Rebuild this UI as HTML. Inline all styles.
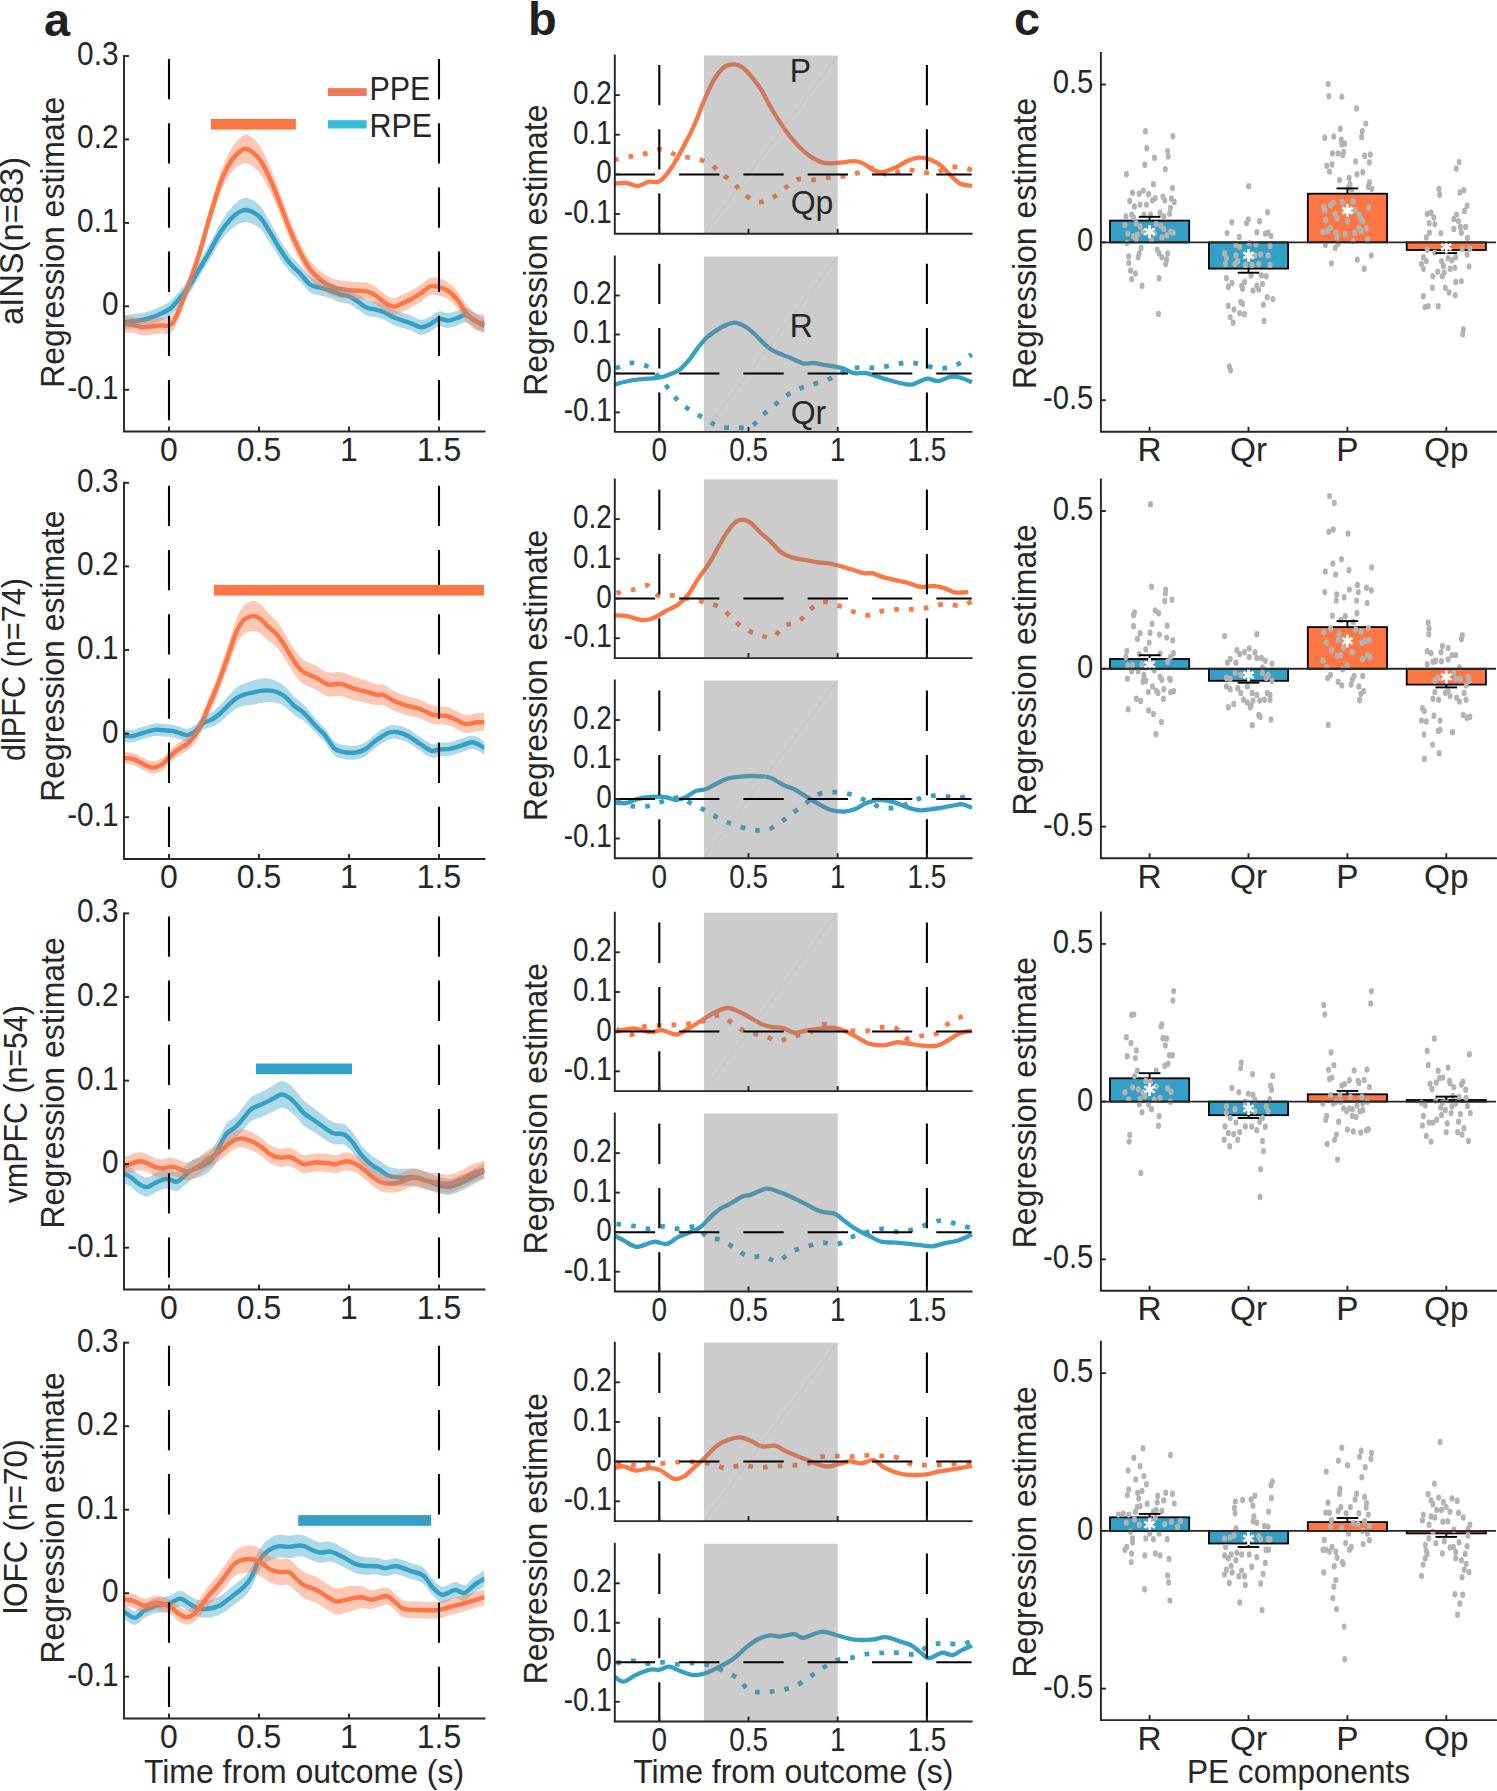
<!DOCTYPE html>
<html><head><meta charset="utf-8"><style>
html,body{margin:0;padding:0;background:#fff;}
svg{display:block;}
text{font-family:"Liberation Sans", sans-serif;}
</style></head><body>
<svg width="1497" height="1791" viewBox="0 0 1497 1791">
<rect width="1497" height="1791" fill="#fff"/>
<clipPath id="clipa0"><rect x="124" y="36" width="360.5" height="395.5"/></clipPath>
<g clip-path="url(#clipa0)">
<path d="M124.0,322.4 C125.5,322.2 130.0,321.6 133.0,321.2 C136.0,320.8 139.0,320.6 142.0,320.0 C145.0,319.4 148.0,318.6 151.0,317.6 C154.0,316.6 156.8,315.5 160.0,314.0 C163.2,312.5 166.7,311.5 170.0,308.8 C173.3,306.1 176.7,301.8 180.0,297.8 C183.3,293.8 186.7,289.7 190.1,284.7 C193.5,279.7 196.8,273.3 200.2,267.6 C203.5,261.9 206.8,256.4 210.2,250.6 C213.5,244.8 217.0,237.7 220.3,232.5 C223.7,227.3 227.0,222.9 230.3,219.4 C233.7,215.9 237.4,212.9 240.4,211.4 C243.4,209.9 245.1,209.4 248.4,210.4 C251.7,211.4 256.5,213.7 260.1,217.4 C263.7,221.1 266.8,227.2 270.1,232.5 C273.5,237.8 276.9,244.3 280.2,249.5 C283.5,254.7 286.8,259.6 290.2,263.6 C293.6,267.6 296.9,270.2 300.3,273.7 C303.7,277.2 307.0,282.4 310.3,284.7 C313.6,287.0 316.9,286.7 320.4,287.7 C323.8,288.7 327.7,289.7 331.0,290.8 C334.3,291.9 337.0,293.5 340.0,294.4 C343.0,295.3 346.0,295.1 349.0,296.3 C352.0,297.5 355.0,299.8 358.0,301.7 C361.0,303.6 364.0,306.5 367.0,307.8 C370.0,309.1 373.0,308.8 376.0,309.6 C379.0,310.4 382.0,311.4 385.0,312.7 C388.0,314.0 391.0,316.2 394.0,317.5 C397.0,318.8 400.0,319.6 403.0,320.6 C406.0,321.6 409.0,322.5 412.0,323.6 C415.0,324.7 418.0,327.2 421.0,327.3 C424.0,327.4 427.0,325.6 430.0,324.2 C433.0,322.8 436.0,319.4 439.0,318.8 C442.0,318.2 445.0,320.7 448.0,320.6 C451.0,320.5 454.0,319.0 457.0,318.1 C460.0,317.2 463.0,314.7 466.0,315.1 C469.0,315.5 471.9,318.8 475.0,320.6 C478.1,322.4 482.9,325.1 484.5,326.0" fill="none" stroke="#35A0C5" stroke-width="4.4" stroke-linejoin="round"/>
<path d="M124.0,324.2 C125.5,324.3 130.0,324.3 133.0,324.8 C136.0,325.3 139.0,326.9 142.0,327.2 C145.0,327.5 148.0,326.9 151.0,326.6 C154.0,326.3 157.0,325.6 160.0,325.4 C163.0,325.2 166.3,326.8 169.0,325.4 C171.7,324.0 172.5,324.3 176.0,316.9 C179.5,309.4 186.1,291.8 190.1,280.7 C194.1,269.6 196.8,261.5 200.2,250.6 C203.5,239.7 206.8,226.6 210.2,215.4 C213.5,204.2 217.0,192.1 220.3,183.2 C223.7,174.3 227.0,167.4 230.3,162.1 C233.7,156.8 237.4,153.2 240.4,151.1 C243.4,149.0 245.1,148.0 248.4,149.5 C251.7,151.0 256.5,155.2 260.1,160.1 C263.7,165.0 266.8,171.8 270.1,179.2 C273.5,186.6 276.9,195.8 280.2,204.3 C283.5,212.9 286.8,222.4 290.2,230.5 C293.6,238.6 296.9,246.1 300.3,252.6 C303.7,259.1 307.0,265.1 310.3,269.6 C313.6,274.1 316.9,276.9 320.4,279.7 C323.8,282.5 327.7,284.9 331.0,286.5 C334.3,288.1 337.0,288.4 340.0,289.0 C343.0,289.6 346.0,289.9 349.0,290.2 C352.0,290.5 355.0,290.6 358.0,290.8 C361.0,291.0 364.0,290.6 367.0,291.4 C370.0,292.2 373.0,293.8 376.0,295.7 C379.0,297.6 382.0,301.1 385.0,302.9 C388.0,304.7 391.0,306.6 394.0,306.6 C397.0,306.6 400.0,304.2 403.0,302.9 C406.0,301.6 409.0,300.3 412.0,298.7 C415.0,297.1 418.0,295.2 421.0,293.2 C424.0,291.2 427.0,287.5 430.0,286.5 C433.0,285.5 436.0,286.4 439.0,287.1 C442.0,287.8 445.0,288.8 448.0,290.8 C451.0,292.8 454.0,295.7 457.0,299.3 C460.0,302.9 463.0,309.1 466.0,312.7 C469.0,316.3 471.9,319.4 475.0,321.2 C478.1,323.0 482.9,323.2 484.5,323.6" fill="none" stroke="#FF7645" stroke-width="4.4" stroke-linejoin="round"/>
<path d="M124.0,315.4 L125.0,315.3 L126.3,315.1 L127.9,314.8 L129.7,314.6 L131.4,314.4 L133.0,314.1 L134.5,313.9 L136.0,313.8 L137.5,313.6 L139.0,313.4 L140.5,313.2 L142.0,312.9 L143.5,312.6 L145.0,312.2 L146.5,311.8 L148.0,311.4 L149.5,310.9 L151.0,310.4 L152.5,309.9 L154.0,309.4 L155.4,308.8 L156.9,308.2 L158.4,307.5 L160.0,306.8 L161.6,306.1 L163.3,305.4 L164.9,304.6 L166.6,303.8 L168.3,302.7 L170.0,301.5 L171.7,300.0 L173.3,298.3 L175.0,296.5 L176.7,294.5 L178.3,292.5 L180.0,290.5 L181.7,288.4 L183.4,286.4 L185.0,284.3 L186.7,282.1 L188.4,279.7 L190.1,277.3 L191.8,274.7 L193.5,271.9 L195.2,269.0 L196.8,266.0 L198.5,263.0 L200.2,260.1 L201.9,257.2 L203.5,254.3 L205.2,251.4 L206.9,248.5 L208.5,245.5 L210.2,242.5 L211.9,239.3 L213.6,236.0 L215.2,232.7 L216.9,229.4 L218.6,226.2 L220.3,223.3 L222.0,220.5 L223.6,217.9 L225.3,215.5 L227.0,213.1 L228.6,210.9 L230.3,208.9 L232.0,206.9 L233.7,205.1 L235.5,203.4 L237.2,201.9 L238.8,200.6 L240.4,199.5 L241.8,198.8 L243.1,198.2 L244.3,197.9 L245.5,197.7 L246.9,197.8 L248.4,198.2 L250.2,198.9 L252.1,199.9 L254.1,201.1 L256.2,202.5 L258.2,204.1 L260.1,206.0 L261.9,208.2 L263.6,210.8 L265.2,213.5 L266.8,216.4 L268.4,219.3 L270.1,222.2 L271.8,225.2 L273.5,228.2 L275.2,231.3 L276.8,234.4 L278.5,237.4 L280.2,240.3 L281.9,243.0 L283.5,245.6 L285.2,248.2 L286.9,250.6 L288.5,253.0 L290.2,255.2 L291.9,257.2 L293.6,259.0 L295.3,260.7 L296.9,262.3 L298.6,264.0 L300.3,265.7 L302.0,267.6 L303.6,269.6 L305.3,271.7 L307.0,273.6 L308.6,275.4 L310.3,276.8 L312.0,277.7 L313.6,278.4 L315.3,278.8 L317.0,279.1 L318.7,279.4 L320.4,279.8 L322.2,280.3 L324.0,280.8 L325.8,281.3 L327.6,281.9 L329.3,282.4 L331.0,283.0 L332.6,283.5 L334.1,284.2 L335.6,284.8 L337.1,285.5 L338.5,286.1 L340.0,286.6 L341.5,287.0 L343.0,287.2 L344.5,287.4 L346.0,287.7 L347.5,288.0 L349.0,288.5 L350.5,289.2 L352.0,290.1 L353.5,291.0 L355.0,292.0 L356.5,293.0 L358.0,294.0 L359.5,295.0 L361.0,296.1 L362.5,297.3 L364.0,298.4 L365.5,299.3 L367.0,300.1 L368.5,300.6 L370.0,301.0 L371.5,301.2 L373.0,301.4 L374.5,301.6 L376.0,301.9 L377.5,302.4 L379.0,302.8 L380.5,303.3 L382.0,303.9 L383.5,304.4 L385.0,305.1 L386.5,305.8 L388.0,306.6 L389.5,307.5 L391.0,308.4 L392.5,309.2 L394.0,309.9 L395.5,310.5 L397.0,311.1 L398.5,311.6 L400.0,312.1 L401.5,312.6 L403.0,313.1 L404.5,313.6 L406.0,314.1 L407.5,314.5 L409.0,315.0 L410.5,315.5 L412.0,316.1 L413.5,316.8 L415.0,317.5 L416.5,318.3 L418.0,319.1 L419.5,319.6 L421.0,319.8 L422.5,319.7 L424.0,319.4 L425.5,318.9 L427.0,318.2 L428.5,317.5 L430.0,316.8 L431.5,315.9 L433.0,314.9 L434.5,313.8 L436.0,312.7 L437.5,311.9 L439.0,311.4 L440.5,311.3 L442.0,311.6 L443.5,312.1 L445.0,312.7 L446.5,313.1 L448.0,313.2 L449.5,313.1 L451.0,312.8 L452.5,312.3 L454.0,311.8 L455.5,311.3 L457.0,310.8 L458.5,310.2 L460.0,309.5 L461.5,308.8 L463.0,308.2 L464.5,307.8 L466.0,307.8 L467.5,308.3 L469.0,309.0 L470.5,310.1 L472.0,311.2 L473.5,312.3 L475.0,313.4 L476.7,314.3 L478.5,315.4 L480.3,316.4 L482.0,317.4 L483.5,318.2 L484.5,318.8 L484.5,333.2 L483.5,332.6 L482.0,331.8 L480.3,330.9 L478.5,329.8 L476.7,328.8 L475.0,327.8 L473.5,326.8 L472.0,325.7 L470.5,324.6 L469.0,323.6 L467.5,322.8 L466.0,322.4 L464.5,322.4 L463.0,322.8 L461.5,323.4 L460.0,324.1 L458.5,324.8 L457.0,325.4 L455.5,325.9 L454.0,326.5 L452.5,327.0 L451.0,327.4 L449.5,327.8 L448.0,328.0 L446.5,327.8 L445.0,327.4 L443.5,326.9 L442.0,326.4 L440.5,326.1 L439.0,326.2 L437.5,326.7 L436.0,327.6 L434.5,328.6 L433.0,329.7 L431.5,330.8 L430.0,331.6 L428.5,332.4 L427.0,333.1 L425.5,333.8 L424.0,334.3 L422.5,334.7 L421.0,334.8 L419.5,334.5 L418.0,334.0 L416.5,333.3 L415.0,332.5 L413.5,331.8 L412.0,331.1 L410.5,330.6 L409.0,330.1 L407.5,329.6 L406.0,329.1 L404.5,328.6 L403.0,328.1 L401.5,327.7 L400.0,327.2 L398.5,326.7 L397.0,326.2 L395.5,325.7 L394.0,325.1 L392.5,324.4 L391.0,323.6 L389.5,322.7 L388.0,321.8 L386.5,321.0 L385.0,320.3 L383.5,319.7 L382.0,319.1 L380.5,318.6 L379.0,318.1 L377.5,317.7 L376.0,317.3 L374.5,316.9 L373.0,316.7 L371.5,316.6 L370.0,316.4 L368.5,316.0 L367.0,315.5 L365.5,314.7 L364.0,313.8 L362.5,312.7 L361.0,311.6 L359.5,310.5 L358.0,309.4 L356.5,308.5 L355.0,307.5 L353.5,306.5 L352.0,305.6 L350.5,304.8 L349.0,304.1 L347.5,303.6 L346.0,303.3 L344.5,303.0 L343.0,302.8 L341.5,302.6 L340.0,302.2 L338.5,301.7 L337.1,301.1 L335.6,300.5 L334.1,299.9 L332.6,299.2 L331.0,298.6 L329.3,298.1 L327.6,297.6 L325.8,297.1 L324.0,296.6 L322.2,296.1 L320.4,295.6 L318.7,295.2 L317.0,294.9 L315.3,294.6 L313.6,294.2 L312.0,293.6 L310.3,292.6 L308.6,291.3 L307.0,289.5 L305.3,287.6 L303.6,285.6 L302.0,283.5 L300.3,281.7 L298.6,280.1 L296.9,278.5 L295.3,277.0 L293.6,275.5 L291.9,273.8 L290.2,272.0 L288.5,270.1 L286.9,268.0 L285.2,265.8 L283.5,263.5 L281.9,261.2 L280.2,258.7 L278.5,256.2 L276.8,253.6 L275.2,250.8 L273.5,248.1 L271.8,245.4 L270.1,242.8 L268.4,240.2 L266.8,237.7 L265.2,235.1 L263.6,232.8 L261.9,230.6 L260.1,228.8 L258.2,227.2 L256.2,225.8 L254.1,224.7 L252.1,223.8 L250.2,223.1 L248.4,222.6 L246.9,222.2 L245.5,222.0 L244.3,222.0 L243.1,222.3 L241.8,222.7 L240.4,223.3 L238.8,224.0 L237.2,224.8 L235.5,225.9 L233.7,227.1 L232.0,228.4 L230.3,229.9 L228.6,231.5 L227.0,233.3 L225.3,235.2 L223.6,237.2 L222.0,239.4 L220.3,241.7 L218.6,244.3 L216.9,247.0 L215.2,249.9 L213.6,252.9 L211.9,255.9 L210.2,258.7 L208.5,261.5 L206.9,264.2 L205.2,266.9 L203.5,269.6 L201.9,272.3 L200.2,275.1 L198.5,278.0 L196.8,280.9 L195.2,283.8 L193.5,286.7 L191.8,289.5 L190.1,292.1 L188.4,294.5 L186.7,296.8 L185.0,299.0 L183.4,301.1 L181.7,303.1 L180.0,305.1 L178.3,307.2 L176.7,309.2 L175.0,311.1 L173.3,312.9 L171.7,314.6 L170.0,316.1 L168.3,317.3 L166.6,318.3 L164.9,319.1 L163.3,319.8 L161.6,320.5 L160.0,321.2 L158.4,321.9 L156.9,322.6 L155.4,323.2 L154.0,323.7 L152.5,324.3 L151.0,324.8 L149.5,325.2 L148.0,325.7 L146.5,326.1 L145.0,326.5 L143.5,326.8 L142.0,327.1 L140.5,327.4 L139.0,327.6 L137.5,327.8 L136.0,327.9 L134.5,328.1 L133.0,328.3 L131.4,328.5 L129.7,328.7 L127.9,328.9 L126.3,329.1 L125.0,329.3 L124.0,329.4 Z" fill="#35A0C5" fill-opacity="0.4" stroke="none"/>
<path d="M124.0,316.2 L125.0,316.2 L126.3,316.3 L127.9,316.4 L129.7,316.4 L131.4,316.6 L133.0,316.8 L134.5,317.1 L136.0,317.6 L137.5,318.1 L139.0,318.6 L140.5,319.0 L142.0,319.2 L143.5,319.3 L145.0,319.2 L146.5,319.1 L148.0,319.0 L149.5,318.8 L151.0,318.6 L152.5,318.4 L154.0,318.2 L155.5,318.0 L157.0,317.7 L158.5,317.5 L160.0,317.4 L161.5,317.4 L163.1,317.6 L164.6,317.9 L166.1,318.0 L167.6,317.9 L169.0,317.4 L170.2,316.8 L171.2,316.2 L172.2,315.4 L173.2,314.1 L174.4,312.0 L176.0,308.9 L178.0,304.4 L180.3,298.7 L182.9,292.1 L185.4,285.3 L187.9,278.7 L190.1,272.7 L192.0,267.4 L193.8,262.3 L195.4,257.5 L197.0,252.6 L198.6,247.6 L200.2,242.4 L201.9,236.7 L203.5,230.7 L205.2,224.6 L206.9,218.5 L208.5,212.5 L210.2,206.6 L211.9,200.7 L213.6,194.8 L215.2,189.0 L216.9,183.4 L218.6,178.0 L220.3,173.1 L222.0,168.6 L223.6,164.3 L225.3,160.3 L227.0,156.7 L228.6,153.3 L230.3,150.2 L232.0,147.3 L233.7,144.8 L235.5,142.5 L237.2,140.5 L238.8,138.7 L240.4,137.2 L241.8,136.2 L243.1,135.4 L244.3,134.8 L245.5,134.5 L246.9,134.6 L248.4,135.1 L250.2,136.2 L252.1,137.6 L254.1,139.4 L256.2,141.5 L258.2,143.8 L260.1,146.3 L261.9,149.2 L263.6,152.4 L265.2,155.8 L266.8,159.4 L268.4,163.1 L270.1,167.0 L271.8,171.1 L273.5,175.4 L275.2,179.9 L276.8,184.4 L278.5,189.0 L280.2,193.6 L281.9,198.1 L283.5,202.6 L285.2,207.3 L286.9,211.9 L288.5,216.3 L290.2,220.6 L291.9,224.7 L293.6,228.7 L295.3,232.6 L296.9,236.3 L298.6,239.9 L300.3,243.4 L302.0,246.7 L303.6,249.8 L305.3,252.9 L307.0,255.7 L308.6,258.4 L310.3,260.9 L312.0,263.0 L313.6,264.9 L315.3,266.6 L317.0,268.2 L318.7,269.7 L320.4,271.1 L322.2,272.5 L324.0,273.8 L325.8,275.0 L327.6,276.1 L329.3,277.1 L331.0,277.9 L332.6,278.6 L334.1,279.1 L335.6,279.5 L337.1,279.8 L338.5,280.1 L340.0,280.4 L341.5,280.7 L343.0,280.9 L344.5,281.1 L346.0,281.3 L347.5,281.4 L349.0,281.6 L350.5,281.7 L352.0,281.8 L353.5,281.9 L355.0,282.0 L356.5,282.1 L358.0,282.2 L359.5,282.3 L361.0,282.3 L362.5,282.3 L364.0,282.3 L365.5,282.5 L367.0,282.8 L368.5,283.3 L370.0,283.9 L371.5,284.5 L373.0,285.3 L374.5,286.2 L376.0,287.1 L377.5,288.2 L379.0,289.4 L380.5,290.7 L382.0,292.1 L383.5,293.3 L385.0,294.3 L386.5,295.2 L388.0,296.1 L389.5,296.8 L391.0,297.4 L392.5,297.9 L394.0,298.0 L395.5,297.8 L397.0,297.3 L398.5,296.6 L400.0,295.8 L401.5,295.0 L403.0,294.3 L404.5,293.6 L406.0,293.0 L407.5,292.3 L409.0,291.6 L410.5,290.9 L412.0,290.1 L413.5,289.3 L415.0,288.4 L416.5,287.5 L418.0,286.6 L419.5,285.6 L421.0,284.6 L422.5,283.5 L424.0,282.2 L425.5,280.9 L427.0,279.6 L428.5,278.6 L430.0,277.9 L431.5,277.5 L433.0,277.4 L434.5,277.6 L436.0,277.8 L437.5,278.1 L439.0,278.5 L440.5,278.9 L442.0,279.3 L443.5,279.9 L445.0,280.5 L446.5,281.3 L448.0,282.2 L449.5,283.3 L451.0,284.5 L452.5,285.8 L454.0,287.3 L455.5,288.9 L457.0,290.7 L458.5,292.7 L460.0,295.0 L461.5,297.4 L463.0,299.8 L464.5,302.1 L466.0,304.1 L467.5,305.9 L469.0,307.5 L470.5,309.0 L472.0,310.4 L473.5,311.6 L475.0,312.6 L476.7,313.4 L478.5,313.9 L480.3,314.3 L482.0,314.6 L483.5,314.8 L484.5,315.0 L484.5,332.2 L483.5,332.0 L482.0,331.8 L480.3,331.5 L478.5,331.1 L476.7,330.6 L475.0,329.8 L473.5,328.8 L472.0,327.6 L470.5,326.2 L469.0,324.7 L467.5,323.1 L466.0,321.3 L464.5,319.3 L463.0,317.0 L461.5,314.6 L460.0,312.2 L458.5,309.9 L457.0,307.9 L455.5,306.1 L454.0,304.5 L452.5,303.0 L451.0,301.7 L449.5,300.5 L448.0,299.4 L446.5,298.5 L445.0,297.7 L443.5,297.1 L442.0,296.5 L440.5,296.1 L439.0,295.7 L437.5,295.3 L436.0,295.0 L434.5,294.8 L433.0,294.6 L431.5,294.7 L430.0,295.1 L428.5,295.8 L427.0,296.8 L425.5,298.1 L424.0,299.4 L422.5,300.7 L421.0,301.8 L419.5,302.8 L418.0,303.8 L416.5,304.7 L415.0,305.6 L413.5,306.5 L412.0,307.3 L410.5,308.1 L409.0,308.8 L407.5,309.5 L406.0,310.2 L404.5,310.8 L403.0,311.5 L401.5,312.2 L400.0,313.0 L398.5,313.8 L397.0,314.5 L395.5,315.0 L394.0,315.2 L392.5,315.1 L391.0,314.6 L389.5,314.0 L388.0,313.3 L386.5,312.4 L385.0,311.5 L383.5,310.5 L382.0,309.3 L380.5,307.9 L379.0,306.6 L377.5,305.4 L376.0,304.3 L374.5,303.4 L373.0,302.5 L371.5,301.7 L370.0,301.1 L368.5,300.5 L367.0,300.0 L365.5,299.7 L364.0,299.5 L362.5,299.5 L361.0,299.5 L359.5,299.5 L358.0,299.4 L356.5,299.3 L355.0,299.2 L353.5,299.1 L352.0,299.0 L350.5,298.9 L349.0,298.8 L347.5,298.6 L346.0,298.5 L344.5,298.3 L343.0,298.1 L341.5,297.9 L340.0,297.6 L338.5,297.3 L337.1,297.0 L335.6,296.7 L334.1,296.3 L332.6,295.8 L331.0,295.1 L329.3,294.3 L327.6,293.3 L325.8,292.2 L324.0,291.0 L322.2,289.7 L320.4,288.3 L318.7,286.9 L317.0,285.5 L315.3,284.0 L313.6,282.3 L312.0,280.4 L310.3,278.3 L308.6,276.0 L307.0,273.5 L305.3,270.8 L303.6,268.0 L302.0,265.0 L300.3,261.8 L298.6,258.6 L296.9,255.2 L295.3,251.7 L293.6,248.0 L291.9,244.3 L290.2,240.4 L288.5,236.4 L286.9,232.2 L285.2,227.9 L283.5,223.6 L281.9,219.2 L280.2,215.0 L278.5,211.0 L276.8,206.8 L275.2,202.7 L273.5,198.8 L271.8,194.9 L270.1,191.3 L268.4,188.0 L266.8,184.8 L265.2,181.7 L263.6,178.9 L261.9,176.3 L260.1,173.9 L258.2,171.6 L256.2,169.5 L254.1,167.6 L252.1,166.0 L250.2,164.8 L248.4,163.9 L246.9,163.3 L245.5,163.0 L244.3,163.1 L243.1,163.5 L241.8,164.1 L240.4,165.0 L238.8,165.8 L237.2,166.9 L235.5,168.3 L233.7,169.9 L232.0,171.8 L230.3,174.0 L228.6,176.5 L227.0,179.3 L225.3,182.3 L223.6,185.6 L222.0,189.3 L220.3,193.2 L218.6,197.7 L216.9,202.6 L215.2,207.8 L213.6,213.2 L211.9,218.7 L210.2,224.2 L208.5,229.8 L206.9,235.7 L205.2,241.6 L203.5,247.6 L201.9,253.3 L200.2,258.8 L198.6,264.0 L197.0,268.9 L195.4,273.7 L193.8,278.5 L192.0,283.4 L190.1,288.7 L187.9,294.7 L185.4,301.3 L182.9,308.1 L180.3,314.7 L178.0,320.4 L176.0,324.9 L174.4,328.0 L173.2,330.1 L172.2,331.4 L171.2,332.2 L170.2,332.8 L169.0,333.4 L167.6,333.9 L166.1,334.0 L164.6,333.9 L163.1,333.6 L161.5,333.4 L160.0,333.4 L158.5,333.5 L157.0,333.7 L155.5,334.0 L154.0,334.2 L152.5,334.4 L151.0,334.6 L149.5,334.8 L148.0,335.0 L146.5,335.1 L145.0,335.2 L143.5,335.3 L142.0,335.2 L140.5,335.0 L139.0,334.6 L137.5,334.1 L136.0,333.6 L134.5,333.1 L133.0,332.8 L131.4,332.6 L129.7,332.4 L127.9,332.4 L126.3,332.3 L125.0,332.2 L124.0,332.2 Z" fill="#FF7645" fill-opacity="0.4" stroke="none"/>
</g>
<line x1="169.0" y1="59.0" x2="169.0" y2="431.5" stroke="#000" stroke-width="2.1" stroke-dasharray="40.3 23.9"/>
<line x1="439.0" y1="59.0" x2="439.0" y2="431.5" stroke="#000" stroke-width="2.1" stroke-dasharray="40.3 23.9"/>
<rect x="210.9" y="118.9" width="85.0" height="10.7" fill="#FF7645"/>
<path d="M124.0,56.0 L124.0,431.5 L484.5,431.5" fill="none" stroke="#262626" stroke-width="1.9" stroke-linecap="square"/>
<line x1="124.0" y1="56.0" x2="129.0" y2="56.0" stroke="#262626" stroke-width="1.9"/>
<text transform="translate(118.50,65.00) scale(0.876,1)" font-size="34" text-anchor="end" font-weight="normal" fill="#262626">0.3</text>
<line x1="124.0" y1="139.4" x2="129.0" y2="139.4" stroke="#262626" stroke-width="1.9"/>
<text transform="translate(118.50,148.44) scale(0.876,1)" font-size="34" text-anchor="end" font-weight="normal" fill="#262626">0.2</text>
<line x1="124.0" y1="222.9" x2="129.0" y2="222.9" stroke="#262626" stroke-width="1.9"/>
<text transform="translate(118.50,231.89) scale(0.876,1)" font-size="34" text-anchor="end" font-weight="normal" fill="#262626">0.1</text>
<line x1="124.0" y1="306.3" x2="129.0" y2="306.3" stroke="#262626" stroke-width="1.9"/>
<text transform="translate(118.50,315.33) scale(0.876,1)" font-size="34" text-anchor="end" font-weight="normal" fill="#262626">0</text>
<line x1="124.0" y1="389.8" x2="129.0" y2="389.8" stroke="#262626" stroke-width="1.9"/>
<text transform="translate(118.50,398.78) scale(0.876,1)" font-size="34" text-anchor="end" font-weight="normal" fill="#262626">-0.1</text>
<line x1="169.0" y1="431.5" x2="169.0" y2="426.5" stroke="#262626" stroke-width="1.9"/>
<text transform="translate(169.00,460.80) scale(0.94,1)" font-size="34" text-anchor="middle" font-weight="normal" fill="#262626">0</text>
<line x1="259.0" y1="431.5" x2="259.0" y2="426.5" stroke="#262626" stroke-width="1.9"/>
<text transform="translate(259.00,460.80) scale(0.94,1)" font-size="34" text-anchor="middle" font-weight="normal" fill="#262626">0.5</text>
<line x1="349.0" y1="431.5" x2="349.0" y2="426.5" stroke="#262626" stroke-width="1.9"/>
<text transform="translate(349.00,460.80) scale(0.94,1)" font-size="34" text-anchor="middle" font-weight="normal" fill="#262626">1</text>
<line x1="439.0" y1="431.5" x2="439.0" y2="426.5" stroke="#262626" stroke-width="1.9"/>
<text transform="translate(439.00,460.80) scale(0.94,1)" font-size="34" text-anchor="middle" font-weight="normal" fill="#262626">1.5</text>
<text transform="translate(64.30,242.25) rotate(-90) scale(0.94,1)" font-size="34" text-anchor="middle" fill="#262626">Regression estimate</text>
<text transform="translate(23.10,240.95) rotate(-90) scale(0.962,1)" font-size="34" text-anchor="middle" fill="#262626">aINS(n=83)</text>
<clipPath id="clipa1"><rect x="124" y="462.8" width="360.5" height="396.2"/></clipPath>
<g clip-path="url(#clipa1)">
<path d="M124.0,735.7 C125.2,735.8 128.6,736.6 131.2,736.3 C133.8,736.0 136.8,734.7 139.6,733.9 C142.4,733.1 145.4,732.2 148.0,731.5 C150.7,730.8 152.7,729.9 155.3,729.7 C157.9,729.5 160.9,730.1 163.7,730.3 C166.5,730.5 169.3,730.4 172.1,730.9 C174.9,731.4 177.9,732.6 180.5,733.3 C183.1,734.0 185.3,735.4 187.7,735.1 C190.1,734.8 192.3,733.5 194.9,731.5 C197.5,729.5 200.6,725.1 203.4,723.1 C206.2,721.1 209.0,721.1 211.8,719.5 C214.6,717.9 217.4,715.9 220.2,713.5 C223.0,711.1 225.8,707.7 228.6,705.0 C231.4,702.4 234.2,699.6 237.0,697.8 C239.8,696.0 242.6,695.1 245.4,694.2 C248.2,693.3 251.1,693.0 253.9,692.4 C256.7,691.8 259.5,690.9 262.3,690.6 C265.1,690.3 267.9,690.2 270.7,690.6 C273.5,691.0 276.5,691.8 279.1,693.0 C281.7,694.2 283.7,695.6 286.3,697.8 C288.9,700.0 291.8,703.7 294.7,706.3 C297.7,708.8 300.4,709.7 304.0,713.1 C307.6,716.4 312.7,722.8 316.2,726.4 C319.6,730.1 321.6,731.3 324.7,734.9 C327.7,738.6 331.2,745.5 334.4,748.3 C337.6,751.2 340.7,751.3 344.1,752.0 C347.6,752.7 351.6,753.0 355.1,752.6 C358.5,752.2 361.1,751.7 364.8,749.5 C368.4,747.4 372.9,742.6 376.9,739.8 C381.0,737.0 385.5,733.7 389.1,732.5 C392.8,731.3 395.6,731.9 398.8,732.5 C402.1,733.1 405.1,734.3 408.6,736.2 C412.0,738.0 415.6,741.0 419.5,743.5 C423.3,745.9 428.4,749.7 431.7,750.8 C434.9,751.8 435.9,749.8 438.9,749.5 C442.0,749.2 446.0,749.6 449.9,748.9 C453.7,748.2 458.4,746.4 462.0,745.3 C465.7,744.2 468.9,742.3 471.8,742.2 C474.6,742.1 476.9,743.7 479.1,744.7 C481.2,745.7 483.6,747.7 484.5,748.3" fill="none" stroke="#35A0C5" stroke-width="4.4" stroke-linejoin="round"/>
<path d="M124.0,758.0 C125.6,758.2 130.4,758.2 133.6,759.2 C136.8,760.2 140.0,762.6 143.2,764.0 C146.4,765.4 149.7,767.6 152.9,767.6 C156.1,767.6 159.7,765.8 162.5,764.0 C165.3,762.2 167.1,759.2 169.7,756.8 C172.3,754.3 175.1,751.7 178.1,749.5 C181.1,747.3 184.7,746.1 187.7,743.5 C190.7,740.9 193.7,737.5 196.1,733.9 C198.5,730.3 200.2,726.3 202.2,721.9 C204.2,717.5 206.0,712.7 208.2,707.5 C210.4,702.2 213.0,696.6 215.4,690.6 C217.8,684.6 220.2,678.0 222.6,671.4 C225.0,664.8 227.4,657.8 229.8,650.9 C232.2,644.1 234.6,635.7 237.0,630.5 C239.4,625.3 241.6,622.1 244.2,619.7 C246.8,617.3 250.1,616.3 252.7,616.1 C255.3,615.9 257.3,616.7 259.9,618.5 C262.5,620.3 265.7,624.5 268.3,626.9 C270.9,629.3 273.1,630.3 275.5,632.9 C277.9,635.5 280.3,638.9 282.7,642.5 C285.1,646.1 287.5,650.7 289.9,654.5 C292.3,658.4 294.8,662.4 297.1,665.4 C299.5,668.3 300.8,670.3 304.0,672.3 C307.2,674.4 312.1,675.8 316.2,677.8 C320.2,679.8 324.3,683.5 328.3,684.5 C332.4,685.5 336.4,683.3 340.5,683.9 C344.5,684.5 348.6,686.9 352.6,688.1 C356.7,689.4 360.7,690.1 364.8,691.2 C368.8,692.3 373.9,694.2 376.9,694.8 C380.0,695.4 380.0,693.7 383.0,694.8 C386.1,695.9 391.1,699.7 395.2,701.5 C399.2,703.3 403.3,704.6 407.3,705.8 C411.4,707.0 415.4,707.4 419.5,708.8 C423.5,710.2 428.4,713.2 431.7,714.3 C434.9,715.4 436.3,715.2 438.9,715.5 C441.6,715.8 444.6,715.4 447.5,716.1 C450.3,716.8 452.9,718.4 456.0,719.8 C459.0,721.1 462.3,723.6 465.7,724.0 C469.1,724.4 473.5,722.5 476.6,722.2 C479.8,721.9 483.2,722.2 484.5,722.2" fill="none" stroke="#FF7645" stroke-width="4.4" stroke-linejoin="round"/>
<path d="M124.0,729.7 L124.8,729.8 L125.8,730.0 L127.1,730.1 L128.5,730.3 L129.9,730.3 L131.2,730.3 L132.5,730.0 L133.9,729.7 L135.3,729.2 L136.8,728.7 L138.2,728.3 L139.6,727.8 L141.0,727.4 L142.5,727.0 L143.9,726.5 L145.3,726.1 L146.7,725.7 L148.0,725.4 L149.3,725.0 L150.5,724.6 L151.7,724.2 L152.8,723.9 L154.0,723.7 L155.3,723.5 L156.6,723.5 L158.0,723.5 L159.4,723.6 L160.8,723.8 L162.3,723.9 L163.7,724.1 L165.1,724.1 L166.5,724.2 L167.9,724.2 L169.3,724.3 L170.7,724.4 L172.1,724.6 L173.5,724.9 L174.9,725.3 L176.4,725.7 L177.8,726.2 L179.2,726.6 L180.5,727.0 L181.8,727.3 L183.0,727.8 L184.2,728.2 L185.4,728.6 L186.5,728.7 L187.7,728.7 L188.9,728.5 L190.1,728.1 L191.3,727.5 L192.4,726.8 L193.7,726.0 L194.9,725.1 L196.3,723.9 L197.7,722.4 L199.1,720.8 L200.5,719.2 L201.9,717.8 L203.4,716.6 L204.8,715.6 L206.2,714.8 L207.6,714.2 L209.0,713.6 L210.4,712.9 L211.8,712.1 L213.2,711.1 L214.6,710.0 L216.0,708.8 L217.4,707.6 L218.8,706.3 L220.2,705.0 L221.6,703.5 L223.0,702.0 L224.4,700.3 L225.8,698.7 L227.2,697.0 L228.6,695.5 L230.0,694.0 L231.4,692.6 L232.8,691.1 L234.2,689.8 L235.6,688.5 L237.0,687.4 L238.4,686.4 L239.8,685.5 L241.2,684.8 L242.6,684.1 L244.0,683.5 L245.4,682.9 L246.8,682.4 L248.2,681.9 L249.7,681.5 L251.1,681.1 L252.5,680.7 L253.9,680.3 L255.3,680.0 L256.7,679.6 L258.1,679.2 L259.5,678.9 L260.9,678.6 L262.3,678.3 L263.7,678.3 L265.1,678.4 L266.5,678.5 L267.9,678.6 L269.3,678.9 L270.7,679.1 L272.1,679.5 L273.5,680.0 L275.0,680.5 L276.4,681.0 L277.8,681.7 L279.1,682.4 L280.4,683.1 L281.6,683.9 L282.7,684.7 L283.9,685.7 L285.1,686.7 L286.3,687.9 L287.6,689.2 L289.0,690.8 L290.4,692.4 L291.8,694.1 L293.3,695.7 L294.7,697.2 L296.2,698.5 L297.7,699.7 L299.1,700.8 L300.7,702.0 L302.3,703.4 L304.0,705.1 L305.9,707.1 L308.0,709.6 L310.1,712.1 L312.3,714.8 L314.3,717.3 L316.2,719.4 L317.8,721.1 L319.2,722.5 L320.6,723.7 L321.9,724.9 L323.2,726.3 L324.7,728.0 L326.2,730.0 L327.8,732.4 L329.5,735.0 L331.1,737.4 L332.8,739.6 L334.4,741.4 L336.0,742.6 L337.6,743.4 L339.2,744.0 L340.8,744.4 L342.4,744.7 L344.1,745.0 L345.9,745.3 L347.7,745.6 L349.6,745.8 L351.5,745.8 L353.3,745.8 L355.1,745.7 L356.7,745.4 L358.3,745.2 L359.8,744.8 L361.4,744.3 L363.0,743.6 L364.8,742.6 L366.7,741.4 L368.7,739.8 L370.7,738.0 L372.8,736.2 L374.9,734.5 L376.9,732.9 L379.0,731.5 L381.1,730.1 L383.2,728.7 L385.2,727.4 L387.2,726.4 L389.1,725.7 L390.9,725.2 L392.5,725.0 L394.1,725.0 L395.7,725.1 L397.2,725.4 L398.8,725.7 L400.4,726.0 L402.0,726.5 L403.6,727.0 L405.2,727.7 L406.9,728.5 L408.6,729.3 L410.3,730.3 L412.1,731.5 L413.9,732.8 L415.7,734.1 L417.6,735.4 L419.5,736.6 L421.5,738.0 L423.6,739.4 L425.8,740.8 L427.9,742.2 L429.9,743.2 L431.7,744.0 L433.1,744.2 L434.3,744.2 L435.4,743.9 L436.4,743.4 L437.6,743.0 L438.9,742.8 L440.5,742.7 L442.3,742.6 L444.1,742.6 L446.0,742.6 L448.0,742.4 L449.9,742.2 L451.9,741.7 L453.9,741.2 L456.0,740.5 L458.1,739.8 L460.1,739.1 L462.0,738.5 L463.8,737.9 L465.6,737.3 L467.2,736.7 L468.8,736.1 L470.3,735.7 L471.8,735.5 L473.2,735.6 L474.5,735.9 L475.7,736.3 L476.9,736.9 L478.0,737.4 L479.1,738.0 L480.2,738.5 L481.2,739.2 L482.3,739.9 L483.2,740.6 L484.0,741.2 L484.5,741.6 L484.5,755.0 L484.0,754.6 L483.2,754.0 L482.3,753.4 L481.2,752.6 L480.2,752.0 L479.1,751.4 L478.0,750.8 L476.9,750.3 L475.7,749.8 L474.5,749.3 L473.2,749.0 L471.8,749.0 L470.3,749.2 L468.8,749.6 L467.2,750.1 L465.6,750.8 L463.8,751.4 L462.0,752.0 L460.1,752.6 L458.1,753.3 L456.0,754.0 L453.9,754.7 L451.9,755.2 L449.9,755.7 L448.0,756.0 L446.0,756.1 L444.1,756.2 L442.3,756.2 L440.5,756.2 L438.9,756.3 L437.6,756.6 L436.4,757.0 L435.4,757.4 L434.3,757.7 L433.1,757.8 L431.7,757.5 L429.9,756.8 L427.9,755.8 L425.8,754.4 L423.6,753.0 L421.5,751.6 L419.5,750.3 L417.6,749.0 L415.7,747.7 L413.9,746.4 L412.1,745.2 L410.3,744.0 L408.6,743.0 L406.9,742.1 L405.2,741.4 L403.6,740.7 L402.0,740.2 L400.4,739.7 L398.8,739.4 L397.2,739.1 L395.7,738.8 L394.1,738.7 L392.5,738.7 L390.9,738.9 L389.1,739.4 L387.2,740.2 L385.2,741.2 L383.2,742.4 L381.1,743.8 L379.0,745.3 L376.9,746.7 L374.9,748.3 L372.8,750.0 L370.7,751.8 L368.7,753.6 L366.7,755.2 L364.8,756.4 L363.0,757.4 L361.4,758.1 L359.8,758.6 L358.3,759.0 L356.7,759.3 L355.1,759.5 L353.3,759.7 L351.5,759.7 L349.6,759.6 L347.7,759.5 L345.9,759.2 L344.1,758.9 L342.4,758.6 L340.8,758.3 L339.2,757.9 L337.6,757.3 L336.0,756.5 L334.4,755.3 L332.8,753.6 L331.1,751.4 L329.5,748.9 L327.8,746.4 L326.2,744.0 L324.7,741.9 L323.2,740.3 L321.9,738.9 L320.6,737.7 L319.2,736.4 L317.8,735.1 L316.2,733.4 L314.3,731.6 L312.3,729.4 L310.1,727.1 L308.0,724.9 L305.9,722.8 L304.0,721.1 L302.3,719.7 L300.7,718.7 L299.1,717.9 L297.7,717.1 L296.2,716.3 L294.7,715.3 L293.3,714.1 L291.8,712.8 L290.4,711.4 L289.0,710.1 L287.6,708.9 L286.3,707.8 L285.1,706.9 L283.9,706.1 L282.7,705.4 L281.6,704.7 L280.4,704.2 L279.1,703.7 L277.8,703.3 L276.4,702.9 L275.0,702.6 L273.5,702.4 L272.1,702.2 L270.7,702.1 L269.3,702.1 L267.9,702.1 L266.5,702.2 L265.1,702.4 L263.7,702.6 L262.3,702.9 L260.9,703.1 L259.5,703.3 L258.1,703.6 L256.7,703.9 L255.3,704.2 L253.9,704.5 L252.5,704.7 L251.1,704.8 L249.7,704.9 L248.2,705.1 L246.8,705.3 L245.4,705.5 L244.0,705.8 L242.6,706.2 L241.2,706.6 L239.8,707.1 L238.4,707.6 L237.0,708.3 L235.6,709.1 L234.2,710.1 L232.8,711.2 L231.4,712.3 L230.0,713.5 L228.6,714.6 L227.2,715.8 L225.8,717.1 L224.4,718.3 L223.0,719.6 L221.6,720.8 L220.2,721.9 L218.8,722.9 L217.4,723.8 L216.0,724.7 L214.6,725.5 L213.2,726.2 L211.8,726.9 L210.4,727.4 L209.0,727.8 L207.6,728.1 L206.2,728.4 L204.8,728.9 L203.4,729.6 L201.9,730.7 L200.5,732.2 L199.1,733.8 L197.7,735.3 L196.3,736.8 L194.9,737.9 L193.7,738.9 L192.4,739.7 L191.3,740.4 L190.1,740.9 L188.9,741.3 L187.7,741.5 L186.5,741.5 L185.4,741.3 L184.2,741.0 L183.0,740.5 L181.8,740.1 L180.5,739.7 L179.2,739.3 L177.8,738.8 L176.4,738.4 L174.9,737.9 L173.5,737.5 L172.1,737.2 L170.7,737.0 L169.3,736.8 L167.9,736.8 L166.5,736.7 L165.1,736.6 L163.7,736.5 L162.3,736.4 L160.8,736.2 L159.4,736.1 L158.0,735.9 L156.6,735.9 L155.3,735.9 L154.0,736.0 L152.8,736.3 L151.7,736.6 L150.5,736.9 L149.3,737.3 L148.0,737.7 L146.7,738.0 L145.3,738.4 L143.9,738.8 L142.5,739.2 L141.0,739.6 L139.6,740.0 L138.2,740.4 L136.8,740.9 L135.3,741.4 L133.9,741.8 L132.5,742.1 L131.2,742.4 L129.9,742.4 L128.5,742.3 L127.1,742.2 L125.8,742.0 L124.8,741.8 L124.0,741.7 Z" fill="#35A0C5" fill-opacity="0.4" stroke="none"/>
<path d="M124.0,752.0 L125.0,752.0 L126.5,752.1 L128.2,752.2 L130.1,752.4 L131.9,752.7 L133.6,753.1 L135.2,753.7 L136.8,754.4 L138.4,755.3 L140.0,756.2 L141.6,757.1 L143.2,757.8 L144.8,758.6 L146.4,759.3 L148.0,760.1 L149.7,760.7 L151.3,761.2 L152.9,761.3 L154.5,761.2 L156.2,760.8 L157.8,760.2 L159.4,759.4 L161.0,758.6 L162.5,757.7 L163.8,756.7 L165.0,755.5 L166.2,754.3 L167.3,752.9 L168.4,751.6 L169.7,750.4 L171.0,749.2 L172.4,747.9 L173.7,746.7 L175.2,745.4 L176.6,744.3 L178.1,743.1 L179.7,742.1 L181.3,741.1 L182.9,740.2 L184.6,739.2 L186.2,738.2 L187.7,737.0 L189.2,735.5 L190.7,733.8 L192.2,732.1 L193.6,730.3 L194.9,728.4 L196.1,726.5 L197.3,724.6 L198.3,722.6 L199.3,720.5 L200.2,718.4 L201.2,716.2 L202.2,713.9 L203.1,711.6 L204.1,709.2 L205.1,706.7 L206.1,704.2 L207.1,701.6 L208.2,698.9 L209.3,696.1 L210.5,693.3 L211.7,690.4 L212.9,687.5 L214.2,684.5 L215.4,681.4 L216.6,678.2 L217.8,674.9 L219.0,671.6 L220.2,668.2 L221.4,664.8 L222.6,661.4 L223.8,657.8 L225.0,654.2 L226.2,650.6 L227.4,646.9 L228.6,643.2 L229.8,639.6 L231.0,635.8 L232.2,631.9 L233.4,628.0 L234.6,624.2 L235.8,620.7 L237.0,617.6 L238.2,615.0 L239.4,612.6 L240.6,610.4 L241.7,608.6 L243.0,606.9 L244.2,605.4 L245.6,604.1 L247.0,603.1 L248.4,602.3 L249.9,601.6 L251.3,601.1 L252.7,600.8 L253.9,600.9 L255.1,601.2 L256.3,601.6 L257.4,602.2 L258.6,603.0 L259.9,603.9 L261.2,605.1 L262.6,606.6 L264.1,608.3 L265.5,610.0 L266.9,611.6 L268.3,613.1 L269.6,614.3 L270.8,615.4 L272.0,616.4 L273.1,617.4 L274.3,618.5 L275.5,619.8 L276.7,621.2 L277.9,622.7 L279.1,624.4 L280.3,626.1 L281.5,627.9 L282.7,629.7 L283.9,631.7 L285.1,633.7 L286.3,635.8 L287.5,637.9 L288.7,640.0 L289.9,642.0 L291.1,644.0 L292.3,646.0 L293.6,647.9 L294.8,649.8 L296.0,651.5 L297.1,653.1 L298.2,654.6 L299.3,655.9 L300.3,657.1 L301.3,658.2 L302.6,659.3 L304.0,660.3 L305.7,661.3 L307.7,662.2 L309.7,663.1 L311.9,664.0 L314.1,664.8 L316.2,665.8 L318.2,666.9 L320.2,668.2 L322.2,669.5 L324.3,670.8 L326.3,671.8 L328.3,672.5 L330.3,672.8 L332.4,672.7 L334.4,672.3 L336.4,672.0 L338.4,671.8 L340.5,671.9 L342.5,672.4 L344.5,673.1 L346.6,673.9 L348.6,674.8 L350.6,675.6 L352.6,676.3 L354.7,677.0 L356.7,677.7 L358.7,678.2 L360.7,678.8 L362.8,679.4 L364.8,680.1 L366.9,680.8 L369.1,681.6 L371.2,682.4 L373.3,683.2 L375.3,683.9 L376.9,684.4 L378.2,684.6 L379.2,684.5 L380.0,684.4 L380.8,684.2 L381.7,684.3 L383.0,684.7 L384.7,685.5 L386.6,686.6 L388.7,687.9 L390.9,689.3 L393.1,690.6 L395.2,691.7 L397.2,692.6 L399.2,693.4 L401.3,694.2 L403.3,694.9 L405.3,695.5 L407.3,696.2 L409.4,696.8 L411.4,697.3 L413.4,697.7 L415.4,698.2 L417.5,698.8 L419.5,699.4 L421.6,700.3 L423.7,701.3 L425.9,702.4 L428.0,703.5 L429.9,704.4 L431.7,705.1 L433.1,705.6 L434.4,705.9 L435.5,706.1 L436.6,706.2 L437.7,706.4 L438.9,706.5 L440.3,706.6 L441.7,706.6 L443.1,706.6 L444.6,706.7 L446.0,706.8 L447.5,707.1 L448.9,707.5 L450.3,708.1 L451.6,708.7 L453.0,709.4 L454.5,710.1 L456.0,710.8 L457.5,711.5 L459.1,712.4 L460.7,713.2 L462.3,714.0 L464.0,714.6 L465.7,715.0 L467.5,715.0 L469.4,714.8 L471.3,714.4 L473.2,713.9 L475.0,713.5 L476.6,713.2 L478.2,713.1 L479.8,713.0 L481.3,713.1 L482.6,713.1 L483.7,713.2 L484.5,713.2 L484.5,731.2 L483.7,731.2 L482.6,731.1 L481.3,731.1 L479.8,731.0 L478.2,731.1 L476.6,731.2 L475.0,731.5 L473.2,731.9 L471.3,732.4 L469.4,732.8 L467.5,733.0 L465.7,733.0 L464.0,732.6 L462.3,732.0 L460.7,731.2 L459.1,730.4 L457.5,729.5 L456.0,728.8 L454.5,728.1 L453.0,727.4 L451.6,726.7 L450.3,726.1 L448.9,725.5 L447.5,725.1 L446.0,724.8 L444.6,724.7 L443.1,724.6 L441.7,724.6 L440.3,724.6 L438.9,724.5 L437.7,724.4 L436.6,724.3 L435.5,724.3 L434.4,724.1 L433.1,723.9 L431.7,723.4 L429.9,722.8 L428.0,721.9 L425.9,720.9 L423.7,719.9 L421.6,719.0 L419.5,718.2 L417.5,717.6 L415.4,717.1 L413.4,716.7 L411.4,716.3 L409.4,715.9 L407.3,715.4 L405.3,714.8 L403.3,714.2 L401.3,713.6 L399.2,712.9 L397.2,712.2 L395.2,711.3 L393.1,710.3 L390.9,709.1 L388.7,707.9 L386.6,706.7 L384.7,705.6 L383.0,704.9 L381.7,704.7 L380.8,704.7 L380.0,704.9 L379.2,705.2 L378.2,705.4 L376.9,705.3 L375.3,705.0 L373.3,704.5 L371.2,704.0 L369.1,703.4 L366.9,702.8 L364.8,702.3 L362.8,701.9 L360.7,701.5 L358.7,701.2 L356.7,700.8 L354.7,700.4 L352.6,699.9 L350.6,699.3 L348.6,698.5 L346.6,697.7 L344.5,696.9 L342.5,696.3 L340.5,695.9 L338.4,695.8 L336.4,696.0 L334.4,696.3 L332.4,696.7 L330.3,696.8 L328.3,696.5 L326.3,695.8 L324.3,694.8 L322.2,693.5 L320.2,692.2 L318.2,690.9 L316.2,689.8 L314.1,688.8 L311.9,688.0 L309.7,687.1 L307.7,686.2 L305.7,685.3 L304.0,684.3 L302.6,683.4 L301.3,682.4 L300.3,681.3 L299.3,680.2 L298.2,679.0 L297.1,677.6 L296.0,676.1 L294.8,674.4 L293.6,672.7 L292.3,670.8 L291.1,668.9 L289.9,667.1 L288.7,665.2 L287.5,663.2 L286.3,661.1 L285.1,659.1 L283.9,657.1 L282.7,655.3 L281.5,653.6 L280.3,651.9 L279.1,650.3 L277.9,648.8 L276.7,647.4 L275.5,646.0 L274.3,645.0 L273.1,644.1 L272.0,643.3 L270.8,642.5 L269.6,641.7 L268.3,640.7 L266.9,639.5 L265.5,638.1 L264.1,636.7 L262.6,635.3 L261.2,634.0 L259.9,633.1 L258.6,632.4 L257.4,631.8 L256.3,631.4 L255.1,631.2 L253.9,631.2 L252.7,631.3 L251.3,631.3 L249.9,631.5 L248.4,631.8 L247.0,632.4 L245.6,633.1 L244.2,634.0 L243.0,635.0 L241.7,636.2 L240.6,637.6 L239.4,639.3 L238.2,641.2 L237.0,643.4 L235.8,646.0 L234.6,649.0 L233.4,652.2 L232.2,655.6 L231.0,659.1 L229.8,662.3 L228.6,665.5 L227.4,668.7 L226.2,671.9 L225.0,675.1 L223.8,678.2 L222.6,681.3 L221.4,684.5 L220.2,687.7 L219.0,690.8 L217.8,693.9 L216.6,696.9 L215.4,699.9 L214.2,702.7 L212.9,705.5 L211.7,708.2 L210.5,710.9 L209.3,713.5 L208.2,716.0 L207.1,718.5 L206.1,720.9 L205.1,723.2 L204.1,725.5 L203.1,727.7 L202.2,729.9 L201.2,731.9 L200.2,733.9 L199.3,735.9 L198.3,737.8 L197.3,739.6 L196.1,741.3 L194.9,742.9 L193.6,744.5 L192.2,746.1 L190.7,747.5 L189.2,748.9 L187.7,750.1 L186.2,751.3 L184.6,752.3 L182.9,753.2 L181.3,754.1 L179.7,755.0 L178.1,756.0 L176.6,757.1 L175.2,758.3 L173.7,759.5 L172.4,760.7 L171.0,761.9 L169.7,763.1 L168.4,764.4 L167.3,765.6 L166.2,766.9 L165.0,768.2 L163.8,769.3 L162.5,770.3 L161.0,771.2 L159.4,772.0 L157.8,772.7 L156.2,773.3 L154.5,773.7 L152.9,773.8 L151.3,773.6 L149.7,773.2 L148.0,772.5 L146.4,771.7 L144.8,770.9 L143.2,770.1 L141.6,769.3 L140.0,768.4 L138.4,767.5 L136.8,766.6 L135.2,765.9 L133.6,765.2 L131.9,764.8 L130.1,764.5 L128.2,764.3 L126.5,764.2 L125.0,764.1 L124.0,764.0 Z" fill="#FF7645" fill-opacity="0.4" stroke="none"/>
</g>
<line x1="169.0" y1="485.8" x2="169.0" y2="859.0" stroke="#000" stroke-width="2.1" stroke-dasharray="40.3 23.9"/>
<line x1="439.0" y1="485.8" x2="439.0" y2="859.0" stroke="#000" stroke-width="2.1" stroke-dasharray="40.3 23.9"/>
<rect x="214.0" y="584.9" width="270.0" height="10.7" fill="#FF7645"/>
<path d="M124.0,482.8 L124.0,859.0 L484.5,859.0" fill="none" stroke="#262626" stroke-width="1.9" stroke-linecap="square"/>
<line x1="124.0" y1="482.8" x2="129.0" y2="482.8" stroke="#262626" stroke-width="1.9"/>
<text transform="translate(118.50,491.80) scale(0.876,1)" font-size="34" text-anchor="end" font-weight="normal" fill="#262626">0.3</text>
<line x1="124.0" y1="566.4" x2="129.0" y2="566.4" stroke="#262626" stroke-width="1.9"/>
<text transform="translate(118.50,575.40) scale(0.876,1)" font-size="34" text-anchor="end" font-weight="normal" fill="#262626">0.2</text>
<line x1="124.0" y1="650.0" x2="129.0" y2="650.0" stroke="#262626" stroke-width="1.9"/>
<text transform="translate(118.50,659.00) scale(0.876,1)" font-size="34" text-anchor="end" font-weight="normal" fill="#262626">0.1</text>
<line x1="124.0" y1="733.6" x2="129.0" y2="733.6" stroke="#262626" stroke-width="1.9"/>
<text transform="translate(118.50,742.60) scale(0.876,1)" font-size="34" text-anchor="end" font-weight="normal" fill="#262626">0</text>
<line x1="124.0" y1="817.2" x2="129.0" y2="817.2" stroke="#262626" stroke-width="1.9"/>
<text transform="translate(118.50,826.20) scale(0.876,1)" font-size="34" text-anchor="end" font-weight="normal" fill="#262626">-0.1</text>
<line x1="169.0" y1="859.0" x2="169.0" y2="854.0" stroke="#262626" stroke-width="1.9"/>
<text transform="translate(169.00,888.30) scale(0.94,1)" font-size="34" text-anchor="middle" font-weight="normal" fill="#262626">0</text>
<line x1="259.0" y1="859.0" x2="259.0" y2="854.0" stroke="#262626" stroke-width="1.9"/>
<text transform="translate(259.00,888.30) scale(0.94,1)" font-size="34" text-anchor="middle" font-weight="normal" fill="#262626">0.5</text>
<line x1="349.0" y1="859.0" x2="349.0" y2="854.0" stroke="#262626" stroke-width="1.9"/>
<text transform="translate(349.00,888.30) scale(0.94,1)" font-size="34" text-anchor="middle" font-weight="normal" fill="#262626">1</text>
<line x1="439.0" y1="859.0" x2="439.0" y2="854.0" stroke="#262626" stroke-width="1.9"/>
<text transform="translate(439.00,888.30) scale(0.94,1)" font-size="34" text-anchor="middle" font-weight="normal" fill="#262626">1.5</text>
<text transform="translate(64.30,656.15) rotate(-90) scale(0.94,1)" font-size="34" text-anchor="middle" fill="#262626">Regression estimate</text>
<text transform="translate(25.20,669.50) rotate(-90) scale(0.902,1)" font-size="34" text-anchor="middle" fill="#262626">dlPFC (n=74)</text>
<clipPath id="clipa2"><rect x="124" y="893.4" width="360.5" height="396.1"/></clipPath>
<g clip-path="url(#clipa2)">
<path d="M124.0,1173.2 C125.2,1173.9 128.8,1175.8 131.2,1177.5 C133.6,1179.2 135.8,1181.9 138.4,1183.5 C141.0,1185.1 144.0,1187.2 146.8,1187.1 C149.7,1187.0 152.5,1184.2 155.3,1182.9 C158.1,1181.6 161.3,1179.9 163.7,1179.3 C166.1,1178.7 167.5,1178.9 169.7,1179.3 C171.9,1179.7 174.5,1182.2 176.9,1181.7 C179.3,1181.2 181.7,1178.2 184.1,1176.3 C186.5,1174.3 188.5,1171.8 191.3,1170.2 C194.1,1168.6 197.7,1168.2 201.0,1166.6 C204.2,1165.0 207.8,1163.4 210.6,1160.6 C213.4,1157.8 215.2,1154.2 217.8,1149.8 C220.4,1145.4 223.2,1138.0 226.2,1134.2 C229.2,1130.4 232.8,1129.8 235.8,1127.0 C238.8,1124.1 241.6,1120.3 244.2,1117.3 C246.8,1114.3 248.4,1111.1 251.5,1108.9 C254.5,1106.7 258.9,1105.7 262.3,1104.1 C265.7,1102.5 268.7,1100.9 271.9,1099.3 C275.1,1097.7 278.5,1094.7 281.5,1094.5 C284.5,1094.3 287.3,1096.3 289.9,1098.1 C292.5,1099.9 294.8,1102.8 297.1,1105.3 C299.5,1107.8 300.8,1110.5 304.0,1113.2 C307.2,1116.0 311.5,1118.5 316.2,1121.7 C320.8,1125.0 327.3,1130.5 332.0,1132.7 C336.6,1134.8 340.7,1132.9 344.1,1134.5 C347.6,1136.1 349.8,1139.1 352.6,1142.4 C355.5,1145.7 358.1,1150.9 361.1,1154.6 C364.2,1158.2 367.6,1161.6 370.9,1164.3 C374.1,1166.9 377.6,1168.4 380.6,1170.4 C383.6,1172.3 385.7,1174.6 389.1,1175.8 C392.5,1177.0 397.2,1177.5 401.3,1177.7 C405.3,1177.9 409.4,1176.6 413.4,1177.0 C417.5,1177.5 421.5,1178.8 425.6,1180.1 C429.6,1181.4 433.7,1183.8 437.7,1184.9 C441.8,1186.1 445.8,1187.2 449.9,1186.8 C453.9,1186.4 458.0,1184.2 462.0,1182.5 C466.1,1180.8 470.5,1178.5 474.2,1176.4 C478.0,1174.4 482.8,1171.4 484.5,1170.4" fill="none" stroke="#35A0C5" stroke-width="4.4" stroke-linejoin="round"/>
<path d="M124.0,1166.6 C125.2,1166.1 128.6,1164.5 131.2,1163.6 C133.8,1162.7 136.8,1161.2 139.6,1161.2 C142.4,1161.2 145.4,1162.6 148.0,1163.6 C150.7,1164.6 152.9,1166.4 155.3,1167.2 C157.7,1168.0 159.9,1168.5 162.5,1168.4 C165.1,1168.3 168.3,1166.6 170.9,1166.6 C173.5,1166.6 175.5,1167.6 178.1,1168.4 C180.7,1169.2 183.5,1171.5 186.5,1171.4 C189.5,1171.3 192.9,1169.6 196.1,1167.8 C199.4,1166.0 202.6,1162.8 205.8,1160.6 C209.0,1158.4 212.2,1156.8 215.4,1154.6 C218.6,1152.4 222.2,1149.6 225.0,1147.4 C227.8,1145.2 229.6,1142.9 232.2,1141.4 C234.8,1139.9 237.8,1138.6 240.6,1138.4 C243.4,1138.2 246.4,1139.3 249.0,1140.2 C251.7,1141.1 253.9,1142.4 256.3,1143.8 C258.7,1145.2 261.1,1146.8 263.5,1148.6 C265.9,1150.4 267.9,1153.1 270.7,1154.6 C273.5,1156.1 277.1,1157.2 280.3,1157.6 C283.5,1158.0 287.1,1156.5 289.9,1157.0 C292.7,1157.5 294.8,1159.4 297.1,1160.6 C299.5,1161.8 300.8,1164.0 304.0,1164.3 C307.2,1164.6 312.1,1162.7 316.2,1162.5 C320.2,1162.3 325.1,1162.8 328.3,1163.1 C331.6,1163.4 332.6,1164.6 335.6,1164.3 C338.6,1164.0 343.1,1161.2 346.6,1161.2 C350.0,1161.2 353.2,1162.8 356.3,1164.3 C359.3,1165.8 362.0,1168.1 364.8,1170.4 C367.6,1172.6 370.5,1175.6 373.3,1177.7 C376.1,1179.7 378.8,1181.5 381.8,1182.5 C384.8,1183.5 388.3,1183.8 391.5,1183.7 C394.8,1183.6 397.6,1182.9 401.3,1181.9 C404.9,1180.9 409.4,1177.9 413.4,1177.7 C417.5,1177.5 421.5,1179.9 425.6,1180.7 C429.6,1181.5 433.7,1182.0 437.7,1182.5 C441.8,1183.0 445.8,1184.3 449.9,1183.7 C453.9,1183.1 458.0,1180.7 462.0,1178.9 C466.1,1177.0 470.5,1174.3 474.2,1172.8 C478.0,1171.3 482.8,1170.3 484.5,1169.8" fill="none" stroke="#FF7645" stroke-width="4.4" stroke-linejoin="round"/>
<path d="M124.0,1163.6 L124.8,1164.1 L125.9,1164.7 L127.2,1165.4 L128.5,1166.2 L129.9,1167.0 L131.2,1167.9 L132.4,1168.8 L133.6,1169.8 L134.7,1170.9 L135.9,1172.0 L137.2,1173.0 L138.4,1173.9 L139.8,1174.7 L141.1,1175.5 L142.6,1176.3 L144.0,1176.9 L145.4,1177.4 L146.8,1177.5 L148.2,1177.2 L149.7,1176.6 L151.1,1175.8 L152.5,1174.9 L153.9,1174.0 L155.3,1173.3 L156.7,1172.6 L158.2,1171.9 L159.6,1171.2 L161.1,1170.6 L162.4,1170.0 L163.7,1169.7 L164.8,1169.4 L165.8,1169.3 L166.8,1169.3 L167.7,1169.3 L168.6,1169.5 L169.7,1169.7 L170.8,1170.0 L172.0,1170.5 L173.2,1171.2 L174.5,1171.7 L175.7,1172.0 L176.9,1172.0 L178.1,1171.6 L179.3,1170.8 L180.5,1169.8 L181.7,1168.7 L182.9,1167.6 L184.1,1166.5 L185.3,1165.5 L186.4,1164.5 L187.6,1163.4 L188.8,1162.3 L190.0,1161.4 L191.3,1160.5 L192.8,1159.8 L194.4,1159.2 L196.0,1158.6 L197.7,1158.1 L199.3,1157.5 L201.0,1156.8 L202.6,1156.0 L204.2,1155.1 L205.9,1154.2 L207.5,1153.2 L209.1,1152.0 L210.6,1150.7 L211.9,1149.2 L213.1,1147.6 L214.3,1145.9 L215.4,1144.0 L216.5,1142.0 L217.8,1139.8 L219.1,1137.4 L220.5,1134.6 L221.8,1131.7 L223.3,1128.8 L224.7,1126.2 L226.2,1123.9 L227.8,1122.2 L229.4,1120.8 L231.0,1119.6 L232.7,1118.6 L234.3,1117.4 L235.8,1116.1 L237.3,1114.5 L238.8,1112.8 L240.2,1111.0 L241.6,1109.3 L242.9,1107.5 L244.2,1105.9 L245.5,1104.3 L246.6,1102.7 L247.7,1101.1 L248.8,1099.6 L250.1,1098.2 L251.5,1096.9 L253.1,1095.8 L254.8,1094.9 L256.7,1094.0 L258.6,1093.2 L260.5,1092.4 L262.3,1091.5 L263.9,1090.6 L265.6,1089.8 L267.2,1088.9 L268.7,1088.0 L270.3,1087.2 L271.9,1086.3 L273.5,1085.4 L275.1,1084.3 L276.8,1083.2 L278.4,1082.3 L280.0,1081.5 L281.5,1081.2 L283.0,1081.2 L284.5,1081.6 L285.9,1082.2 L287.3,1083.0 L288.6,1083.9 L289.9,1084.8 L291.2,1085.9 L292.4,1087.1 L293.6,1088.4 L294.8,1089.7 L296.0,1091.1 L297.1,1092.4 L298.2,1093.8 L299.3,1095.1 L300.3,1096.5 L301.3,1097.9 L302.6,1099.3 L304.0,1100.7 L305.7,1102.2 L307.5,1103.6 L309.5,1105.1 L311.6,1106.6 L313.9,1108.2 L316.2,1109.9 L318.6,1111.8 L321.3,1114.0 L324.1,1116.2 L326.8,1118.4 L329.5,1120.3 L332.0,1121.7 L334.2,1122.6 L336.4,1123.0 L338.5,1123.2 L340.5,1123.3 L342.3,1123.6 L344.1,1124.2 L345.7,1125.2 L347.2,1126.4 L348.6,1127.7 L349.9,1129.2 L351.3,1130.8 L352.6,1132.5 L354.0,1134.3 L355.4,1136.4 L356.8,1138.6 L358.2,1140.8 L359.7,1142.9 L361.1,1144.9 L362.7,1146.7 L364.3,1148.5 L365.9,1150.3 L367.6,1151.9 L369.2,1153.5 L370.9,1154.9 L372.5,1156.2 L374.2,1157.3 L375.8,1158.3 L377.4,1159.3 L379.0,1160.3 L380.6,1161.2 L382.0,1162.3 L383.4,1163.3 L384.7,1164.3 L386.0,1165.3 L387.5,1166.2 L389.1,1166.9 L390.9,1167.5 L392.9,1167.9 L395.0,1168.3 L397.1,1168.5 L399.2,1168.7 L401.3,1168.9 L403.3,1168.9 L405.3,1168.8 L407.3,1168.6 L409.4,1168.4 L411.4,1168.4 L413.4,1168.5 L415.4,1168.8 L417.5,1169.2 L419.5,1169.7 L421.5,1170.4 L423.5,1171.0 L425.6,1171.7 L427.6,1172.5 L429.6,1173.4 L431.7,1174.3 L433.7,1175.2 L435.7,1176.1 L437.7,1176.7 L439.8,1177.3 L441.8,1177.9 L443.8,1178.3 L445.8,1178.6 L447.9,1178.8 L449.9,1178.8 L451.9,1178.5 L453.9,1177.9 L456.0,1177.2 L458.0,1176.4 L460.0,1175.5 L462.0,1174.7 L464.1,1173.8 L466.2,1172.9 L468.2,1171.9 L470.3,1170.8 L472.3,1169.8 L474.2,1168.8 L476.2,1167.7 L478.2,1166.6 L480.1,1165.4 L481.9,1164.4 L483.4,1163.5 L484.5,1162.9 L484.5,1177.9 L483.4,1178.5 L481.9,1179.5 L480.1,1180.6 L478.2,1181.8 L476.2,1183.0 L474.2,1184.1 L472.3,1185.2 L470.3,1186.2 L468.2,1187.3 L466.2,1188.4 L464.1,1189.4 L462.0,1190.4 L460.0,1191.3 L458.0,1192.2 L456.0,1193.1 L453.9,1193.8 L451.9,1194.4 L449.9,1194.8 L447.9,1194.9 L445.8,1194.8 L443.8,1194.5 L441.8,1194.1 L439.8,1193.7 L437.7,1193.2 L435.7,1192.5 L433.7,1191.7 L431.7,1190.9 L429.6,1190.0 L427.6,1189.2 L425.6,1188.5 L423.5,1187.8 L421.5,1187.2 L419.5,1186.7 L417.5,1186.2 L415.4,1185.9 L413.4,1185.6 L411.4,1185.6 L409.4,1185.7 L407.3,1185.9 L405.3,1186.2 L403.3,1186.4 L401.3,1186.4 L399.2,1186.3 L397.1,1186.2 L395.0,1186.0 L392.9,1185.7 L390.9,1185.3 L389.1,1184.8 L387.5,1184.1 L386.0,1183.3 L384.7,1182.4 L383.4,1181.4 L382.0,1180.4 L380.6,1179.5 L379.0,1178.6 L377.4,1177.7 L375.8,1176.8 L374.2,1175.9 L372.5,1174.9 L370.9,1173.7 L369.2,1172.3 L367.6,1170.9 L365.9,1169.3 L364.3,1167.7 L362.7,1166.0 L361.1,1164.2 L359.7,1162.3 L358.2,1160.3 L356.8,1158.1 L355.4,1156.0 L354.0,1154.1 L352.6,1152.3 L351.3,1150.7 L349.9,1149.2 L348.6,1147.9 L347.2,1146.7 L345.7,1145.6 L344.1,1144.8 L342.3,1144.3 L340.5,1144.3 L338.5,1144.4 L336.4,1144.5 L334.2,1144.3 L332.0,1143.6 L329.5,1142.4 L326.8,1140.8 L324.1,1139.0 L321.3,1137.1 L318.6,1135.2 L316.2,1133.6 L313.9,1132.1 L311.6,1130.7 L309.5,1129.4 L307.5,1128.2 L305.7,1127.0 L304.0,1125.7 L302.6,1124.4 L301.3,1123.1 L300.3,1121.9 L299.3,1120.6 L298.2,1119.4 L297.1,1118.2 L296.0,1117.0 L294.8,1115.7 L293.6,1114.5 L292.4,1113.4 L291.2,1112.3 L289.9,1111.4 L288.6,1110.5 L287.3,1109.6 L285.9,1108.8 L284.5,1108.3 L283.0,1107.9 L281.5,1107.8 L280.0,1108.1 L278.4,1108.7 L276.8,1109.5 L275.1,1110.5 L273.5,1111.4 L271.9,1112.3 L270.3,1113.0 L268.7,1113.8 L267.2,1114.5 L265.6,1115.2 L263.9,1116.0 L262.3,1116.7 L260.5,1117.4 L258.6,1118.0 L256.7,1118.6 L254.8,1119.2 L253.1,1120.0 L251.5,1120.9 L250.1,1122.0 L248.8,1123.2 L247.7,1124.6 L246.6,1125.9 L245.5,1127.4 L244.2,1128.8 L242.9,1130.3 L241.6,1131.8 L240.2,1133.4 L238.8,1135.0 L237.3,1136.5 L235.8,1137.8 L234.3,1139.0 L232.7,1139.9 L231.0,1140.7 L229.4,1141.7 L227.8,1142.8 L226.2,1144.4 L224.7,1146.5 L223.3,1149.1 L221.8,1151.9 L220.5,1154.7 L219.1,1157.4 L217.8,1159.8 L216.5,1161.9 L215.4,1163.9 L214.3,1165.7 L213.1,1167.5 L211.9,1169.1 L210.6,1170.5 L209.1,1171.8 L207.5,1173.0 L205.9,1174.0 L204.2,1174.8 L202.6,1175.7 L201.0,1176.5 L199.3,1177.2 L197.7,1177.7 L196.0,1178.2 L194.4,1178.7 L192.8,1179.3 L191.3,1180.0 L190.0,1180.9 L188.8,1181.8 L187.6,1182.9 L186.4,1183.9 L185.3,1185.0 L184.1,1186.0 L182.9,1187.0 L181.7,1188.1 L180.5,1189.2 L179.3,1190.1 L178.1,1190.9 L176.9,1191.3 L175.7,1191.3 L174.5,1191.0 L173.2,1190.4 L172.0,1189.8 L170.8,1189.2 L169.7,1188.9 L168.6,1188.7 L167.7,1188.5 L166.8,1188.5 L165.8,1188.5 L164.8,1188.6 L163.7,1188.9 L162.4,1189.2 L161.1,1189.8 L159.6,1190.4 L158.2,1191.1 L156.7,1191.8 L155.3,1192.5 L153.9,1193.2 L152.5,1194.1 L151.1,1195.0 L149.7,1195.8 L148.2,1196.4 L146.8,1196.7 L145.4,1196.6 L144.0,1196.1 L142.6,1195.5 L141.1,1194.7 L139.8,1193.9 L138.4,1193.1 L137.2,1192.2 L135.9,1191.2 L134.7,1190.1 L133.6,1189.0 L132.4,1188.0 L131.2,1187.1 L129.9,1186.2 L128.5,1185.4 L127.2,1184.6 L125.9,1183.9 L124.8,1183.3 L124.0,1182.8 Z" fill="#35A0C5" fill-opacity="0.4" stroke="none"/>
<path d="M124.0,1157.6 L124.8,1157.3 L125.8,1156.8 L127.1,1156.3 L128.5,1155.7 L129.9,1155.1 L131.2,1154.6 L132.5,1154.1 L133.9,1153.6 L135.3,1153.1 L136.8,1152.6 L138.2,1152.3 L139.6,1152.2 L141.0,1152.3 L142.5,1152.6 L143.9,1153.0 L145.3,1153.6 L146.7,1154.1 L148.0,1154.6 L149.3,1155.2 L150.5,1155.8 L151.7,1156.5 L152.9,1157.2 L154.1,1157.8 L155.3,1158.2 L156.5,1158.6 L157.6,1158.9 L158.8,1159.2 L160.0,1159.3 L161.2,1159.4 L162.5,1159.4 L163.8,1159.3 L165.2,1158.9 L166.7,1158.5 L168.1,1158.1 L169.5,1157.8 L170.9,1157.6 L172.2,1157.7 L173.3,1157.9 L174.5,1158.2 L175.7,1158.6 L176.8,1159.0 L178.1,1159.4 L179.4,1159.9 L180.8,1160.6 L182.2,1161.3 L183.6,1161.9 L185.0,1162.3 L186.5,1162.4 L188.1,1162.3 L189.6,1161.9 L191.3,1161.3 L192.9,1160.5 L194.5,1159.7 L196.1,1158.8 L197.7,1157.8 L199.4,1156.7 L201.0,1155.4 L202.6,1154.1 L204.2,1152.8 L205.8,1151.6 L207.4,1150.6 L209.0,1149.6 L210.6,1148.6 L212.2,1147.7 L213.8,1146.7 L215.4,1145.6 L217.0,1144.5 L218.7,1143.2 L220.3,1142.0 L222.0,1140.8 L223.5,1139.5 L225.0,1138.4 L226.3,1137.3 L227.5,1136.2 L228.7,1135.1 L229.8,1134.1 L231.0,1133.2 L232.2,1132.4 L233.5,1131.7 L234.9,1131.0 L236.3,1130.4 L237.8,1129.9 L239.2,1129.6 L240.6,1129.4 L242.0,1129.4 L243.5,1129.6 L244.9,1129.9 L246.3,1130.3 L247.7,1130.7 L249.0,1131.2 L250.3,1131.7 L251.5,1132.2 L252.7,1132.8 L253.9,1133.4 L255.1,1134.1 L256.3,1134.8 L257.5,1135.5 L258.7,1136.3 L259.9,1137.0 L261.1,1137.9 L262.3,1138.7 L263.5,1139.6 L264.7,1140.6 L265.8,1141.6 L266.9,1142.7 L268.1,1143.8 L269.4,1144.8 L270.7,1145.6 L272.2,1146.3 L273.7,1147.0 L275.4,1147.5 L277.0,1148.0 L278.7,1148.4 L280.3,1148.6 L281.9,1148.7 L283.6,1148.5 L285.3,1148.3 L286.9,1148.0 L288.5,1147.9 L289.9,1148.0 L291.3,1148.4 L292.5,1148.9 L293.7,1149.6 L294.9,1150.3 L296.0,1151.0 L297.1,1151.6 L298.2,1152.3 L299.3,1153.0 L300.3,1153.8 L301.3,1154.5 L302.6,1155.0 L304.0,1155.3 L305.7,1155.3 L307.7,1155.0 L309.7,1154.6 L311.9,1154.1 L314.1,1153.7 L316.2,1153.5 L318.2,1153.4 L320.4,1153.5 L322.5,1153.6 L324.6,1153.7 L326.6,1153.9 L328.3,1154.1 L329.8,1154.3 L331.0,1154.6 L332.0,1154.9 L333.1,1155.2 L334.2,1155.3 L335.6,1155.3 L337.2,1155.0 L339.0,1154.4 L340.9,1153.6 L342.9,1153.0 L344.8,1152.4 L346.6,1152.2 L348.3,1152.4 L349.9,1152.7 L351.6,1153.2 L353.2,1153.8 L354.7,1154.5 L356.3,1155.3 L357.8,1156.1 L359.2,1157.0 L360.6,1158.1 L362.0,1159.1 L363.4,1160.2 L364.8,1161.4 L366.2,1162.5 L367.6,1163.8 L369.0,1165.1 L370.5,1166.4 L371.9,1167.6 L373.3,1168.7 L374.7,1169.6 L376.1,1170.6 L377.5,1171.5 L378.9,1172.3 L380.3,1172.9 L381.8,1173.5 L383.4,1174.0 L385.0,1174.3 L386.6,1174.5 L388.2,1174.7 L389.9,1174.7 L391.5,1174.7 L393.1,1174.6 L394.7,1174.4 L396.2,1174.2 L397.8,1173.8 L399.5,1173.4 L401.3,1172.9 L403.1,1172.3 L405.1,1171.4 L407.2,1170.5 L409.3,1169.6 L411.4,1169.0 L413.4,1168.7 L415.4,1168.8 L417.5,1169.2 L419.5,1169.8 L421.5,1170.5 L423.5,1171.2 L425.6,1171.7 L427.6,1172.1 L429.6,1172.4 L431.7,1172.7 L433.7,1173.0 L435.7,1173.3 L437.7,1173.5 L439.8,1173.8 L441.8,1174.2 L443.8,1174.5 L445.8,1174.8 L447.9,1174.9 L449.9,1174.7 L451.9,1174.3 L453.9,1173.6 L456.0,1172.8 L458.0,1171.8 L460.0,1170.8 L462.0,1169.9 L464.1,1168.9 L466.2,1167.8 L468.2,1166.7 L470.3,1165.6 L472.3,1164.6 L474.2,1163.8 L476.2,1163.1 L478.2,1162.4 L480.1,1161.9 L481.9,1161.4 L483.4,1161.0 L484.5,1160.8 L484.5,1178.8 L483.4,1179.0 L481.9,1179.4 L480.1,1179.9 L478.2,1180.4 L476.2,1181.1 L474.2,1181.8 L472.3,1182.6 L470.3,1183.6 L468.2,1184.7 L466.2,1185.8 L464.1,1186.9 L462.0,1187.9 L460.0,1188.8 L458.0,1189.8 L456.0,1190.8 L453.9,1191.6 L451.9,1192.3 L449.9,1192.7 L447.9,1192.9 L445.8,1192.8 L443.8,1192.5 L441.8,1192.2 L439.8,1191.8 L437.7,1191.5 L435.7,1191.3 L433.7,1191.0 L431.7,1190.7 L429.6,1190.4 L427.6,1190.1 L425.6,1189.7 L423.5,1189.2 L421.5,1188.5 L419.5,1187.8 L417.5,1187.2 L415.4,1186.8 L413.4,1186.7 L411.4,1187.0 L409.3,1187.6 L407.2,1188.5 L405.1,1189.4 L403.1,1190.3 L401.3,1190.9 L399.5,1191.4 L397.8,1191.8 L396.2,1192.2 L394.7,1192.4 L393.1,1192.6 L391.5,1192.7 L389.9,1192.7 L388.2,1192.7 L386.6,1192.5 L385.0,1192.3 L383.4,1192.0 L381.8,1191.5 L380.3,1190.9 L378.9,1190.3 L377.5,1189.5 L376.1,1188.6 L374.7,1187.6 L373.3,1186.7 L371.9,1185.6 L370.5,1184.4 L369.0,1183.1 L367.6,1181.8 L366.2,1180.5 L364.8,1179.4 L363.4,1178.2 L362.0,1177.1 L360.6,1176.1 L359.2,1175.0 L357.8,1174.1 L356.3,1173.3 L354.7,1172.5 L353.2,1171.8 L351.6,1171.2 L349.9,1170.7 L348.3,1170.4 L346.6,1170.2 L344.8,1170.4 L342.9,1171.0 L340.9,1171.6 L339.0,1172.4 L337.2,1173.0 L335.6,1173.3 L334.2,1173.3 L333.1,1173.2 L332.0,1172.9 L331.0,1172.6 L329.8,1172.3 L328.3,1172.1 L326.6,1171.9 L324.6,1171.7 L322.5,1171.6 L320.4,1171.5 L318.2,1171.4 L316.2,1171.5 L314.1,1171.7 L311.9,1172.1 L309.7,1172.6 L307.7,1173.0 L305.7,1173.3 L304.0,1173.3 L302.6,1173.0 L301.3,1172.5 L300.3,1171.8 L299.3,1171.0 L298.2,1170.3 L297.1,1169.6 L296.0,1169.0 L294.9,1168.3 L293.7,1167.6 L292.5,1166.9 L291.3,1166.4 L289.9,1166.0 L288.5,1165.9 L286.9,1166.0 L285.3,1166.3 L283.6,1166.5 L281.9,1166.7 L280.3,1166.6 L278.7,1166.4 L277.0,1166.0 L275.4,1165.5 L273.7,1165.0 L272.2,1164.3 L270.7,1163.6 L269.4,1162.8 L268.1,1161.8 L266.9,1160.7 L265.8,1159.6 L264.7,1158.6 L263.5,1157.6 L262.3,1156.7 L261.1,1155.9 L259.9,1155.0 L258.7,1154.3 L257.5,1153.5 L256.3,1152.8 L255.1,1152.1 L253.9,1151.4 L252.7,1150.8 L251.5,1150.2 L250.3,1149.7 L249.0,1149.2 L247.7,1148.7 L246.3,1148.3 L244.9,1147.9 L243.5,1147.6 L242.0,1147.4 L240.6,1147.4 L239.2,1147.6 L237.8,1147.9 L236.3,1148.4 L234.9,1149.0 L233.5,1149.7 L232.2,1150.4 L231.0,1151.2 L229.8,1152.1 L228.7,1153.1 L227.5,1154.2 L226.3,1155.3 L225.0,1156.4 L223.5,1157.5 L222.0,1158.8 L220.3,1160.0 L218.7,1161.2 L217.0,1162.5 L215.4,1163.6 L213.8,1164.7 L212.2,1165.7 L210.6,1166.6 L209.0,1167.6 L207.4,1168.6 L205.8,1169.6 L204.2,1170.8 L202.6,1172.1 L201.0,1173.4 L199.4,1174.7 L197.7,1175.8 L196.1,1176.8 L194.5,1177.7 L192.9,1178.5 L191.3,1179.3 L189.6,1179.9 L188.1,1180.3 L186.5,1180.4 L185.0,1180.3 L183.6,1179.9 L182.2,1179.3 L180.8,1178.6 L179.4,1177.9 L178.1,1177.4 L176.8,1177.0 L175.7,1176.6 L174.5,1176.2 L173.3,1175.9 L172.2,1175.7 L170.9,1175.6 L169.5,1175.8 L168.1,1176.1 L166.7,1176.5 L165.2,1176.9 L163.8,1177.3 L162.5,1177.4 L161.2,1177.4 L160.0,1177.3 L158.8,1177.2 L157.6,1176.9 L156.5,1176.6 L155.3,1176.2 L154.1,1175.8 L152.9,1175.2 L151.7,1174.5 L150.5,1173.8 L149.3,1173.2 L148.0,1172.6 L146.7,1172.1 L145.3,1171.6 L143.9,1171.0 L142.5,1170.6 L141.0,1170.3 L139.6,1170.2 L138.2,1170.3 L136.8,1170.6 L135.3,1171.1 L133.9,1171.6 L132.5,1172.1 L131.2,1172.6 L129.9,1173.1 L128.5,1173.7 L127.1,1174.3 L125.8,1174.8 L124.8,1175.3 L124.0,1175.6 Z" fill="#FF7645" fill-opacity="0.4" stroke="none"/>
</g>
<line x1="169.0" y1="916.4" x2="169.0" y2="1289.5" stroke="#000" stroke-width="2.1" stroke-dasharray="40.3 23.9"/>
<line x1="439.0" y1="916.4" x2="439.0" y2="1289.5" stroke="#000" stroke-width="2.1" stroke-dasharray="40.3 23.9"/>
<rect x="255.9" y="1063.5" width="96.1" height="10.7" fill="#35A0C5"/>
<path d="M124.0,913.4 L124.0,1289.5 L484.5,1289.5" fill="none" stroke="#262626" stroke-width="1.9" stroke-linecap="square"/>
<line x1="124.0" y1="913.4" x2="129.0" y2="913.4" stroke="#262626" stroke-width="1.9"/>
<text transform="translate(118.50,922.40) scale(0.876,1)" font-size="34" text-anchor="end" font-weight="normal" fill="#262626">0.3</text>
<line x1="124.0" y1="997.0" x2="129.0" y2="997.0" stroke="#262626" stroke-width="1.9"/>
<text transform="translate(118.50,1005.98) scale(0.876,1)" font-size="34" text-anchor="end" font-weight="normal" fill="#262626">0.2</text>
<line x1="124.0" y1="1080.6" x2="129.0" y2="1080.6" stroke="#262626" stroke-width="1.9"/>
<text transform="translate(118.50,1089.56) scale(0.876,1)" font-size="34" text-anchor="end" font-weight="normal" fill="#262626">0.1</text>
<line x1="124.0" y1="1164.1" x2="129.0" y2="1164.1" stroke="#262626" stroke-width="1.9"/>
<text transform="translate(118.50,1173.13) scale(0.876,1)" font-size="34" text-anchor="end" font-weight="normal" fill="#262626">0</text>
<line x1="124.0" y1="1247.7" x2="129.0" y2="1247.7" stroke="#262626" stroke-width="1.9"/>
<text transform="translate(118.50,1256.71) scale(0.876,1)" font-size="34" text-anchor="end" font-weight="normal" fill="#262626">-0.1</text>
<line x1="169.0" y1="1289.5" x2="169.0" y2="1284.5" stroke="#262626" stroke-width="1.9"/>
<text transform="translate(169.00,1318.80) scale(0.94,1)" font-size="34" text-anchor="middle" font-weight="normal" fill="#262626">0</text>
<line x1="259.0" y1="1289.5" x2="259.0" y2="1284.5" stroke="#262626" stroke-width="1.9"/>
<text transform="translate(259.00,1318.80) scale(0.94,1)" font-size="34" text-anchor="middle" font-weight="normal" fill="#262626">0.5</text>
<line x1="349.0" y1="1289.5" x2="349.0" y2="1284.5" stroke="#262626" stroke-width="1.9"/>
<text transform="translate(349.00,1318.80) scale(0.94,1)" font-size="34" text-anchor="middle" font-weight="normal" fill="#262626">1</text>
<line x1="439.0" y1="1289.5" x2="439.0" y2="1284.5" stroke="#262626" stroke-width="1.9"/>
<text transform="translate(439.00,1318.80) scale(0.94,1)" font-size="34" text-anchor="middle" font-weight="normal" fill="#262626">1.5</text>
<text transform="translate(64.30,1082.85) rotate(-90) scale(0.94,1)" font-size="34" text-anchor="middle" fill="#262626">Regression estimate</text>
<text transform="translate(27.10,1104.10) rotate(-90) scale(0.892,1)" font-size="34" text-anchor="middle" fill="#262626">vmPFC (n=54)</text>
<clipPath id="clipa3"><rect x="124" y="1322.7" width="360.5" height="395.79999999999995"/></clipPath>
<g clip-path="url(#clipa3)">
<path d="M124.0,1611.8 C125.8,1612.8 131.4,1618.0 134.8,1617.8 C138.2,1617.6 141.0,1612.6 144.4,1610.6 C147.8,1608.6 151.9,1606.8 155.3,1605.8 C158.7,1604.8 162.1,1605.2 164.9,1604.6 C167.7,1604.0 169.5,1603.2 172.1,1602.2 C174.7,1601.2 177.7,1598.4 180.5,1598.6 C183.3,1598.8 186.1,1601.8 188.9,1603.4 C191.7,1605.0 194.1,1607.3 197.3,1608.2 C200.6,1609.1 204.4,1609.3 208.2,1608.8 C212.0,1608.3 216.2,1607.3 220.2,1605.2 C224.2,1603.1 228.2,1599.3 232.2,1596.2 C236.2,1593.1 241.0,1589.8 244.2,1586.6 C247.4,1583.4 249.0,1581.2 251.5,1577.0 C253.9,1572.7 255.9,1565.7 258.7,1561.3 C261.5,1556.9 265.1,1553.0 268.3,1550.5 C271.5,1548.0 274.5,1546.9 277.9,1546.3 C281.3,1545.7 285.5,1547.0 288.7,1546.9 C291.9,1546.8 294.6,1545.8 297.1,1545.7 C299.7,1545.6 300.4,1545.1 304.0,1546.2 C307.6,1547.3 314.1,1551.4 318.6,1552.3 C323.0,1553.2 326.7,1550.9 330.7,1551.7 C334.8,1552.5 338.2,1554.9 342.9,1557.1 C347.6,1559.4 353.0,1563.5 358.7,1565.0 C364.4,1566.6 372.5,1565.8 376.9,1566.3 C381.4,1566.8 382.2,1568.1 385.5,1568.1 C388.7,1568.1 392.1,1565.8 396.4,1566.3 C400.7,1566.8 406.5,1569.6 411.0,1571.1 C415.4,1572.6 419.5,1572.6 423.1,1575.4 C426.8,1578.1 429.6,1584.3 432.9,1587.5 C436.1,1590.8 438.9,1594.4 442.6,1594.8 C446.2,1595.2 451.1,1590.3 454.8,1590.0 C458.4,1589.7 461.2,1593.8 464.5,1593.0 C467.7,1592.2 470.9,1587.5 474.2,1585.1 C477.5,1582.7 482.8,1579.5 484.5,1578.4" fill="none" stroke="#35A0C5" stroke-width="4.4" stroke-linejoin="round"/>
<path d="M124.0,1604.8 L125.2,1605.6 L126.9,1606.8 L128.8,1608.2 L130.9,1609.5 L133.0,1610.4 L134.8,1610.7 L136.5,1610.2 L138.1,1609.1 L139.6,1607.7 L141.2,1606.1 L142.8,1604.5 L144.4,1603.3 L146.2,1602.3 L148.0,1601.3 L149.9,1600.4 L151.7,1599.6 L153.5,1598.9 L155.3,1598.3 L157.0,1597.9 L158.6,1597.6 L160.3,1597.5 L161.9,1597.4 L163.4,1597.2 L164.9,1597.0 L166.2,1596.6 L167.4,1596.3 L168.6,1595.9 L169.7,1595.4 L170.9,1594.9 L172.1,1594.4 L173.4,1593.8 L174.8,1593.0 L176.2,1592.1 L177.7,1591.4 L179.1,1590.9 L180.5,1590.7 L181.9,1591.0 L183.3,1591.6 L184.7,1592.5 L186.1,1593.5 L187.5,1594.5 L188.9,1595.3 L190.3,1596.1 L191.6,1597.0 L193.0,1597.8 L194.4,1598.6 L195.8,1599.3 L197.3,1599.8 L199.0,1600.2 L200.7,1600.4 L202.5,1600.5 L204.4,1600.4 L206.3,1600.3 L208.2,1600.0 L210.1,1599.7 L212.1,1599.2 L214.1,1598.6 L216.1,1597.9 L218.2,1597.0 L220.2,1596.0 L222.2,1594.7 L224.2,1593.2 L226.2,1591.6 L228.2,1589.9 L230.2,1588.2 L232.2,1586.5 L234.3,1584.9 L236.4,1583.2 L238.5,1581.5 L240.6,1579.8 L242.5,1578.1 L244.2,1576.4 L245.7,1574.9 L247.0,1573.4 L248.1,1571.9 L249.2,1570.3 L250.3,1568.5 L251.5,1566.5 L252.6,1564.2 L253.8,1561.5 L254.9,1558.6 L256.1,1555.8 L257.3,1553.0 L258.7,1550.6 L260.1,1548.4 L261.7,1546.2 L263.3,1544.3 L265.0,1542.4 L266.7,1540.8 L268.3,1539.4 L269.9,1538.2 L271.4,1537.2 L273.0,1536.4 L274.6,1535.7 L276.2,1535.2 L277.9,1534.8 L279.7,1534.7 L281.5,1534.8 L283.4,1535.1 L285.3,1535.4 L287.1,1535.6 L288.7,1535.7 L290.3,1535.6 L291.8,1535.5 L293.2,1535.2 L294.5,1535.0 L295.9,1534.8 L297.1,1534.8 L298.3,1534.7 L299.3,1534.7 L300.2,1534.6 L301.2,1534.7 L302.4,1535.0 L304.0,1535.4 L306.0,1536.3 L308.4,1537.4 L311.0,1538.8 L313.6,1540.1 L316.2,1541.2 L318.6,1541.9 L320.8,1542.2 L322.8,1542.1 L324.8,1541.8 L326.8,1541.6 L328.7,1541.4 L330.7,1541.7 L332.7,1542.3 L334.7,1543.1 L336.6,1544.1 L338.6,1545.2 L340.7,1546.4 L342.9,1547.6 L345.3,1548.9 L347.8,1550.5 L350.4,1552.1 L353.1,1553.6 L355.9,1555.0 L358.7,1556.1 L361.7,1556.8 L365.0,1557.2 L368.3,1557.4 L371.5,1557.5 L374.4,1557.7 L376.9,1558.0 L378.9,1558.3 L380.4,1558.8 L381.7,1559.2 L382.8,1559.6 L384.0,1559.9 L385.5,1560.1 L387.1,1559.9 L388.8,1559.5 L390.5,1559.0 L392.4,1558.5 L394.3,1558.2 L396.4,1558.3 L398.6,1558.7 L401.1,1559.4 L403.6,1560.3 L406.2,1561.3 L408.7,1562.3 L411.0,1563.1 L413.2,1563.8 L415.3,1564.3 L417.4,1564.8 L419.4,1565.4 L421.3,1566.2 L423.1,1567.4 L424.9,1569.0 L426.6,1571.0 L428.2,1573.3 L429.7,1575.5 L431.3,1577.7 L432.9,1579.5 L434.5,1581.2 L436.0,1582.8 L437.6,1584.2 L439.2,1585.5 L440.8,1586.4 L442.6,1586.8 L444.5,1586.6 L446.6,1585.8 L448.7,1584.7 L450.8,1583.5 L452.8,1582.5 L454.8,1582.0 L456.5,1582.1 L458.2,1582.8 L459.8,1583.7 L461.3,1584.5 L462.9,1585.0 L464.5,1585.0 L466.1,1584.3 L467.7,1583.1 L469.3,1581.7 L470.9,1580.1 L472.6,1578.5 L474.2,1577.1 L476.0,1575.8 L478.0,1574.5 L480.0,1573.3 L481.8,1572.1 L483.4,1571.1 L484.5,1570.4 L484.5,1586.4 L483.4,1587.1 L481.8,1588.1 L480.0,1589.3 L478.0,1590.5 L476.0,1591.8 L474.2,1593.1 L472.6,1594.5 L470.9,1596.1 L469.3,1597.7 L467.7,1599.1 L466.1,1600.3 L464.5,1601.0 L462.9,1601.0 L461.3,1600.5 L459.8,1599.7 L458.2,1598.8 L456.5,1598.1 L454.8,1598.0 L452.8,1598.5 L450.8,1599.5 L448.7,1600.7 L446.6,1601.8 L444.5,1602.6 L442.6,1602.8 L440.8,1602.4 L439.2,1601.5 L437.6,1600.2 L436.0,1598.8 L434.5,1597.2 L432.9,1595.5 L431.3,1593.7 L429.7,1591.5 L428.2,1589.3 L426.6,1587.0 L424.9,1585.0 L423.1,1583.4 L421.3,1582.2 L419.4,1581.4 L417.4,1580.8 L415.3,1580.3 L413.2,1579.8 L411.0,1579.1 L408.7,1578.3 L406.2,1577.3 L403.6,1576.3 L401.1,1575.4 L398.6,1574.7 L396.4,1574.3 L394.3,1574.2 L392.4,1574.5 L390.5,1575.0 L388.8,1575.5 L387.1,1575.9 L385.5,1576.1 L384.0,1576.0 L382.8,1575.8 L381.7,1575.5 L380.4,1575.2 L378.9,1574.8 L376.9,1574.6 L374.4,1574.5 L371.5,1574.6 L368.3,1574.7 L365.0,1574.7 L361.7,1574.5 L358.7,1574.0 L355.9,1573.2 L353.1,1572.0 L350.4,1570.6 L347.8,1569.2 L345.3,1567.9 L342.9,1566.7 L340.7,1565.7 L338.6,1564.6 L336.6,1563.7 L334.7,1562.8 L332.7,1562.1 L330.7,1561.7 L328.7,1561.6 L326.8,1561.8 L324.8,1562.2 L322.8,1562.6 L320.8,1562.8 L318.6,1562.6 L316.2,1562.0 L313.6,1561.0 L311.0,1559.9 L308.4,1558.7 L306.0,1557.6 L304.0,1556.9 L302.4,1556.6 L301.2,1556.4 L300.2,1556.3 L299.3,1556.4 L298.3,1556.5 L297.1,1556.6 L295.9,1556.8 L294.5,1557.1 L293.2,1557.4 L291.8,1557.7 L290.3,1557.9 L288.7,1558.1 L287.1,1558.1 L285.3,1557.9 L283.4,1557.7 L281.5,1557.6 L279.7,1557.6 L277.9,1557.8 L276.2,1558.1 L274.6,1558.5 L273.0,1559.0 L271.4,1559.7 L269.9,1560.6 L268.3,1561.6 L266.7,1562.9 L265.0,1564.4 L263.3,1566.1 L261.7,1568.0 L260.1,1570.0 L258.7,1572.1 L257.3,1574.4 L256.1,1577.0 L254.9,1579.8 L253.8,1582.5 L252.6,1585.1 L251.5,1587.4 L250.3,1589.3 L249.2,1590.9 L248.1,1592.4 L247.0,1593.8 L245.7,1595.2 L244.2,1596.7 L242.5,1598.2 L240.6,1599.8 L238.5,1601.3 L236.4,1602.9 L234.3,1604.4 L232.2,1605.9 L230.2,1607.4 L228.2,1609.0 L226.2,1610.5 L224.2,1612.0 L222.2,1613.3 L220.2,1614.4 L218.2,1615.3 L216.1,1616.0 L214.1,1616.6 L212.1,1617.1 L210.1,1617.4 L208.2,1617.6 L206.3,1617.7 L204.4,1617.7 L202.5,1617.6 L200.7,1617.4 L199.0,1617.1 L197.3,1616.6 L195.8,1616.0 L194.4,1615.2 L193.0,1614.3 L191.6,1613.3 L190.3,1612.4 L188.9,1611.5 L187.5,1610.5 L186.1,1609.5 L184.7,1608.5 L183.3,1607.5 L181.9,1606.8 L180.5,1606.5 L179.1,1606.6 L177.7,1607.1 L176.2,1607.8 L174.8,1608.6 L173.4,1609.4 L172.1,1610.0 L170.9,1610.4 L169.7,1610.9 L168.6,1611.3 L167.4,1611.6 L166.2,1612.0 L164.9,1612.3 L163.4,1612.5 L161.9,1612.6 L160.3,1612.6 L158.6,1612.7 L157.0,1612.9 L155.3,1613.3 L153.5,1613.8 L151.7,1614.5 L149.9,1615.3 L148.0,1616.1 L146.2,1617.0 L144.4,1617.9 L142.8,1619.1 L141.2,1620.6 L139.6,1622.2 L138.1,1623.5 L136.5,1624.6 L134.8,1625.0 L133.0,1624.7 L130.9,1623.7 L128.8,1622.4 L126.9,1620.9 L125.2,1619.7 L124.0,1618.8 Z" fill="#35A0C5" fill-opacity="0.4" stroke="none"/>
<path d="M124.0,1599.2 C125.6,1599.5 130.2,1599.9 133.6,1601.0 C137.0,1602.1 140.8,1605.5 144.4,1605.8 C148.0,1606.1 151.9,1603.0 155.3,1602.8 C158.7,1602.6 162.1,1603.7 164.9,1604.6 C167.7,1605.5 169.7,1606.6 172.1,1608.2 C174.5,1609.8 176.9,1612.7 179.3,1614.2 C181.7,1615.7 184.1,1617.2 186.5,1617.2 C188.9,1617.2 191.3,1616.1 193.7,1614.2 C196.1,1612.3 198.5,1608.8 201.0,1605.8 C203.4,1602.8 205.4,1599.6 208.2,1596.2 C211.0,1592.8 214.8,1589.0 217.8,1585.4 C220.8,1581.8 223.4,1578.2 226.2,1574.5 C229.0,1570.9 231.6,1566.2 234.6,1563.7 C237.6,1561.2 241.0,1560.2 244.2,1559.5 C247.4,1558.8 250.9,1558.8 253.9,1559.5 C256.9,1560.2 259.5,1562.0 262.3,1563.7 C265.1,1565.4 267.7,1568.3 270.7,1569.7 C273.7,1571.1 277.3,1571.7 280.3,1572.1 C283.3,1572.5 285.9,1570.9 288.7,1572.1 C291.5,1573.3 294.6,1577.2 297.1,1579.4 C299.7,1581.5 300.8,1583.3 304.0,1585.1 C307.2,1586.9 312.1,1587.9 316.2,1590.0 C320.2,1592.0 324.9,1595.3 328.3,1597.3 C331.8,1599.2 333.4,1601.2 336.8,1601.5 C340.3,1601.8 344.9,1599.8 349.0,1599.1 C353.0,1598.4 357.3,1597.2 361.1,1597.3 C365.0,1597.4 367.8,1599.9 372.1,1599.7 C376.3,1599.5 382.6,1595.4 386.7,1596.0 C390.7,1596.7 393.6,1601.2 396.4,1603.3 C399.2,1605.5 399.8,1607.7 403.7,1608.8 C407.5,1609.9 413.8,1609.8 419.5,1610.0 C425.2,1610.2 432.7,1610.5 437.7,1610.0 C442.8,1609.5 445.8,1608.0 449.9,1607.0 C453.9,1606.0 458.0,1605.1 462.0,1603.9 C466.1,1602.8 470.5,1601.4 474.2,1600.3 C478.0,1599.2 482.8,1597.8 484.5,1597.3" fill="none" stroke="#FF7645" stroke-width="4.4" stroke-linejoin="round"/>
<path d="M124.0,1592.2 L125.0,1592.3 L126.4,1592.5 L128.1,1592.8 L130.0,1593.1 L131.8,1593.4 L133.6,1593.9 L135.4,1594.6 L137.1,1595.6 L139.0,1596.6 L140.8,1597.5 L142.6,1598.3 L144.4,1598.6 L146.3,1598.5 L148.1,1598.0 L149.9,1597.3 L151.7,1596.5 L153.5,1595.9 L155.3,1595.6 L157.0,1595.5 L158.6,1595.7 L160.3,1596.0 L161.9,1596.4 L163.4,1596.8 L164.9,1597.3 L166.2,1597.7 L167.5,1598.2 L168.6,1598.8 L169.8,1599.4 L170.9,1600.1 L172.1,1600.8 L173.3,1601.7 L174.5,1602.8 L175.7,1603.8 L176.9,1604.9 L178.1,1605.9 L179.3,1606.8 L180.5,1607.5 L181.7,1608.2 L182.9,1608.8 L184.1,1609.3 L185.3,1609.6 L186.5,1609.7 L187.7,1609.5 L188.9,1609.2 L190.1,1608.6 L191.3,1607.9 L192.5,1607.1 L193.7,1606.1 L194.9,1604.9 L196.1,1603.5 L197.3,1601.9 L198.5,1600.3 L199.8,1598.6 L201.0,1597.0 L202.1,1595.3 L203.3,1593.6 L204.4,1591.9 L205.6,1590.2 L206.8,1588.4 L208.2,1586.6 L209.6,1584.7 L211.2,1582.8 L212.9,1580.8 L214.6,1578.8 L216.2,1576.9 L217.8,1574.9 L219.3,1572.9 L220.7,1571.0 L222.1,1569.0 L223.4,1567.1 L224.8,1565.1 L226.2,1563.2 L227.6,1561.2 L229.0,1559.0 L230.3,1556.9 L231.7,1554.9 L233.1,1553.0 L234.6,1551.4 L236.2,1550.1 L237.7,1549.0 L239.4,1548.1 L241.0,1547.4 L242.6,1546.7 L244.2,1546.2 L245.9,1545.8 L247.5,1545.5 L249.1,1545.4 L250.7,1545.4 L252.3,1545.5 L253.9,1545.7 L255.3,1546.2 L256.8,1546.8 L258.1,1547.5 L259.5,1548.4 L260.9,1549.3 L262.3,1550.2 L263.7,1551.2 L265.0,1552.3 L266.4,1553.5 L267.8,1554.6 L269.2,1555.6 L270.7,1556.5 L272.2,1557.2 L273.9,1557.7 L275.5,1558.2 L277.2,1558.6 L278.8,1558.9 L280.3,1559.1 L281.8,1559.2 L283.2,1559.1 L284.6,1558.8 L286.0,1558.7 L287.3,1558.8 L288.7,1559.1 L290.1,1559.9 L291.6,1561.1 L293.0,1562.4 L294.5,1563.8 L295.8,1565.2 L297.1,1566.4 L298.3,1567.4 L299.3,1568.4 L300.3,1569.4 L301.4,1570.3 L302.6,1571.2 L304.0,1572.1 L305.7,1572.9 L307.7,1573.7 L309.7,1574.4 L311.9,1575.2 L314.1,1576.0 L316.2,1577.0 L318.2,1578.1 L320.3,1579.3 L322.5,1580.7 L324.5,1582.0 L326.5,1583.2 L328.3,1584.3 L329.9,1585.2 L331.3,1586.2 L332.6,1587.0 L333.9,1587.7 L335.2,1588.2 L336.8,1588.5 L338.6,1588.5 L340.6,1588.2 L342.7,1587.7 L344.8,1587.1 L346.9,1586.5 L349.0,1586.1 L351.0,1586.0 L353.1,1585.9 L355.1,1585.9 L357.2,1585.9 L359.2,1586.0 L361.1,1586.3 L363.0,1586.8 L364.7,1587.6 L366.5,1588.5 L368.2,1589.4 L370.1,1590.1 L372.1,1590.5 L374.4,1590.3 L376.9,1589.6 L379.5,1588.8 L382.0,1588.0 L384.5,1587.5 L386.7,1587.6 L388.6,1588.2 L390.4,1589.3 L392.0,1590.7 L393.5,1592.2 L395.0,1593.7 L396.4,1594.9 L397.7,1596.0 L398.7,1597.1 L399.7,1598.1 L400.7,1599.0 L402.0,1599.8 L403.7,1600.4 L405.8,1600.9 L408.2,1601.2 L410.9,1601.4 L413.7,1601.5 L416.6,1601.6 L419.5,1601.7 L422.5,1601.8 L425.6,1602.0 L428.8,1602.0 L432.0,1602.1 L435.0,1602.0 L437.7,1601.8 L440.1,1601.5 L442.2,1601.0 L444.2,1600.5 L446.1,1599.9 L447.9,1599.4 L449.9,1598.8 L451.9,1598.3 L453.9,1597.9 L456.0,1597.4 L458.0,1596.9 L460.0,1596.4 L462.0,1595.8 L464.1,1595.3 L466.2,1594.7 L468.2,1594.1 L470.3,1593.4 L472.3,1592.8 L474.2,1592.3 L476.2,1591.7 L478.2,1591.1 L480.1,1590.5 L481.9,1590.0 L483.4,1589.6 L484.5,1589.3 L484.5,1605.3 L483.4,1605.6 L481.9,1606.0 L480.1,1606.6 L478.2,1607.2 L476.2,1607.8 L474.2,1608.3 L472.3,1608.9 L470.3,1609.6 L468.2,1610.2 L466.2,1610.8 L464.1,1611.5 L462.0,1612.0 L460.0,1612.6 L458.0,1613.1 L456.0,1613.6 L453.9,1614.1 L451.9,1614.6 L449.9,1615.1 L447.9,1615.7 L446.1,1616.3 L444.2,1616.9 L442.2,1617.4 L440.1,1617.9 L437.7,1618.2 L435.0,1618.4 L432.0,1618.5 L428.8,1618.5 L425.6,1618.5 L422.5,1618.4 L419.5,1618.3 L416.6,1618.3 L413.7,1618.2 L410.9,1618.1 L408.2,1617.9 L405.8,1617.6 L403.7,1617.2 L402.0,1616.5 L400.7,1615.8 L399.7,1614.8 L398.7,1613.9 L397.7,1612.8 L396.4,1611.7 L395.0,1610.5 L393.5,1609.1 L392.0,1607.6 L390.4,1606.2 L388.6,1605.1 L386.7,1604.5 L384.5,1604.7 L382.0,1605.4 L379.5,1606.4 L376.9,1607.4 L374.4,1608.3 L372.1,1608.8 L370.1,1609.0 L368.2,1608.9 L366.5,1608.7 L364.7,1608.3 L363.0,1608.2 L361.1,1608.2 L359.2,1608.6 L357.2,1609.2 L355.1,1609.9 L353.1,1610.6 L351.0,1611.4 L349.0,1612.1 L346.9,1612.5 L344.8,1613.1 L342.7,1613.7 L340.6,1614.2 L338.6,1614.5 L336.8,1614.5 L335.2,1614.2 L333.9,1613.7 L332.6,1613.0 L331.3,1612.2 L329.9,1611.2 L328.3,1610.3 L326.5,1609.2 L324.5,1608.0 L322.5,1606.7 L320.3,1605.3 L318.2,1604.1 L316.2,1603.0 L314.1,1602.0 L311.9,1601.2 L309.7,1600.4 L307.7,1599.7 L305.7,1598.9 L304.0,1598.1 L302.6,1597.2 L301.4,1596.3 L300.3,1595.4 L299.3,1594.4 L298.3,1593.4 L297.1,1592.4 L295.8,1591.2 L294.5,1589.8 L293.0,1588.4 L291.6,1587.1 L290.1,1585.9 L288.7,1585.1 L287.3,1584.8 L286.0,1584.7 L284.6,1584.8 L283.2,1585.1 L281.8,1585.2 L280.3,1585.1 L278.8,1585.0 L277.2,1584.7 L275.5,1584.4 L273.9,1584.1 L272.2,1583.6 L270.7,1583.0 L269.2,1582.2 L267.8,1581.3 L266.4,1580.2 L265.0,1579.2 L263.7,1578.2 L262.3,1577.3 L260.9,1576.5 L259.5,1575.7 L258.1,1574.9 L256.8,1574.3 L255.3,1573.8 L253.9,1573.4 L252.3,1573.0 L250.7,1572.7 L249.1,1572.6 L247.5,1572.6 L245.9,1572.7 L244.2,1572.9 L242.6,1573.1 L241.0,1573.4 L239.4,1573.8 L237.7,1574.3 L236.2,1575.1 L234.6,1576.0 L233.1,1577.3 L231.7,1578.8 L230.3,1580.5 L229.0,1582.4 L227.6,1584.2 L226.2,1585.9 L224.8,1587.6 L223.4,1589.2 L222.1,1590.9 L220.7,1592.5 L219.3,1594.2 L217.8,1595.9 L216.2,1597.5 L214.6,1599.2 L212.9,1600.9 L211.2,1602.5 L209.6,1604.2 L208.2,1605.7 L206.8,1607.3 L205.6,1608.9 L204.4,1610.4 L203.3,1611.8 L202.1,1613.3 L201.0,1614.7 L199.8,1616.1 L198.5,1617.5 L197.3,1618.9 L196.1,1620.3 L194.9,1621.4 L193.7,1622.4 L192.5,1623.2 L191.3,1623.8 L190.1,1624.3 L188.9,1624.6 L187.7,1624.7 L186.5,1624.7 L185.3,1624.6 L184.1,1624.3 L182.9,1623.8 L181.7,1623.1 L180.5,1622.4 L179.3,1621.7 L178.1,1620.8 L176.9,1619.8 L175.7,1618.7 L174.5,1617.6 L173.3,1616.5 L172.1,1615.6 L170.9,1614.8 L169.8,1614.1 L168.6,1613.5 L167.5,1612.9 L166.2,1612.4 L164.9,1611.9 L163.4,1611.5 L161.9,1611.0 L160.3,1610.6 L158.6,1610.3 L157.0,1610.1 L155.3,1610.1 L153.5,1610.4 L151.7,1611.0 L149.9,1611.7 L148.1,1612.4 L146.3,1612.9 L144.4,1613.0 L142.6,1612.6 L140.8,1611.8 L139.0,1610.8 L137.1,1609.8 L135.4,1608.8 L133.6,1608.1 L131.8,1607.6 L130.0,1607.2 L128.1,1606.8 L126.4,1606.6 L125.0,1606.4 L124.0,1606.2 Z" fill="#FF7645" fill-opacity="0.4" stroke="none"/>
</g>
<line x1="169.0" y1="1345.7" x2="169.0" y2="1718.5" stroke="#000" stroke-width="2.1" stroke-dasharray="40.3 23.9"/>
<line x1="439.0" y1="1345.7" x2="439.0" y2="1718.5" stroke="#000" stroke-width="2.1" stroke-dasharray="40.3 23.9"/>
<rect x="298.2" y="1515.1" width="132.8" height="10.7" fill="#35A0C5"/>
<path d="M124.0,1342.7 L124.0,1718.5 L484.5,1718.5" fill="none" stroke="#262626" stroke-width="1.9" stroke-linecap="square"/>
<line x1="124.0" y1="1342.7" x2="129.0" y2="1342.7" stroke="#262626" stroke-width="1.9"/>
<text transform="translate(118.50,1351.70) scale(0.876,1)" font-size="34" text-anchor="end" font-weight="normal" fill="#262626">0.3</text>
<line x1="124.0" y1="1426.2" x2="129.0" y2="1426.2" stroke="#262626" stroke-width="1.9"/>
<text transform="translate(118.50,1435.21) scale(0.876,1)" font-size="34" text-anchor="end" font-weight="normal" fill="#262626">0.2</text>
<line x1="124.0" y1="1509.7" x2="129.0" y2="1509.7" stroke="#262626" stroke-width="1.9"/>
<text transform="translate(118.50,1518.72) scale(0.876,1)" font-size="34" text-anchor="end" font-weight="normal" fill="#262626">0.1</text>
<line x1="124.0" y1="1593.2" x2="129.0" y2="1593.2" stroke="#262626" stroke-width="1.9"/>
<text transform="translate(118.50,1602.23) scale(0.876,1)" font-size="34" text-anchor="end" font-weight="normal" fill="#262626">0</text>
<line x1="124.0" y1="1676.7" x2="129.0" y2="1676.7" stroke="#262626" stroke-width="1.9"/>
<text transform="translate(118.50,1685.74) scale(0.876,1)" font-size="34" text-anchor="end" font-weight="normal" fill="#262626">-0.1</text>
<line x1="169.0" y1="1718.5" x2="169.0" y2="1713.5" stroke="#262626" stroke-width="1.9"/>
<text transform="translate(169.00,1747.80) scale(0.94,1)" font-size="34" text-anchor="middle" font-weight="normal" fill="#262626">0</text>
<line x1="259.0" y1="1718.5" x2="259.0" y2="1713.5" stroke="#262626" stroke-width="1.9"/>
<text transform="translate(259.00,1747.80) scale(0.94,1)" font-size="34" text-anchor="middle" font-weight="normal" fill="#262626">0.5</text>
<line x1="349.0" y1="1718.5" x2="349.0" y2="1713.5" stroke="#262626" stroke-width="1.9"/>
<text transform="translate(349.00,1747.80) scale(0.94,1)" font-size="34" text-anchor="middle" font-weight="normal" fill="#262626">1</text>
<line x1="439.0" y1="1718.5" x2="439.0" y2="1713.5" stroke="#262626" stroke-width="1.9"/>
<text transform="translate(439.00,1747.80) scale(0.94,1)" font-size="34" text-anchor="middle" font-weight="normal" fill="#262626">1.5</text>
<text transform="translate(64.30,1517.95) rotate(-90) scale(0.94,1)" font-size="34" text-anchor="middle" fill="#262626">Regression estimate</text>
<text transform="translate(27.40,1526.70) rotate(-90) scale(0.93,1)" font-size="34" text-anchor="middle" fill="#262626">lOFC (n=70)</text>
<rect x="327.9" y="88.1" width="38.8" height="7.9" fill="#EE7A5A"/>
<rect x="327.9" y="120.2" width="38.8" height="8.3" fill="#35BAD8"/>
<text transform="translate(369.50,100.10) scale(0.895,1)" font-size="34" text-anchor="start" font-weight="normal" fill="#262626">PPE</text>
<text transform="translate(369.50,136.50) scale(0.895,1)" font-size="34" text-anchor="start" font-weight="normal" fill="#262626">RPE</text>
<text transform="translate(304.00,1782.60) scale(0.94,1)" font-size="34" text-anchor="middle" font-weight="normal" fill="#262626">Time from outcome (s)</text>
<clipPath id="clipb0"><rect x="614.8" y="45.5" width="361.80000000000007" height="188.3"/></clipPath>
<g clip-path="url(#clipb0)">
<path d="M614.0,183.5 C616.0,183.4 622.0,182.5 626.0,182.9 C630.0,183.3 634.2,186.1 638.0,185.9 C641.9,185.7 645.3,182.5 648.9,181.7 C652.5,180.9 655.9,183.4 659.7,181.1 C663.4,178.8 667.2,174.0 671.4,167.8 C675.6,161.6 681.1,151.0 684.9,143.8 C688.8,136.6 691.5,131.6 694.6,124.5 C697.7,117.5 700.4,109.1 703.6,101.7 C706.8,94.3 710.3,85.9 713.8,80.1 C717.3,74.2 721.2,69.4 724.6,66.8 C728.0,64.2 731.2,64.3 734.2,64.4 C737.2,64.5 739.7,65.2 742.7,67.4 C745.7,69.6 749.1,73.7 752.3,77.7 C755.5,81.6 758.9,86.1 761.9,90.9 C764.9,95.7 767.3,101.3 770.3,106.5 C773.3,111.7 776.5,116.9 779.9,122.1 C783.4,127.4 787.2,133.0 791.2,137.8 C795.1,142.6 799.9,147.6 803.6,151.0 C807.3,154.4 809.8,156.2 813.2,158.2 C816.6,160.2 820.1,162.2 824.1,163.0 C828.1,163.8 832.3,163.3 837.3,163.0 C842.3,162.7 849.7,161.1 854.1,161.2 C858.5,161.3 860.5,162.1 863.7,163.6 C866.9,165.1 870.2,168.8 873.4,170.2 C876.6,171.6 879.2,172.5 883.0,172.0 C886.8,171.5 892.0,169.1 896.2,167.2 C900.4,165.3 904.4,162.2 908.2,160.6 C912.0,159.0 915.4,157.8 919.0,157.6 C922.7,157.4 926.3,158.1 929.9,159.4 C933.5,160.7 937.3,162.8 940.7,165.4 C944.1,168.0 947.1,172.0 950.3,175.0 C953.5,178.1 956.3,181.7 959.9,183.5 C963.5,185.3 970.0,185.5 972.0,185.9" fill="none" stroke="#FF7645" stroke-width="4.3" stroke-linejoin="round"/>
<path d="M614.0,160.0 C616.8,159.4 625.4,157.5 630.8,156.4 C636.2,155.3 641.3,154.6 646.5,153.4 C651.7,152.2 657.1,148.9 662.1,149.2 C667.1,149.5 671.5,153.7 676.5,155.2 C681.5,156.7 686.9,157.0 692.2,158.2 C697.4,159.4 703.2,160.1 707.8,162.4 C712.4,164.7 715.7,168.7 719.8,172.0 C723.9,175.4 728.4,178.7 732.4,182.3 C736.4,185.9 739.8,190.4 743.9,193.7 C748.0,197.0 752.4,201.4 757.1,202.1 C761.8,202.8 767.5,200.2 772.1,197.9 C776.7,195.6 780.5,191.4 784.7,188.3 C789.0,185.2 792.9,180.7 797.6,179.3 C802.4,177.9 808.0,180.2 813.2,179.9 C818.4,179.6 823.7,178.1 828.9,177.5 C834.1,176.9 839.4,177.1 844.5,176.3 C849.6,175.5 854.5,174.0 859.5,172.6 C864.5,171.2 869.7,167.3 874.6,167.8 C879.5,168.3 884.2,175.4 889.0,175.7 C893.8,176.0 898.4,170.3 903.4,169.6 C908.4,168.9 913.9,170.8 919.0,171.4 C924.2,172.0 929.1,173.9 934.1,173.2 C939.1,172.5 944.1,168.1 949.1,167.2 C954.1,166.3 960.3,167.3 964.1,167.8 C967.9,168.3 970.7,169.8 972.0,170.2" fill="none" stroke="#FF7645" stroke-width="4.7" stroke-dasharray="4.7 10.1"/>
</g>
<rect x="703.9" y="55.5" width="133.8" height="178.3" fill="#808080" fill-opacity="0.4"/>
<line x1="703.9" y1="233.8" x2="837.7" y2="55.5" stroke="#bbbbbb" stroke-width="0.6"/>
<line x1="614.8" y1="174.4" x2="971.6" y2="174.4" stroke="#000" stroke-width="2" stroke-dasharray="40.3 24"/>
<line x1="659.3" y1="65.0" x2="659.3" y2="233.8" stroke="#000" stroke-width="2.1" stroke-dasharray="40.3 24"/>
<line x1="926.9" y1="65.0" x2="926.9" y2="233.8" stroke="#000" stroke-width="2.1" stroke-dasharray="40.3 24"/>
<path d="M614.8,55.5 L614.8,233.8 L971.6,233.8" fill="none" stroke="#262626" stroke-width="1.9" stroke-linecap="square"/>
<line x1="614.8" y1="95.1" x2="619.8" y2="95.1" stroke="#262626" stroke-width="1.9"/>
<text transform="translate(611.80,104.12) scale(0.82,1)" font-size="34" text-anchor="end" font-weight="normal" fill="#262626">0.2</text>
<line x1="614.8" y1="134.7" x2="619.8" y2="134.7" stroke="#262626" stroke-width="1.9"/>
<text transform="translate(611.80,143.74) scale(0.82,1)" font-size="34" text-anchor="end" font-weight="normal" fill="#262626">0.1</text>
<line x1="614.8" y1="174.4" x2="619.8" y2="174.4" stroke="#262626" stroke-width="1.9"/>
<text transform="translate(611.80,183.37) scale(0.82,1)" font-size="34" text-anchor="end" font-weight="normal" fill="#262626">0</text>
<line x1="614.8" y1="214.0" x2="619.8" y2="214.0" stroke="#262626" stroke-width="1.9"/>
<text transform="translate(611.80,222.99) scale(0.82,1)" font-size="34" text-anchor="end" font-weight="normal" fill="#262626">-0.1</text>
<line x1="659.3" y1="233.8" x2="659.3" y2="228.8" stroke="#262626" stroke-width="1.9"/>
<line x1="748.5" y1="233.8" x2="748.5" y2="228.8" stroke="#262626" stroke-width="1.9"/>
<line x1="837.7" y1="233.8" x2="837.7" y2="228.8" stroke="#262626" stroke-width="1.9"/>
<line x1="926.9" y1="233.8" x2="926.9" y2="228.8" stroke="#262626" stroke-width="1.9"/>
<clipPath id="clipb1"><rect x="614.8" y="246.5" width="361.80000000000007" height="185.39999999999998"/></clipPath>
<g clip-path="url(#clipb1)">
<path d="M614.0,384.7 C616.8,384.0 625.2,381.5 630.8,380.5 C636.4,379.5 642.9,379.2 647.7,378.7 C652.5,378.2 656.1,378.2 659.7,377.5 C663.3,376.8 666.1,375.7 669.3,374.4 C672.5,373.2 675.7,372.5 678.9,370.2 C682.1,367.9 685.3,364.4 688.5,360.6 C691.8,356.8 695.2,351.2 698.2,347.4 C701.2,343.6 703.6,340.6 706.6,337.8 C709.6,335.0 713.2,332.6 716.2,330.6 C719.2,328.6 721.6,327.1 724.6,325.8 C727.6,324.4 731.0,322.7 734.2,322.7 C737.4,322.7 740.7,324.0 743.9,325.8 C747.1,327.5 750.3,330.2 753.5,333.0 C756.7,335.8 760.1,339.8 763.1,342.6 C766.1,345.4 768.3,347.8 771.5,349.8 C774.7,351.8 778.6,353.0 782.3,354.6 C786.1,356.2 790.5,357.9 794.0,359.4 C797.5,360.9 800.4,363.0 803.6,363.6 C806.8,364.2 809.8,362.8 813.2,363.0 C816.6,363.2 820.5,364.2 824.1,364.8 C827.7,365.4 831.5,365.9 834.9,366.6 C838.3,367.3 841.3,367.9 844.5,369.0 C847.7,370.1 850.5,372.5 854.1,373.2 C857.7,373.9 862.1,372.6 866.1,373.2 C870.2,373.8 874.2,375.7 878.2,376.9 C882.2,378.1 885.0,379.2 890.2,380.5 C895.4,381.8 904.8,384.4 909.4,384.7 C914.0,385.0 914.8,383.3 917.8,382.3 C920.9,381.3 924.1,378.9 927.5,378.7 C930.9,378.5 934.5,381.4 938.3,381.1 C942.1,380.8 946.7,377.5 950.3,376.9 C953.9,376.3 956.3,376.6 959.9,377.5 C963.5,378.4 970.0,381.5 972.0,382.3" fill="none" stroke="#35A0C5" stroke-width="4.3" stroke-linejoin="round"/>
<path d="M615.8,368.4 C618.3,367.5 625.7,363.4 630.8,363.0 C635.9,362.6 641.9,363.8 646.5,366.0 C651.1,368.2 654.8,372.4 658.5,376.3 C662.2,380.1 665.3,384.7 668.7,388.9 C672.1,393.1 675.1,397.8 678.9,401.5 C682.7,405.2 687.1,408.2 691.6,411.1 C696.0,414.0 700.8,416.3 705.4,418.9 C710.0,421.5 714.3,425.3 719.2,426.8 C724.1,428.2 729.6,427.4 734.8,427.4 C740.1,427.4 746.0,428.7 750.5,426.8 C755.0,424.8 758.0,419.4 761.9,415.9 C765.8,412.4 769.8,409.1 773.9,405.7 C778.0,402.3 782.1,398.4 786.5,395.5 C791.0,392.6 795.8,390.3 800.6,388.3 C805.5,386.3 810.5,385.2 815.6,383.5 C820.8,381.8 826.5,380.1 831.3,378.1 C836.1,376.1 839.7,373.2 844.5,371.4 C849.3,369.6 854.9,367.8 860.1,367.2 C865.3,366.6 870.5,368.1 875.8,367.8 C881.1,367.5 886.7,366.3 892.0,365.4 C897.3,364.5 902.4,362.5 907.6,362.4 C912.8,362.3 918.0,363.8 923.3,364.8 C928.5,365.8 933.7,368.2 938.9,368.4 C944.1,368.6 949.7,367.9 954.5,366.0 C959.3,364.1 964.8,358.9 967.7,357.0 C970.7,355.1 971.3,355.0 972.0,354.6" fill="none" stroke="#35A0C5" stroke-width="4.7" stroke-dasharray="4.7 10.1"/>
</g>
<rect x="703.9" y="256.5" width="133.8" height="175.4" fill="#808080" fill-opacity="0.4"/>
<line x1="703.9" y1="431.9" x2="837.7" y2="256.5" stroke="#bbbbbb" stroke-width="0.6"/>
<line x1="614.8" y1="373.4" x2="971.6" y2="373.4" stroke="#000" stroke-width="2" stroke-dasharray="40.3 24"/>
<line x1="659.3" y1="263.8" x2="659.3" y2="431.9" stroke="#000" stroke-width="2.1" stroke-dasharray="40.3 24"/>
<line x1="926.9" y1="263.8" x2="926.9" y2="431.9" stroke="#000" stroke-width="2.1" stroke-dasharray="40.3 24"/>
<path d="M614.8,256.5 L614.8,431.9 L971.6,431.9" fill="none" stroke="#262626" stroke-width="1.9" stroke-linecap="square"/>
<line x1="614.8" y1="295.5" x2="619.8" y2="295.5" stroke="#262626" stroke-width="1.9"/>
<text transform="translate(611.80,304.48) scale(0.82,1)" font-size="34" text-anchor="end" font-weight="normal" fill="#262626">0.2</text>
<line x1="614.8" y1="334.5" x2="619.8" y2="334.5" stroke="#262626" stroke-width="1.9"/>
<text transform="translate(611.80,343.46) scale(0.82,1)" font-size="34" text-anchor="end" font-weight="normal" fill="#262626">0.1</text>
<line x1="614.8" y1="373.4" x2="619.8" y2="373.4" stroke="#262626" stroke-width="1.9"/>
<text transform="translate(611.80,382.43) scale(0.82,1)" font-size="34" text-anchor="end" font-weight="normal" fill="#262626">0</text>
<line x1="614.8" y1="412.4" x2="619.8" y2="412.4" stroke="#262626" stroke-width="1.9"/>
<text transform="translate(611.80,421.41) scale(0.82,1)" font-size="34" text-anchor="end" font-weight="normal" fill="#262626">-0.1</text>
<line x1="659.3" y1="431.9" x2="659.3" y2="426.9" stroke="#262626" stroke-width="1.9"/>
<text transform="translate(659.30,461.20) scale(0.82,1)" font-size="34" text-anchor="middle" font-weight="normal" fill="#262626">0</text>
<line x1="748.5" y1="431.9" x2="748.5" y2="426.9" stroke="#262626" stroke-width="1.9"/>
<text transform="translate(748.50,461.20) scale(0.82,1)" font-size="34" text-anchor="middle" font-weight="normal" fill="#262626">0.5</text>
<line x1="837.7" y1="431.9" x2="837.7" y2="426.9" stroke="#262626" stroke-width="1.9"/>
<text transform="translate(837.70,461.20) scale(0.82,1)" font-size="34" text-anchor="middle" font-weight="normal" fill="#262626">1</text>
<line x1="926.9" y1="431.9" x2="926.9" y2="426.9" stroke="#262626" stroke-width="1.9"/>
<text transform="translate(926.90,461.20) scale(0.82,1)" font-size="34" text-anchor="middle" font-weight="normal" fill="#262626">1.5</text>
<text transform="translate(547.00,250.20) rotate(-90) scale(0.94,1)" font-size="34" text-anchor="middle" fill="#262626">Regression estimate</text>
<clipPath id="clipb2"><rect x="614.8" y="469.4" width="361.80000000000007" height="188.70000000000005"/></clipPath>
<g clip-path="url(#clipb2)">
<path d="M614.0,615.3 C616.0,615.4 621.2,615.1 626.0,615.9 C630.8,616.7 638.2,619.8 642.9,620.1 C647.5,620.4 649.9,619.2 653.7,617.7 C657.5,616.2 661.5,613.4 665.7,611.1 C669.9,608.8 675.1,606.7 678.9,603.9 C682.7,601.1 685.3,598.4 688.5,594.2 C691.8,590.0 695.0,583.4 698.2,578.6 C701.4,573.8 704.8,570.0 707.8,565.4 C710.8,560.8 713.2,556.2 716.2,551.0 C719.2,545.7 722.8,538.7 725.8,534.1 C728.8,529.5 731.4,525.7 734.2,523.3 C737.0,520.9 739.9,519.7 742.7,519.7 C745.5,519.7 748.1,521.1 751.1,523.3 C754.1,525.5 757.5,529.9 760.7,532.9 C763.9,535.9 766.9,538.1 770.3,541.3 C773.7,544.5 777.5,549.5 781.1,552.2 C784.8,554.9 788.2,556.3 792.4,557.6 C796.5,558.9 801.7,559.2 806.0,560.0 C810.3,560.8 814.0,561.8 818.0,562.4 C822.1,563.0 826.1,562.9 830.1,563.6 C834.1,564.3 838.1,565.5 842.1,566.6 C846.1,567.7 850.5,569.1 854.1,570.2 C857.7,571.3 860.7,572.7 863.7,573.2 C866.7,573.7 868.7,572.5 872.2,573.2 C875.6,573.9 879.6,576.1 884.2,577.4 C888.8,578.7 895.6,580.0 899.8,581.0 C904.0,582.0 905.8,582.4 909.4,583.4 C913.0,584.4 917.4,586.6 921.5,587.0 C925.5,587.4 929.7,585.6 933.5,585.8 C937.3,586.0 940.7,587.1 944.3,588.2 C947.9,589.3 951.1,591.8 955.1,592.4 C959.1,593.1 966.1,592.2 968.3,592.1" fill="none" stroke="#FF7645" stroke-width="4.3" stroke-linejoin="round"/>
<path d="M616.4,593.0 C619.0,592.5 626.9,591.3 632.0,590.0 C637.1,588.7 642.6,584.2 647.1,585.2 C651.6,586.2 654.5,594.3 659.1,596.0 C663.7,597.7 669.5,594.9 674.7,595.4 C679.9,595.9 685.1,597.8 690.4,599.0 C695.6,600.3 701.0,601.3 706.0,602.7 C711.0,604.1 716.0,604.9 720.4,607.5 C724.8,610.1 728.5,614.8 732.4,618.3 C736.3,621.8 739.5,625.8 743.9,628.5 C748.3,631.2 754.1,633.0 758.9,634.5 C763.7,636.0 768.6,638.9 772.7,637.5 C776.8,636.1 779.2,628.8 783.5,626.1 C787.9,623.4 794.5,624.0 798.8,621.3 C803.2,618.6 805.6,613.1 809.6,609.9 C813.6,606.7 818.2,602.9 822.9,602.1 C827.5,601.3 832.5,603.6 837.3,605.1 C842.1,606.6 846.8,609.4 851.7,611.1 C856.6,612.8 861.7,615.3 866.7,615.3 C871.8,615.3 876.6,612.1 881.8,611.1 C887.0,610.1 892.7,609.6 898.0,609.3 C903.3,609.0 908.4,609.6 913.6,609.3 C918.8,609.0 924.1,608.4 929.3,607.5 C934.5,606.6 939.7,604.2 944.9,603.9 C950.1,603.6 956.0,606.1 960.5,605.7 C965.0,605.3 970.1,602.2 972.0,601.5" fill="none" stroke="#FF7645" stroke-width="4.7" stroke-dasharray="4.7 10.1"/>
</g>
<rect x="703.9" y="479.4" width="133.8" height="178.7" fill="#808080" fill-opacity="0.4"/>
<line x1="614.8" y1="598.5" x2="971.6" y2="598.5" stroke="#000" stroke-width="2" stroke-dasharray="40.3 24"/>
<line x1="659.3" y1="489.6" x2="659.3" y2="658.1" stroke="#000" stroke-width="2.1" stroke-dasharray="40.3 24"/>
<line x1="926.9" y1="489.6" x2="926.9" y2="658.1" stroke="#000" stroke-width="2.1" stroke-dasharray="40.3 24"/>
<path d="M614.8,479.4 L614.8,658.1 L971.6,658.1" fill="none" stroke="#262626" stroke-width="1.9" stroke-linecap="square"/>
<line x1="614.8" y1="519.1" x2="619.8" y2="519.1" stroke="#262626" stroke-width="1.9"/>
<text transform="translate(611.80,528.11) scale(0.82,1)" font-size="34" text-anchor="end" font-weight="normal" fill="#262626">0.2</text>
<line x1="614.8" y1="558.8" x2="619.8" y2="558.8" stroke="#262626" stroke-width="1.9"/>
<text transform="translate(611.80,567.82) scale(0.82,1)" font-size="34" text-anchor="end" font-weight="normal" fill="#262626">0.1</text>
<line x1="614.8" y1="598.5" x2="619.8" y2="598.5" stroke="#262626" stroke-width="1.9"/>
<text transform="translate(611.80,607.53) scale(0.82,1)" font-size="34" text-anchor="end" font-weight="normal" fill="#262626">0</text>
<line x1="614.8" y1="638.2" x2="619.8" y2="638.2" stroke="#262626" stroke-width="1.9"/>
<text transform="translate(611.80,647.24) scale(0.82,1)" font-size="34" text-anchor="end" font-weight="normal" fill="#262626">-0.1</text>
<line x1="659.3" y1="658.1" x2="659.3" y2="653.1" stroke="#262626" stroke-width="1.9"/>
<line x1="748.5" y1="658.1" x2="748.5" y2="653.1" stroke="#262626" stroke-width="1.9"/>
<line x1="837.7" y1="658.1" x2="837.7" y2="653.1" stroke="#262626" stroke-width="1.9"/>
<line x1="926.9" y1="658.1" x2="926.9" y2="653.1" stroke="#262626" stroke-width="1.9"/>
<clipPath id="clipb3"><rect x="614.8" y="670.5" width="361.80000000000007" height="187.70000000000005"/></clipPath>
<g clip-path="url(#clipb3)">
<path d="M614.0,802.5 C616.0,802.6 622.0,803.7 626.0,803.1 C630.0,802.5 634.0,799.8 638.0,798.8 C642.1,797.8 645.7,797.3 650.1,797.0 C654.5,796.7 660.1,796.5 664.5,797.0 C668.9,797.5 672.9,800.0 676.5,800.0 C680.1,800.0 682.9,798.5 686.1,797.0 C689.4,795.5 692.6,792.3 695.8,791.0 C699.0,789.7 702.0,790.4 705.4,789.2 C708.8,788.0 712.4,785.6 716.2,783.8 C720.0,782.0 724.2,779.6 728.2,778.4 C732.2,777.2 736.2,777.0 740.3,776.6 C744.3,776.2 747.7,775.9 752.3,776.0 C756.9,776.1 763.9,776.4 767.9,777.2 C771.9,778.0 773.5,779.4 776.3,780.8 C779.1,782.2 781.8,784.2 784.7,785.6 C787.7,787.0 790.5,787.4 794.0,789.2 C797.5,791.0 802.0,794.0 806.0,796.4 C810.0,798.8 814.0,801.5 818.0,803.7 C822.1,805.9 825.7,808.4 830.1,809.7 C834.5,811.0 840.1,811.7 844.5,811.5 C848.9,811.3 852.9,809.9 856.5,808.5 C860.1,807.1 862.5,804.5 866.1,803.1 C869.8,801.7 873.8,800.2 878.2,800.0 C882.6,799.8 887.8,800.7 892.6,801.9 C897.4,803.1 902.4,805.9 907.0,807.3 C911.6,808.7 915.4,810.1 920.3,810.3 C925.1,810.5 930.9,809.2 935.9,808.5 C940.9,807.8 945.9,806.8 950.3,806.1 C954.7,805.4 958.7,804.0 962.3,804.3 C965.9,804.6 970.4,807.3 972.0,807.9" fill="none" stroke="#35A0C5" stroke-width="4.3" stroke-linejoin="round"/>
<path d="M616.4,801.3 C619.0,802.1 626.8,805.3 632.0,806.1 C637.2,806.9 642.5,806.9 647.7,806.1 C652.9,805.3 658.1,802.7 663.3,801.3 C668.5,799.8 674.0,797.1 678.9,797.6 C683.8,798.1 688.0,802.0 692.8,804.3 C697.5,806.6 702.6,809.0 707.2,811.5 C711.8,814.0 715.7,817.0 720.4,819.3 C725.1,821.6 730.3,823.6 735.4,825.3 C740.6,827.0 745.9,828.7 751.1,829.5 C756.3,830.3 761.8,831.3 766.7,830.1 C771.6,828.9 776.5,824.9 780.5,822.3 C784.5,819.7 786.5,817.7 790.8,814.5 C795.0,811.3 801.3,806.5 806.0,803.1 C810.8,799.6 814.3,795.8 819.3,794.0 C824.2,792.2 830.1,792.1 835.5,792.2 C840.9,792.3 846.6,793.2 851.7,794.6 C856.8,796.0 861.2,798.5 866.1,800.7 C871.1,802.8 876.1,806.2 881.2,807.3 C886.3,808.4 891.7,808.2 896.8,807.3 C901.9,806.4 906.9,803.7 911.8,801.9 C916.7,800.0 921.2,797.4 926.3,796.4 C931.4,795.4 937.2,795.5 942.5,795.8 C947.8,796.1 953.3,798.5 958.1,798.2 C962.9,797.9 969.1,794.7 971.4,794.0" fill="none" stroke="#35A0C5" stroke-width="4.7" stroke-dasharray="4.7 10.1"/>
</g>
<rect x="703.9" y="680.5" width="133.8" height="177.7" fill="#808080" fill-opacity="0.4"/>
<line x1="703.9" y1="858.2" x2="837.7" y2="680.5" stroke="#bbbbbb" stroke-width="0.6"/>
<line x1="614.8" y1="799.0" x2="971.6" y2="799.0" stroke="#000" stroke-width="2" stroke-dasharray="40.3 24"/>
<line x1="659.3" y1="690.6" x2="659.3" y2="858.2" stroke="#000" stroke-width="2.1" stroke-dasharray="40.3 24"/>
<line x1="926.9" y1="690.6" x2="926.9" y2="858.2" stroke="#000" stroke-width="2.1" stroke-dasharray="40.3 24"/>
<path d="M614.8,680.5 L614.8,858.2 L971.6,858.2" fill="none" stroke="#262626" stroke-width="1.9" stroke-linecap="square"/>
<line x1="614.8" y1="720.0" x2="619.8" y2="720.0" stroke="#262626" stroke-width="1.9"/>
<text transform="translate(611.80,728.99) scale(0.82,1)" font-size="34" text-anchor="end" font-weight="normal" fill="#262626">0.2</text>
<line x1="614.8" y1="759.5" x2="619.8" y2="759.5" stroke="#262626" stroke-width="1.9"/>
<text transform="translate(611.80,768.48) scale(0.82,1)" font-size="34" text-anchor="end" font-weight="normal" fill="#262626">0.1</text>
<line x1="614.8" y1="799.0" x2="619.8" y2="799.0" stroke="#262626" stroke-width="1.9"/>
<text transform="translate(611.80,807.97) scale(0.82,1)" font-size="34" text-anchor="end" font-weight="normal" fill="#262626">0</text>
<line x1="614.8" y1="838.5" x2="619.8" y2="838.5" stroke="#262626" stroke-width="1.9"/>
<text transform="translate(611.80,847.46) scale(0.82,1)" font-size="34" text-anchor="end" font-weight="normal" fill="#262626">-0.1</text>
<line x1="659.3" y1="858.2" x2="659.3" y2="853.2" stroke="#262626" stroke-width="1.9"/>
<text transform="translate(659.30,887.50) scale(0.82,1)" font-size="34" text-anchor="middle" font-weight="normal" fill="#262626">0</text>
<line x1="748.5" y1="858.2" x2="748.5" y2="853.2" stroke="#262626" stroke-width="1.9"/>
<text transform="translate(748.50,887.50) scale(0.82,1)" font-size="34" text-anchor="middle" font-weight="normal" fill="#262626">0.5</text>
<line x1="837.7" y1="858.2" x2="837.7" y2="853.2" stroke="#262626" stroke-width="1.9"/>
<text transform="translate(837.70,887.50) scale(0.82,1)" font-size="34" text-anchor="middle" font-weight="normal" fill="#262626">1</text>
<line x1="926.9" y1="858.2" x2="926.9" y2="853.2" stroke="#262626" stroke-width="1.9"/>
<text transform="translate(926.90,887.50) scale(0.82,1)" font-size="34" text-anchor="middle" font-weight="normal" fill="#262626">1.5</text>
<text transform="translate(547.00,675.30) rotate(-90) scale(0.94,1)" font-size="34" text-anchor="middle" fill="#262626">Regression estimate</text>
<clipPath id="clipb4"><rect x="614.8" y="902.7" width="361.80000000000007" height="188.39999999999986"/></clipPath>
<g clip-path="url(#clipb4)">
<path d="M614.0,1032.0 C617.2,1031.4 627.2,1028.4 633.2,1028.4 C639.3,1028.4 645.3,1031.7 650.1,1032.0 C654.9,1032.4 657.7,1029.8 662.1,1030.2 C666.5,1030.6 672.1,1034.8 676.5,1034.5 C680.9,1034.2 683.9,1031.0 688.5,1028.4 C693.2,1025.8 699.6,1021.6 704.2,1018.8 C708.8,1016.0 712.2,1013.4 716.2,1011.6 C720.2,1009.8 724.2,1007.9 728.2,1008.0 C732.2,1008.1 736.2,1010.4 740.3,1012.2 C744.3,1014.0 748.7,1016.8 752.3,1018.8 C755.9,1020.8 758.5,1022.8 761.9,1024.2 C765.3,1025.6 769.3,1026.6 772.7,1027.2 C776.1,1027.8 778.8,1026.9 782.3,1027.8 C785.9,1028.7 789.7,1032.2 794.0,1032.7 C798.3,1033.1 803.6,1030.9 808.4,1030.2 C813.2,1029.5 818.4,1028.8 822.9,1028.4 C827.3,1028.0 831.3,1027.4 834.9,1027.8 C838.5,1028.2 840.9,1029.3 844.5,1030.8 C848.1,1032.4 852.5,1034.8 856.5,1036.9 C860.5,1039.0 863.9,1042.1 868.5,1043.5 C873.2,1044.9 879.6,1045.5 884.2,1045.3 C888.8,1045.1 892.2,1042.6 896.2,1042.3 C900.2,1042.0 904.2,1043.0 908.2,1043.5 C912.2,1044.0 915.6,1044.9 920.3,1045.3 C924.9,1045.7 931.3,1046.7 935.9,1045.9 C940.5,1045.1 943.9,1042.6 947.9,1040.5 C951.9,1038.4 955.9,1034.9 959.9,1033.3 C963.9,1031.6 970.0,1031.2 972.0,1030.8" fill="none" stroke="#FF7645" stroke-width="4.3" stroke-linejoin="round"/>
<path d="M616.4,1029.0 C618.7,1030.0 625.6,1035.5 630.2,1035.1 C634.8,1034.7 639.3,1028.2 644.1,1026.6 C648.9,1025.0 653.9,1025.7 659.1,1025.4 C664.3,1025.1 670.0,1025.1 675.3,1024.8 C680.6,1024.5 685.7,1024.4 691.0,1023.6 C696.2,1022.8 701.7,1021.4 706.6,1020.0 C711.5,1018.6 715.9,1014.5 720.4,1015.2 C724.9,1015.9 729.1,1021.3 733.6,1024.2 C738.1,1027.1 742.6,1030.8 747.5,1032.7 C752.4,1034.5 758.1,1033.7 763.1,1035.1 C768.1,1036.5 772.7,1040.9 777.5,1041.1 C782.3,1041.3 786.8,1037.6 792.0,1036.3 C797.1,1035.0 803.5,1035.3 808.4,1033.3 C813.4,1031.2 816.8,1024.8 821.7,1024.2 C826.5,1023.6 832.3,1028.5 837.3,1029.6 C842.3,1030.7 846.7,1030.6 851.7,1030.8 C856.7,1031.0 862.2,1031.4 867.3,1030.8 C872.5,1030.2 877.6,1027.6 882.4,1027.2 C887.2,1026.8 892.1,1026.5 896.2,1028.4 C900.3,1030.3 902.7,1037.5 907.0,1038.7 C911.3,1039.9 917.0,1036.6 922.1,1035.7 C927.1,1034.8 932.5,1035.5 937.1,1033.3 C941.7,1031.0 945.3,1025.3 949.7,1022.4 C954.1,1019.5 959.8,1017.4 963.5,1015.8 C967.2,1014.2 970.6,1013.3 972.0,1012.8" fill="none" stroke="#FF7645" stroke-width="4.7" stroke-dasharray="4.7 10.1"/>
</g>
<rect x="703.9" y="912.7" width="133.8" height="178.4" fill="#808080" fill-opacity="0.4"/>
<line x1="703.9" y1="1091.1" x2="837.7" y2="912.7" stroke="#bbbbbb" stroke-width="0.6"/>
<line x1="614.8" y1="1031.6" x2="971.6" y2="1031.6" stroke="#000" stroke-width="2" stroke-dasharray="40.3 24"/>
<line x1="659.3" y1="922.6" x2="659.3" y2="1091.1" stroke="#000" stroke-width="2.1" stroke-dasharray="40.3 24"/>
<line x1="926.9" y1="922.6" x2="926.9" y2="1091.1" stroke="#000" stroke-width="2.1" stroke-dasharray="40.3 24"/>
<path d="M614.8,912.7 L614.8,1091.1 L971.6,1091.1" fill="none" stroke="#262626" stroke-width="1.9" stroke-linecap="square"/>
<line x1="614.8" y1="952.3" x2="619.8" y2="952.3" stroke="#262626" stroke-width="1.9"/>
<text transform="translate(611.80,961.34) scale(0.82,1)" font-size="34" text-anchor="end" font-weight="normal" fill="#262626">0.2</text>
<line x1="614.8" y1="992.0" x2="619.8" y2="992.0" stroke="#262626" stroke-width="1.9"/>
<text transform="translate(611.80,1000.99) scale(0.82,1)" font-size="34" text-anchor="end" font-weight="normal" fill="#262626">0.1</text>
<line x1="614.8" y1="1031.6" x2="619.8" y2="1031.6" stroke="#262626" stroke-width="1.9"/>
<text transform="translate(611.80,1040.63) scale(0.82,1)" font-size="34" text-anchor="end" font-weight="normal" fill="#262626">0</text>
<line x1="614.8" y1="1071.3" x2="619.8" y2="1071.3" stroke="#262626" stroke-width="1.9"/>
<text transform="translate(611.80,1080.28) scale(0.82,1)" font-size="34" text-anchor="end" font-weight="normal" fill="#262626">-0.1</text>
<line x1="659.3" y1="1091.1" x2="659.3" y2="1086.1" stroke="#262626" stroke-width="1.9"/>
<line x1="748.5" y1="1091.1" x2="748.5" y2="1086.1" stroke="#262626" stroke-width="1.9"/>
<line x1="837.7" y1="1091.1" x2="837.7" y2="1086.1" stroke="#262626" stroke-width="1.9"/>
<line x1="926.9" y1="1091.1" x2="926.9" y2="1086.1" stroke="#262626" stroke-width="1.9"/>
<clipPath id="clipb5"><rect x="614.8" y="1103.5" width="361.80000000000007" height="188.0"/></clipPath>
<g clip-path="url(#clipb5)">
<path d="M614.0,1235.5 C615.6,1236.3 619.8,1238.4 623.6,1240.3 C627.4,1242.2 631.8,1246.6 636.8,1246.9 C641.9,1247.1 648.7,1242.3 653.7,1241.8 C658.7,1241.3 662.7,1244.7 666.9,1243.9 C671.1,1243.0 674.9,1238.7 678.9,1236.7 C682.9,1234.7 687.3,1233.5 691.0,1231.8 C694.6,1230.2 697.4,1229.4 700.6,1227.0 C703.8,1224.6 707.0,1220.4 710.2,1217.4 C713.4,1214.4 716.6,1211.2 719.8,1209.0 C723.0,1206.8 725.8,1206.2 729.4,1204.2 C733.0,1202.2 737.8,1198.6 741.5,1197.0 C745.1,1195.4 746.9,1196.0 751.1,1194.6 C755.3,1193.2 761.9,1189.0 766.7,1188.6 C771.5,1188.2 775.4,1190.6 779.9,1192.2 C784.5,1193.8 789.7,1196.2 794.0,1198.2 C798.3,1200.2 801.6,1202.0 806.0,1204.2 C810.4,1206.4 815.6,1209.8 820.5,1211.4 C825.3,1213.0 830.9,1212.2 834.9,1213.8 C838.9,1215.4 840.9,1218.4 844.5,1221.0 C848.1,1223.6 852.5,1227.0 856.5,1229.4 C860.5,1231.8 864.5,1233.5 868.5,1235.5 C872.6,1237.5 876.0,1240.3 880.6,1241.5 C885.2,1242.7 891.4,1242.3 896.2,1242.7 C901.0,1243.1 905.4,1243.5 909.4,1243.9 C913.4,1244.3 916.4,1244.7 920.3,1245.1 C924.1,1245.5 928.3,1246.6 932.3,1246.3 C936.3,1246.0 939.9,1244.3 944.3,1243.3 C948.7,1242.3 954.1,1241.8 958.7,1240.3 C963.3,1238.8 969.8,1235.3 972.0,1234.3" fill="none" stroke="#35A0C5" stroke-width="4.3" stroke-linejoin="round"/>
<path d="M616.4,1224.0 C619.0,1224.3 626.8,1225.0 632.0,1225.8 C637.2,1226.6 642.5,1228.7 647.7,1228.8 C652.9,1228.9 658.1,1226.4 663.3,1226.4 C668.5,1226.4 673.5,1228.7 678.9,1228.8 C684.3,1228.9 691.0,1225.6 695.8,1227.0 C700.6,1228.4 703.4,1235.1 707.8,1237.3 C712.2,1239.5 717.6,1238.4 722.2,1240.3 C726.8,1242.2 731.0,1246.0 735.4,1248.7 C739.9,1251.4 744.0,1255.2 748.7,1256.5 C753.4,1257.8 758.9,1255.7 763.7,1256.5 C768.5,1257.3 772.9,1262.1 777.5,1261.3 C782.1,1260.5 786.6,1254.1 791.4,1251.7 C796.1,1249.3 801.0,1248.4 806.0,1246.9 C811.1,1245.4 816.5,1243.1 821.7,1242.7 C826.8,1242.3 831.8,1245.4 836.7,1244.5 C841.6,1243.6 846.2,1239.3 851.1,1237.3 C856.0,1235.3 860.9,1233.9 866.1,1232.4 C871.4,1231.0 877.1,1228.9 882.4,1228.8 C887.7,1228.7 892.8,1231.7 898.0,1231.8 C903.2,1231.9 908.6,1230.7 913.6,1229.4 C918.6,1228.1 923.2,1225.5 928.1,1224.0 C933.0,1222.5 938.1,1220.3 943.1,1220.4 C948.1,1220.5 953.3,1223.3 958.1,1224.6 C962.9,1225.9 969.7,1227.6 972.0,1228.2" fill="none" stroke="#35A0C5" stroke-width="4.7" stroke-dasharray="4.7 10.1"/>
</g>
<rect x="703.9" y="1113.5" width="133.8" height="178.0" fill="#808080" fill-opacity="0.4"/>
<line x1="614.8" y1="1232.2" x2="971.6" y2="1232.2" stroke="#000" stroke-width="2" stroke-dasharray="40.3 24"/>
<line x1="659.3" y1="1123.6" x2="659.3" y2="1291.5" stroke="#000" stroke-width="2.1" stroke-dasharray="40.3 24"/>
<line x1="926.9" y1="1123.6" x2="926.9" y2="1291.5" stroke="#000" stroke-width="2.1" stroke-dasharray="40.3 24"/>
<path d="M614.8,1113.5 L614.8,1291.5 L971.6,1291.5" fill="none" stroke="#262626" stroke-width="1.9" stroke-linecap="square"/>
<line x1="614.8" y1="1153.1" x2="619.8" y2="1153.1" stroke="#262626" stroke-width="1.9"/>
<text transform="translate(611.80,1162.06) scale(0.82,1)" font-size="34" text-anchor="end" font-weight="normal" fill="#262626">0.2</text>
<line x1="614.8" y1="1192.6" x2="619.8" y2="1192.6" stroke="#262626" stroke-width="1.9"/>
<text transform="translate(611.80,1201.61) scale(0.82,1)" font-size="34" text-anchor="end" font-weight="normal" fill="#262626">0.1</text>
<line x1="614.8" y1="1232.2" x2="619.8" y2="1232.2" stroke="#262626" stroke-width="1.9"/>
<text transform="translate(611.80,1241.17) scale(0.82,1)" font-size="34" text-anchor="end" font-weight="normal" fill="#262626">0</text>
<line x1="614.8" y1="1271.7" x2="619.8" y2="1271.7" stroke="#262626" stroke-width="1.9"/>
<text transform="translate(611.80,1280.72) scale(0.82,1)" font-size="34" text-anchor="end" font-weight="normal" fill="#262626">-0.1</text>
<line x1="659.3" y1="1291.5" x2="659.3" y2="1286.5" stroke="#262626" stroke-width="1.9"/>
<text transform="translate(659.30,1320.80) scale(0.82,1)" font-size="34" text-anchor="middle" font-weight="normal" fill="#262626">0</text>
<line x1="748.5" y1="1291.5" x2="748.5" y2="1286.5" stroke="#262626" stroke-width="1.9"/>
<text transform="translate(748.50,1320.80) scale(0.82,1)" font-size="34" text-anchor="middle" font-weight="normal" fill="#262626">0.5</text>
<line x1="837.7" y1="1291.5" x2="837.7" y2="1286.5" stroke="#262626" stroke-width="1.9"/>
<text transform="translate(837.70,1320.80) scale(0.82,1)" font-size="34" text-anchor="middle" font-weight="normal" fill="#262626">1</text>
<line x1="926.9" y1="1291.5" x2="926.9" y2="1286.5" stroke="#262626" stroke-width="1.9"/>
<text transform="translate(926.90,1320.80) scale(0.82,1)" font-size="34" text-anchor="middle" font-weight="normal" fill="#262626">1.5</text>
<text transform="translate(547.00,1108.60) rotate(-90) scale(0.94,1)" font-size="34" text-anchor="middle" fill="#262626">Regression estimate</text>
<clipPath id="clipb6"><rect x="614.8" y="1332.7" width="361.80000000000007" height="188.39999999999986"/></clipPath>
<g clip-path="url(#clipb6)">
<path d="M614.0,1468.1 C615.6,1467.8 620.0,1465.9 623.6,1466.3 C627.2,1466.7 631.2,1470.2 635.6,1470.5 C640.1,1470.8 646.1,1468.2 650.1,1468.1 C654.1,1468.0 655.7,1468.1 659.7,1469.9 C663.7,1471.7 670.1,1477.8 674.1,1478.9 C678.1,1480.0 680.5,1478.3 683.7,1476.5 C686.9,1474.7 690.0,1471.1 693.4,1468.1 C696.8,1465.1 700.4,1462.0 704.2,1458.4 C708.0,1454.8 712.2,1449.5 716.2,1446.4 C720.2,1443.3 724.2,1441.3 728.2,1439.8 C732.2,1438.3 736.4,1437.2 740.3,1437.4 C744.1,1437.6 747.5,1439.5 751.1,1441.0 C754.7,1442.5 757.9,1445.6 761.9,1446.4 C765.9,1447.2 771.3,1445.1 775.1,1445.8 C778.9,1446.5 781.6,1449.1 784.7,1450.6 C787.9,1452.1 790.5,1453.3 794.0,1454.8 C797.5,1456.3 800.8,1457.7 806.0,1459.6 C811.2,1461.5 820.1,1465.5 825.3,1466.3 C830.5,1467.1 833.3,1465.3 837.3,1464.5 C841.3,1463.7 845.3,1461.6 849.3,1461.4 C853.3,1461.2 857.3,1463.5 861.3,1463.3 C865.3,1463.1 869.4,1459.4 873.4,1460.2 C877.4,1461.0 880.6,1465.8 885.4,1468.1 C890.2,1470.4 895.8,1473.0 902.2,1474.1 C908.6,1475.2 917.8,1475.1 923.9,1474.7 C929.9,1474.3 932.9,1472.7 938.3,1471.7 C943.7,1470.7 950.7,1469.7 956.3,1468.7 C961.9,1467.7 969.3,1466.2 972.0,1465.7" fill="none" stroke="#FF7645" stroke-width="4.3" stroke-linejoin="round"/>
<path d="M616.4,1463.3 C619.0,1463.6 626.8,1464.8 632.0,1465.1 C637.2,1465.4 642.5,1465.4 647.7,1465.1 C652.9,1464.8 658.0,1463.8 663.3,1463.3 C668.6,1462.8 674.1,1462.2 679.5,1462.0 C684.9,1461.8 690.5,1461.7 695.8,1462.0 C701.1,1462.4 706.3,1462.9 711.4,1463.9 C716.5,1464.9 721.3,1467.9 726.4,1468.1 C731.5,1468.3 736.8,1465.2 742.1,1465.1 C747.3,1465.0 752.4,1467.3 757.7,1467.5 C763.0,1467.7 768.5,1466.7 773.9,1466.3 C779.3,1465.9 784.9,1465.4 790.2,1465.1 C795.4,1464.8 800.5,1465.8 805.4,1464.5 C810.4,1463.2 814.8,1458.6 819.9,1457.2 C824.9,1455.8 830.3,1456.1 835.5,1456.0 C840.7,1455.9 845.8,1456.7 851.1,1456.6 C856.4,1456.5 862.0,1455.5 867.3,1455.4 C872.7,1455.3 877.9,1455.6 883.0,1456.0 C888.1,1456.4 893.1,1456.4 898.0,1457.8 C902.9,1459.2 907.4,1463.3 912.4,1464.5 C917.4,1465.7 922.9,1465.1 928.1,1465.1 C933.3,1465.1 938.4,1464.8 943.7,1464.5 C949.0,1464.2 955.2,1463.7 959.9,1463.3 C964.6,1462.9 970.0,1462.2 972.0,1462.0" fill="none" stroke="#FF7645" stroke-width="4.7" stroke-dasharray="4.7 10.1"/>
</g>
<rect x="703.9" y="1342.7" width="133.8" height="178.4" fill="#808080" fill-opacity="0.4"/>
<line x1="703.9" y1="1521.1" x2="837.7" y2="1342.7" stroke="#bbbbbb" stroke-width="0.6"/>
<line x1="614.8" y1="1461.6" x2="971.6" y2="1461.6" stroke="#000" stroke-width="2" stroke-dasharray="40.3 24"/>
<line x1="659.3" y1="1352.6" x2="659.3" y2="1521.1" stroke="#000" stroke-width="2.1" stroke-dasharray="40.3 24"/>
<line x1="926.9" y1="1352.6" x2="926.9" y2="1521.1" stroke="#000" stroke-width="2.1" stroke-dasharray="40.3 24"/>
<path d="M614.8,1342.7 L614.8,1521.1 L971.6,1521.1" fill="none" stroke="#262626" stroke-width="1.9" stroke-linecap="square"/>
<line x1="614.8" y1="1382.3" x2="619.8" y2="1382.3" stroke="#262626" stroke-width="1.9"/>
<text transform="translate(611.80,1391.34) scale(0.82,1)" font-size="34" text-anchor="end" font-weight="normal" fill="#262626">0.2</text>
<line x1="614.8" y1="1422.0" x2="619.8" y2="1422.0" stroke="#262626" stroke-width="1.9"/>
<text transform="translate(611.80,1430.99) scale(0.82,1)" font-size="34" text-anchor="end" font-weight="normal" fill="#262626">0.1</text>
<line x1="614.8" y1="1461.6" x2="619.8" y2="1461.6" stroke="#262626" stroke-width="1.9"/>
<text transform="translate(611.80,1470.63) scale(0.82,1)" font-size="34" text-anchor="end" font-weight="normal" fill="#262626">0</text>
<line x1="614.8" y1="1501.3" x2="619.8" y2="1501.3" stroke="#262626" stroke-width="1.9"/>
<text transform="translate(611.80,1510.28) scale(0.82,1)" font-size="34" text-anchor="end" font-weight="normal" fill="#262626">-0.1</text>
<line x1="659.3" y1="1521.1" x2="659.3" y2="1516.1" stroke="#262626" stroke-width="1.9"/>
<line x1="748.5" y1="1521.1" x2="748.5" y2="1516.1" stroke="#262626" stroke-width="1.9"/>
<line x1="837.7" y1="1521.1" x2="837.7" y2="1516.1" stroke="#262626" stroke-width="1.9"/>
<line x1="926.9" y1="1521.1" x2="926.9" y2="1516.1" stroke="#262626" stroke-width="1.9"/>
<clipPath id="clipb7"><rect x="614.8" y="1533.8" width="361.80000000000007" height="187.70000000000005"/></clipPath>
<g clip-path="url(#clipb7)">
<path d="M614.0,1676.3 C615.6,1677.2 620.0,1681.9 623.6,1681.7 C627.2,1681.5 631.2,1677.1 635.6,1675.1 C640.1,1673.1 646.1,1670.6 650.1,1669.7 C654.1,1668.8 656.5,1670.2 659.7,1669.7 C662.9,1669.2 665.7,1666.4 669.3,1666.7 C672.9,1667.0 677.3,1670.1 681.3,1671.5 C685.3,1672.9 689.4,1674.8 693.4,1675.1 C697.4,1675.4 701.0,1674.7 705.4,1673.3 C709.8,1671.9 715.0,1669.2 719.8,1666.7 C724.6,1664.2 729.8,1661.4 734.2,1658.2 C738.6,1655.0 742.3,1650.6 746.3,1647.4 C750.3,1644.2 754.3,1641.0 758.3,1639.0 C762.3,1637.0 766.7,1635.8 770.3,1635.4 C773.9,1635.0 776.0,1636.8 779.9,1636.6 C783.9,1636.4 790.1,1634.0 794.0,1634.2 C797.9,1634.4 799.0,1638.2 803.6,1637.8 C808.2,1637.4 816.0,1632.2 821.7,1631.8 C827.3,1631.4 831.9,1634.1 837.3,1635.4 C842.7,1636.7 848.3,1638.9 854.1,1639.6 C859.9,1640.3 866.9,1640.0 872.2,1639.6 C877.4,1639.2 880.8,1636.9 885.4,1637.2 C890.0,1637.5 895.4,1640.0 899.8,1641.4 C904.2,1642.8 908.4,1643.8 911.8,1645.6 C915.2,1647.4 917.4,1650.1 920.3,1652.2 C923.1,1654.3 925.1,1658.1 928.7,1658.2 C932.3,1658.3 937.9,1653.3 941.9,1652.8 C945.9,1652.3 949.3,1655.7 952.7,1655.2 C956.1,1654.7 959.1,1651.4 962.3,1649.8 C965.5,1648.2 970.4,1646.3 972.0,1645.6" fill="none" stroke="#35A0C5" stroke-width="4.3" stroke-linejoin="round"/>
<path d="M616.4,1663.0 C619.0,1662.6 626.7,1660.5 632.0,1660.6 C637.3,1660.7 643.1,1663.4 648.3,1663.7 C653.5,1664.0 658.2,1662.3 663.3,1662.4 C668.4,1662.5 673.7,1664.2 678.9,1664.3 C684.1,1664.4 689.4,1662.8 694.6,1663.0 C699.8,1663.2 705.2,1664.1 710.2,1665.5 C715.2,1666.9 719.8,1669.2 724.6,1671.5 C729.4,1673.8 734.9,1676.1 739.0,1679.3 C743.2,1682.5 744.9,1688.6 749.3,1690.7 C753.7,1692.8 760.2,1692.0 765.5,1691.9 C770.8,1691.8 776.0,1691.2 781.1,1690.1 C786.3,1689.0 791.7,1687.5 796.4,1685.3 C801.2,1683.1 805.2,1679.8 809.6,1676.9 C814.0,1674.0 818.2,1670.7 822.9,1667.9 C827.5,1665.1 832.4,1661.7 837.3,1660.0 C842.2,1658.3 847.3,1658.6 852.3,1657.6 C857.3,1656.6 862.2,1654.8 867.3,1654.0 C872.5,1653.2 877.7,1653.0 883.0,1652.8 C888.3,1652.6 893.8,1652.6 899.2,1652.8 C904.6,1653.0 910.4,1655.2 915.4,1654.0 C920.5,1652.8 924.5,1647.4 929.3,1645.6 C934.1,1643.8 939.2,1643.4 944.3,1643.2 C949.4,1643.0 955.3,1644.7 959.9,1644.4 C964.5,1644.1 970.0,1641.9 972.0,1641.4" fill="none" stroke="#35A0C5" stroke-width="4.7" stroke-dasharray="4.7 10.1"/>
</g>
<rect x="703.9" y="1543.8" width="133.8" height="177.7" fill="#808080" fill-opacity="0.4"/>
<line x1="614.8" y1="1662.3" x2="971.6" y2="1662.3" stroke="#000" stroke-width="2" stroke-dasharray="40.3 24"/>
<line x1="659.3" y1="1553.6" x2="659.3" y2="1721.5" stroke="#000" stroke-width="2.1" stroke-dasharray="40.3 24"/>
<line x1="926.9" y1="1553.6" x2="926.9" y2="1721.5" stroke="#000" stroke-width="2.1" stroke-dasharray="40.3 24"/>
<path d="M614.8,1543.8 L614.8,1721.5 L971.6,1721.5" fill="none" stroke="#262626" stroke-width="1.9" stroke-linecap="square"/>
<line x1="614.8" y1="1583.3" x2="619.8" y2="1583.3" stroke="#262626" stroke-width="1.9"/>
<text transform="translate(611.80,1592.29) scale(0.82,1)" font-size="34" text-anchor="end" font-weight="normal" fill="#262626">0.2</text>
<line x1="614.8" y1="1622.8" x2="619.8" y2="1622.8" stroke="#262626" stroke-width="1.9"/>
<text transform="translate(611.80,1631.78) scale(0.82,1)" font-size="34" text-anchor="end" font-weight="normal" fill="#262626">0.1</text>
<line x1="614.8" y1="1662.3" x2="619.8" y2="1662.3" stroke="#262626" stroke-width="1.9"/>
<text transform="translate(611.80,1671.27) scale(0.82,1)" font-size="34" text-anchor="end" font-weight="normal" fill="#262626">0</text>
<line x1="614.8" y1="1701.8" x2="619.8" y2="1701.8" stroke="#262626" stroke-width="1.9"/>
<text transform="translate(611.80,1710.76) scale(0.82,1)" font-size="34" text-anchor="end" font-weight="normal" fill="#262626">-0.1</text>
<line x1="659.3" y1="1721.5" x2="659.3" y2="1716.5" stroke="#262626" stroke-width="1.9"/>
<text transform="translate(659.30,1750.80) scale(0.82,1)" font-size="34" text-anchor="middle" font-weight="normal" fill="#262626">0</text>
<line x1="748.5" y1="1721.5" x2="748.5" y2="1716.5" stroke="#262626" stroke-width="1.9"/>
<text transform="translate(748.50,1750.80) scale(0.82,1)" font-size="34" text-anchor="middle" font-weight="normal" fill="#262626">0.5</text>
<line x1="837.7" y1="1721.5" x2="837.7" y2="1716.5" stroke="#262626" stroke-width="1.9"/>
<text transform="translate(837.70,1750.80) scale(0.82,1)" font-size="34" text-anchor="middle" font-weight="normal" fill="#262626">1</text>
<line x1="926.9" y1="1721.5" x2="926.9" y2="1716.5" stroke="#262626" stroke-width="1.9"/>
<text transform="translate(926.90,1750.80) scale(0.82,1)" font-size="34" text-anchor="middle" font-weight="normal" fill="#262626">1.5</text>
<text transform="translate(547.00,1538.60) rotate(-90) scale(0.94,1)" font-size="34" text-anchor="middle" fill="#262626">Regression estimate</text>
<text transform="translate(793.20,1782.60) scale(0.94,1)" font-size="34" text-anchor="middle" font-weight="normal" fill="#262626">Time from outcome (s)</text>
<text transform="translate(789.70,81.90) scale(0.94,1)" font-size="34" text-anchor="start" font-weight="normal" fill="#262626">P</text>
<text transform="translate(790.70,213.80) scale(0.94,1)" font-size="34" text-anchor="start" font-weight="normal" fill="#262626">Qp</text>
<text transform="translate(789.70,337.40) scale(0.94,1)" font-size="34" text-anchor="start" font-weight="normal" fill="#262626">R</text>
<text transform="translate(790.70,424.30) scale(0.94,1)" font-size="34" text-anchor="start" font-weight="normal" fill="#262626">Qr</text>
<rect x="1110.0" y="220.6" width="79.2" height="21.8" fill="#35A0C5" stroke="#000" stroke-width="1.8"/>
<rect x="1208.9" y="242.4" width="79.2" height="26.2" fill="#35A0C5" stroke="#000" stroke-width="1.8"/>
<rect x="1307.8" y="193.7" width="79.2" height="48.6" fill="#FF7645" stroke="#000" stroke-width="1.8"/>
<rect x="1406.7" y="242.4" width="79.2" height="7.6" fill="#FF7645" stroke="#000" stroke-width="1.8"/>
<g fill="#B3B3B3">
<ellipse cx="1145.4" cy="131.2" rx="2.5" ry="3.2"/>
<ellipse cx="1172.9" cy="136.3" rx="2.5" ry="3.2"/>
<ellipse cx="1146.7" cy="148.2" rx="2.5" ry="3.2"/>
<ellipse cx="1167.6" cy="151.1" rx="2.5" ry="3.2"/>
<ellipse cx="1168.2" cy="156.4" rx="2.5" ry="3.2"/>
<ellipse cx="1154.5" cy="157.7" rx="2.5" ry="3.2"/>
<ellipse cx="1144.8" cy="164.7" rx="2.5" ry="3.2"/>
<ellipse cx="1165.3" cy="169.1" rx="2.5" ry="3.2"/>
<ellipse cx="1126.4" cy="174.2" rx="2.5" ry="3.2"/>
<ellipse cx="1153.4" cy="184.3" rx="2.5" ry="3.2"/>
<ellipse cx="1172.4" cy="188.1" rx="2.5" ry="3.2"/>
<ellipse cx="1132.5" cy="192.8" rx="2.5" ry="3.2"/>
<ellipse cx="1139.2" cy="193.8" rx="2.5" ry="3.2"/>
<ellipse cx="1143.3" cy="190.6" rx="2.5" ry="3.2"/>
<ellipse cx="1148.6" cy="194.3" rx="2.5" ry="3.2"/>
<ellipse cx="1129.7" cy="201.0" rx="2.5" ry="3.2"/>
<ellipse cx="1134.4" cy="206.5" rx="2.5" ry="3.2"/>
<ellipse cx="1140.1" cy="204.6" rx="2.5" ry="3.2"/>
<ellipse cx="1146.4" cy="204.6" rx="2.5" ry="3.2"/>
<ellipse cx="1152.4" cy="200.4" rx="2.5" ry="3.2"/>
<ellipse cx="1155.3" cy="198.1" rx="2.5" ry="3.2"/>
<ellipse cx="1162.9" cy="196.6" rx="2.5" ry="3.2"/>
<ellipse cx="1164.8" cy="200.4" rx="2.5" ry="3.2"/>
<ellipse cx="1171.4" cy="198.5" rx="2.5" ry="3.2"/>
<ellipse cx="1174.3" cy="201.9" rx="2.5" ry="3.2"/>
<ellipse cx="1170.5" cy="208.0" rx="2.5" ry="3.2"/>
<ellipse cx="1169.5" cy="213.7" rx="2.5" ry="3.2"/>
<ellipse cx="1125.9" cy="216.5" rx="2.5" ry="3.2"/>
<ellipse cx="1131.6" cy="214.6" rx="2.5" ry="3.2"/>
<ellipse cx="1133.5" cy="217.5" rx="2.5" ry="3.2"/>
<ellipse cx="1143.9" cy="214.6" rx="2.5" ry="3.2"/>
<ellipse cx="1150.5" cy="214.6" rx="2.5" ry="3.2"/>
<ellipse cx="1160.0" cy="212.8" rx="2.5" ry="3.2"/>
<ellipse cx="1163.8" cy="216.5" rx="2.5" ry="3.2"/>
<ellipse cx="1124.9" cy="225.1" rx="2.5" ry="3.2"/>
<ellipse cx="1136.3" cy="223.2" rx="2.5" ry="3.2"/>
<ellipse cx="1140.1" cy="226.6" rx="2.5" ry="3.2"/>
<ellipse cx="1156.2" cy="224.1" rx="2.5" ry="3.2"/>
<ellipse cx="1161.0" cy="226.0" rx="2.5" ry="3.2"/>
<ellipse cx="1163.8" cy="228.9" rx="2.5" ry="3.2"/>
<ellipse cx="1127.8" cy="233.6" rx="2.5" ry="3.2"/>
<ellipse cx="1133.5" cy="236.5" rx="2.5" ry="3.2"/>
<ellipse cx="1137.3" cy="234.6" rx="2.5" ry="3.2"/>
<ellipse cx="1143.0" cy="231.7" rx="2.5" ry="3.2"/>
<ellipse cx="1154.3" cy="233.6" rx="2.5" ry="3.2"/>
<ellipse cx="1161.9" cy="237.4" rx="2.5" ry="3.2"/>
<ellipse cx="1166.7" cy="235.5" rx="2.5" ry="3.2"/>
<ellipse cx="1170.5" cy="231.7" rx="2.5" ry="3.2"/>
<ellipse cx="1173.3" cy="232.7" rx="2.5" ry="3.2"/>
<ellipse cx="1126.8" cy="243.1" rx="2.5" ry="3.2"/>
<ellipse cx="1136.3" cy="239.3" rx="2.5" ry="3.2"/>
<ellipse cx="1151.5" cy="240.3" rx="2.5" ry="3.2"/>
<ellipse cx="1141.1" cy="247.9" rx="2.5" ry="3.2"/>
<ellipse cx="1157.2" cy="249.8" rx="2.5" ry="3.2"/>
<ellipse cx="1159.1" cy="253.5" rx="2.5" ry="3.2"/>
<ellipse cx="1167.6" cy="253.5" rx="2.5" ry="3.2"/>
<ellipse cx="1128.7" cy="256.4" rx="2.5" ry="3.2"/>
<ellipse cx="1139.2" cy="253.5" rx="2.5" ry="3.2"/>
<ellipse cx="1138.2" cy="257.3" rx="2.5" ry="3.2"/>
<ellipse cx="1161.9" cy="257.3" rx="2.5" ry="3.2"/>
<ellipse cx="1166.7" cy="259.2" rx="2.5" ry="3.2"/>
<ellipse cx="1128.7" cy="263.0" rx="2.5" ry="3.2"/>
<ellipse cx="1165.7" cy="264.0" rx="2.5" ry="3.2"/>
<ellipse cx="1130.6" cy="270.6" rx="2.5" ry="3.2"/>
<ellipse cx="1135.4" cy="273.5" rx="2.5" ry="3.2"/>
<ellipse cx="1131.6" cy="279.2" rx="2.5" ry="3.2"/>
<ellipse cx="1159.1" cy="278.2" rx="2.5" ry="3.2"/>
<ellipse cx="1142.0" cy="285.8" rx="2.5" ry="3.2"/>
<ellipse cx="1158.5" cy="313.9" rx="2.5" ry="3.2"/>
<ellipse cx="1248.6" cy="186.2" rx="2.5" ry="3.2"/>
<ellipse cx="1267.6" cy="212.2" rx="2.5" ry="3.2"/>
<ellipse cx="1231.8" cy="222.2" rx="2.5" ry="3.2"/>
<ellipse cx="1246.4" cy="223.2" rx="2.5" ry="3.2"/>
<ellipse cx="1248.3" cy="219.4" rx="2.5" ry="3.2"/>
<ellipse cx="1259.6" cy="221.3" rx="2.5" ry="3.2"/>
<ellipse cx="1227.0" cy="233.1" rx="2.5" ry="3.2"/>
<ellipse cx="1239.2" cy="236.9" rx="2.5" ry="3.2"/>
<ellipse cx="1256.8" cy="232.3" rx="2.5" ry="3.2"/>
<ellipse cx="1265.3" cy="233.6" rx="2.5" ry="3.2"/>
<ellipse cx="1268.2" cy="232.7" rx="2.5" ry="3.2"/>
<ellipse cx="1271.0" cy="236.1" rx="2.5" ry="3.2"/>
<ellipse cx="1235.9" cy="245.0" rx="2.5" ry="3.2"/>
<ellipse cx="1239.7" cy="246.9" rx="2.5" ry="3.2"/>
<ellipse cx="1249.2" cy="243.1" rx="2.5" ry="3.2"/>
<ellipse cx="1255.9" cy="244.1" rx="2.5" ry="3.2"/>
<ellipse cx="1270.1" cy="246.0" rx="2.5" ry="3.2"/>
<ellipse cx="1224.5" cy="253.5" rx="2.5" ry="3.2"/>
<ellipse cx="1226.4" cy="258.3" rx="2.5" ry="3.2"/>
<ellipse cx="1235.9" cy="255.4" rx="2.5" ry="3.2"/>
<ellipse cx="1237.8" cy="261.1" rx="2.5" ry="3.2"/>
<ellipse cx="1249.2" cy="257.3" rx="2.5" ry="3.2"/>
<ellipse cx="1254.9" cy="255.4" rx="2.5" ry="3.2"/>
<ellipse cx="1260.6" cy="254.5" rx="2.5" ry="3.2"/>
<ellipse cx="1268.2" cy="255.4" rx="2.5" ry="3.2"/>
<ellipse cx="1225.5" cy="264.0" rx="2.5" ry="3.2"/>
<ellipse cx="1235.0" cy="264.0" rx="2.5" ry="3.2"/>
<ellipse cx="1245.4" cy="264.9" rx="2.5" ry="3.2"/>
<ellipse cx="1252.1" cy="264.9" rx="2.5" ry="3.2"/>
<ellipse cx="1258.7" cy="264.0" rx="2.5" ry="3.2"/>
<ellipse cx="1270.1" cy="264.9" rx="2.5" ry="3.2"/>
<ellipse cx="1226.4" cy="278.2" rx="2.5" ry="3.2"/>
<ellipse cx="1232.1" cy="283.0" rx="2.5" ry="3.2"/>
<ellipse cx="1228.3" cy="286.8" rx="2.5" ry="3.2"/>
<ellipse cx="1241.6" cy="285.8" rx="2.5" ry="3.2"/>
<ellipse cx="1244.5" cy="282.0" rx="2.5" ry="3.2"/>
<ellipse cx="1251.1" cy="275.4" rx="2.5" ry="3.2"/>
<ellipse cx="1261.5" cy="275.4" rx="2.5" ry="3.2"/>
<ellipse cx="1266.3" cy="276.3" rx="2.5" ry="3.2"/>
<ellipse cx="1262.5" cy="283.9" rx="2.5" ry="3.2"/>
<ellipse cx="1242.6" cy="288.7" rx="2.5" ry="3.2"/>
<ellipse cx="1253.0" cy="290.6" rx="2.5" ry="3.2"/>
<ellipse cx="1256.8" cy="285.8" rx="2.5" ry="3.2"/>
<ellipse cx="1258.7" cy="289.6" rx="2.5" ry="3.2"/>
<ellipse cx="1267.2" cy="297.2" rx="2.5" ry="3.2"/>
<ellipse cx="1272.9" cy="299.1" rx="2.5" ry="3.2"/>
<ellipse cx="1228.3" cy="305.7" rx="2.5" ry="3.2"/>
<ellipse cx="1234.0" cy="309.5" rx="2.5" ry="3.2"/>
<ellipse cx="1240.7" cy="301.9" rx="2.5" ry="3.2"/>
<ellipse cx="1242.6" cy="303.8" rx="2.5" ry="3.2"/>
<ellipse cx="1239.7" cy="313.3" rx="2.5" ry="3.2"/>
<ellipse cx="1244.5" cy="314.3" rx="2.5" ry="3.2"/>
<ellipse cx="1230.2" cy="317.1" rx="2.5" ry="3.2"/>
<ellipse cx="1233.1" cy="322.8" rx="2.5" ry="3.2"/>
<ellipse cx="1263.4" cy="304.8" rx="2.5" ry="3.2"/>
<ellipse cx="1264.0" cy="320.9" rx="2.5" ry="3.2"/>
<ellipse cx="1229.3" cy="366.5" rx="2.5" ry="3.2"/>
<ellipse cx="1230.6" cy="370.2" rx="2.5" ry="3.2"/>
<ellipse cx="1328.2" cy="84.1" rx="2.5" ry="3.2"/>
<ellipse cx="1328.9" cy="96.1" rx="2.5" ry="3.2"/>
<ellipse cx="1341.8" cy="96.6" rx="2.5" ry="3.2"/>
<ellipse cx="1356.5" cy="108.4" rx="2.5" ry="3.2"/>
<ellipse cx="1365.8" cy="123.6" rx="2.5" ry="3.2"/>
<ellipse cx="1340.3" cy="128.7" rx="2.5" ry="3.2"/>
<ellipse cx="1362.3" cy="131.2" rx="2.5" ry="3.2"/>
<ellipse cx="1361.6" cy="136.9" rx="2.5" ry="3.2"/>
<ellipse cx="1324.8" cy="137.8" rx="2.5" ry="3.2"/>
<ellipse cx="1333.7" cy="136.5" rx="2.5" ry="3.2"/>
<ellipse cx="1341.3" cy="139.7" rx="2.5" ry="3.2"/>
<ellipse cx="1341.8" cy="144.4" rx="2.5" ry="3.2"/>
<ellipse cx="1344.7" cy="143.5" rx="2.5" ry="3.2"/>
<ellipse cx="1343.7" cy="152.0" rx="2.5" ry="3.2"/>
<ellipse cx="1332.4" cy="153.4" rx="2.5" ry="3.2"/>
<ellipse cx="1338.1" cy="153.4" rx="2.5" ry="3.2"/>
<ellipse cx="1342.8" cy="154.9" rx="2.5" ry="3.2"/>
<ellipse cx="1364.6" cy="155.8" rx="2.5" ry="3.2"/>
<ellipse cx="1370.3" cy="154.5" rx="2.5" ry="3.2"/>
<ellipse cx="1369.4" cy="162.5" rx="2.5" ry="3.2"/>
<ellipse cx="1355.7" cy="161.5" rx="2.5" ry="3.2"/>
<ellipse cx="1326.7" cy="165.7" rx="2.5" ry="3.2"/>
<ellipse cx="1332.0" cy="164.4" rx="2.5" ry="3.2"/>
<ellipse cx="1329.5" cy="171.6" rx="2.5" ry="3.2"/>
<ellipse cx="1357.0" cy="174.2" rx="2.5" ry="3.2"/>
<ellipse cx="1362.7" cy="172.3" rx="2.5" ry="3.2"/>
<ellipse cx="1339.6" cy="180.1" rx="2.5" ry="3.2"/>
<ellipse cx="1349.1" cy="178.0" rx="2.5" ry="3.2"/>
<ellipse cx="1350.0" cy="184.3" rx="2.5" ry="3.2"/>
<ellipse cx="1348.5" cy="187.5" rx="2.5" ry="3.2"/>
<ellipse cx="1369.4" cy="182.4" rx="2.5" ry="3.2"/>
<ellipse cx="1368.4" cy="186.8" rx="2.5" ry="3.2"/>
<ellipse cx="1371.8" cy="188.7" rx="2.5" ry="3.2"/>
<ellipse cx="1351.7" cy="190.0" rx="2.5" ry="3.2"/>
<ellipse cx="1323.8" cy="207.1" rx="2.5" ry="3.2"/>
<ellipse cx="1324.8" cy="209.9" rx="2.5" ry="3.2"/>
<ellipse cx="1330.5" cy="205.2" rx="2.5" ry="3.2"/>
<ellipse cx="1333.3" cy="202.7" rx="2.5" ry="3.2"/>
<ellipse cx="1342.4" cy="202.3" rx="2.5" ry="3.2"/>
<ellipse cx="1353.2" cy="201.4" rx="2.5" ry="3.2"/>
<ellipse cx="1352.3" cy="210.9" rx="2.5" ry="3.2"/>
<ellipse cx="1355.1" cy="209.9" rx="2.5" ry="3.2"/>
<ellipse cx="1368.8" cy="207.6" rx="2.5" ry="3.2"/>
<ellipse cx="1325.7" cy="220.0" rx="2.5" ry="3.2"/>
<ellipse cx="1335.2" cy="213.7" rx="2.5" ry="3.2"/>
<ellipse cx="1337.1" cy="218.4" rx="2.5" ry="3.2"/>
<ellipse cx="1347.5" cy="221.3" rx="2.5" ry="3.2"/>
<ellipse cx="1358.9" cy="214.6" rx="2.5" ry="3.2"/>
<ellipse cx="1360.8" cy="218.4" rx="2.5" ry="3.2"/>
<ellipse cx="1362.7" cy="221.3" rx="2.5" ry="3.2"/>
<ellipse cx="1322.9" cy="231.7" rx="2.5" ry="3.2"/>
<ellipse cx="1327.6" cy="230.8" rx="2.5" ry="3.2"/>
<ellipse cx="1330.5" cy="227.9" rx="2.5" ry="3.2"/>
<ellipse cx="1336.2" cy="232.7" rx="2.5" ry="3.2"/>
<ellipse cx="1337.1" cy="237.4" rx="2.5" ry="3.2"/>
<ellipse cx="1345.3" cy="234.2" rx="2.5" ry="3.2"/>
<ellipse cx="1354.8" cy="232.7" rx="2.5" ry="3.2"/>
<ellipse cx="1358.9" cy="227.9" rx="2.5" ry="3.2"/>
<ellipse cx="1361.2" cy="230.8" rx="2.5" ry="3.2"/>
<ellipse cx="1366.5" cy="228.5" rx="2.5" ry="3.2"/>
<ellipse cx="1353.2" cy="241.2" rx="2.5" ry="3.2"/>
<ellipse cx="1367.5" cy="239.3" rx="2.5" ry="3.2"/>
<ellipse cx="1325.3" cy="245.0" rx="2.5" ry="3.2"/>
<ellipse cx="1335.2" cy="247.9" rx="2.5" ry="3.2"/>
<ellipse cx="1338.1" cy="244.1" rx="2.5" ry="3.2"/>
<ellipse cx="1357.4" cy="259.6" rx="2.5" ry="3.2"/>
<ellipse cx="1371.3" cy="255.4" rx="2.5" ry="3.2"/>
<ellipse cx="1331.4" cy="263.4" rx="2.5" ry="3.2"/>
<ellipse cx="1364.2" cy="268.7" rx="2.5" ry="3.2"/>
<ellipse cx="1459.1" cy="162.1" rx="2.5" ry="3.2"/>
<ellipse cx="1456.3" cy="168.5" rx="2.5" ry="3.2"/>
<ellipse cx="1439.0" cy="189.0" rx="2.5" ry="3.2"/>
<ellipse cx="1439.6" cy="194.7" rx="2.5" ry="3.2"/>
<ellipse cx="1459.9" cy="192.4" rx="2.5" ry="3.2"/>
<ellipse cx="1463.9" cy="190.2" rx="2.5" ry="3.2"/>
<ellipse cx="1467.1" cy="205.7" rx="2.5" ry="3.2"/>
<ellipse cx="1464.4" cy="210.9" rx="2.5" ry="3.2"/>
<ellipse cx="1427.2" cy="213.7" rx="2.5" ry="3.2"/>
<ellipse cx="1431.0" cy="212.8" rx="2.5" ry="3.2"/>
<ellipse cx="1433.9" cy="217.5" rx="2.5" ry="3.2"/>
<ellipse cx="1429.1" cy="223.2" rx="2.5" ry="3.2"/>
<ellipse cx="1434.8" cy="224.1" rx="2.5" ry="3.2"/>
<ellipse cx="1456.6" cy="214.6" rx="2.5" ry="3.2"/>
<ellipse cx="1453.8" cy="219.0" rx="2.5" ry="3.2"/>
<ellipse cx="1458.5" cy="221.3" rx="2.5" ry="3.2"/>
<ellipse cx="1460.4" cy="227.0" rx="2.5" ry="3.2"/>
<ellipse cx="1465.6" cy="227.0" rx="2.5" ry="3.2"/>
<ellipse cx="1453.8" cy="228.9" rx="2.5" ry="3.2"/>
<ellipse cx="1429.5" cy="232.7" rx="2.5" ry="3.2"/>
<ellipse cx="1426.3" cy="237.4" rx="2.5" ry="3.2"/>
<ellipse cx="1440.9" cy="233.1" rx="2.5" ry="3.2"/>
<ellipse cx="1461.4" cy="232.7" rx="2.5" ry="3.2"/>
<ellipse cx="1467.5" cy="238.0" rx="2.5" ry="3.2"/>
<ellipse cx="1427.2" cy="249.8" rx="2.5" ry="3.2"/>
<ellipse cx="1434.8" cy="252.6" rx="2.5" ry="3.2"/>
<ellipse cx="1462.3" cy="248.8" rx="2.5" ry="3.2"/>
<ellipse cx="1469.9" cy="248.8" rx="2.5" ry="3.2"/>
<ellipse cx="1467.1" cy="254.5" rx="2.5" ry="3.2"/>
<ellipse cx="1423.4" cy="257.3" rx="2.5" ry="3.2"/>
<ellipse cx="1426.3" cy="261.1" rx="2.5" ry="3.2"/>
<ellipse cx="1421.5" cy="264.0" rx="2.5" ry="3.2"/>
<ellipse cx="1423.4" cy="268.7" rx="2.5" ry="3.2"/>
<ellipse cx="1441.5" cy="261.1" rx="2.5" ry="3.2"/>
<ellipse cx="1443.4" cy="265.9" rx="2.5" ry="3.2"/>
<ellipse cx="1448.1" cy="258.3" rx="2.5" ry="3.2"/>
<ellipse cx="1451.9" cy="260.2" rx="2.5" ry="3.2"/>
<ellipse cx="1455.7" cy="257.3" rx="2.5" ry="3.2"/>
<ellipse cx="1450.0" cy="268.7" rx="2.5" ry="3.2"/>
<ellipse cx="1454.8" cy="267.8" rx="2.5" ry="3.2"/>
<ellipse cx="1469.0" cy="266.5" rx="2.5" ry="3.2"/>
<ellipse cx="1432.9" cy="276.3" rx="2.5" ry="3.2"/>
<ellipse cx="1437.7" cy="271.6" rx="2.5" ry="3.2"/>
<ellipse cx="1442.4" cy="276.3" rx="2.5" ry="3.2"/>
<ellipse cx="1444.3" cy="272.5" rx="2.5" ry="3.2"/>
<ellipse cx="1455.7" cy="282.0" rx="2.5" ry="3.2"/>
<ellipse cx="1461.4" cy="281.1" rx="2.5" ry="3.2"/>
<ellipse cx="1432.4" cy="287.7" rx="2.5" ry="3.2"/>
<ellipse cx="1445.3" cy="287.7" rx="2.5" ry="3.2"/>
<ellipse cx="1449.1" cy="292.4" rx="2.5" ry="3.2"/>
<ellipse cx="1455.3" cy="295.3" rx="2.5" ry="3.2"/>
<ellipse cx="1423.4" cy="296.2" rx="2.5" ry="3.2"/>
<ellipse cx="1425.0" cy="307.1" rx="2.5" ry="3.2"/>
<ellipse cx="1428.2" cy="306.3" rx="2.5" ry="3.2"/>
<ellipse cx="1438.2" cy="306.3" rx="2.5" ry="3.2"/>
<ellipse cx="1463.3" cy="329.4" rx="2.5" ry="3.2"/>
<ellipse cx="1462.7" cy="334.2" rx="2.5" ry="3.2"/>
</g>
<line x1="1149.6" y1="220.6" x2="1149.6" y2="216.8" stroke="#000" stroke-width="1.8"/>
<line x1="1138.8" y1="216.8" x2="1160.4" y2="216.8" stroke="#000" stroke-width="1.9"/>
<line x1="1248.5" y1="268.6" x2="1248.5" y2="272.7" stroke="#000" stroke-width="1.8"/>
<line x1="1237.7" y1="272.7" x2="1259.3" y2="272.7" stroke="#000" stroke-width="1.9"/>
<line x1="1347.4" y1="193.7" x2="1347.4" y2="188.4" stroke="#000" stroke-width="1.8"/>
<line x1="1336.6" y1="188.4" x2="1358.2" y2="188.4" stroke="#000" stroke-width="1.9"/>
<line x1="1446.3" y1="249.9" x2="1446.3" y2="253.1" stroke="#000" stroke-width="1.8"/>
<line x1="1435.5" y1="253.1" x2="1457.1" y2="253.1" stroke="#000" stroke-width="1.9"/>
<path d="M1149.6,225.2 L1149.6,238.2 M1144.4,228.7 L1154.8,234.7 M1144.4,234.7 L1154.8,228.7" stroke="#fff" stroke-width="2.7" fill="none"/>
<path d="M1248.5,248.9 L1248.5,261.9 M1243.3,252.4 L1253.7,258.4 M1243.3,258.4 L1253.7,252.4" stroke="#fff" stroke-width="2.7" fill="none"/>
<path d="M1347.4,204.0 L1347.4,217.0 M1342.2,207.5 L1352.6,213.5 M1342.2,213.5 L1352.6,207.5" stroke="#fff" stroke-width="2.7" fill="none"/>
<path d="M1446.3,240.4 L1446.3,253.4 M1441.1,243.9 L1451.5,249.9 M1441.1,249.9 L1451.5,243.9" stroke="#fff" stroke-width="2.7" fill="none"/>
<line x1="1100.9" y1="242.4" x2="1496.0" y2="242.4" stroke="#262626" stroke-width="1.9"/>
<path d="M1100.9,52.9 L1100.9,431.8 L1496.0,431.8" fill="none" stroke="#262626" stroke-width="1.9" stroke-linecap="square"/>
<line x1="1100.9" y1="84.5" x2="1105.9" y2="84.5" stroke="#262626" stroke-width="1.9"/>
<text transform="translate(1093.30,93.47) scale(0.86,1)" font-size="34" text-anchor="end" font-weight="normal" fill="#262626">0.5</text>
<line x1="1100.9" y1="242.4" x2="1105.9" y2="242.4" stroke="#262626" stroke-width="1.9"/>
<text transform="translate(1093.30,251.35) scale(0.86,1)" font-size="34" text-anchor="end" font-weight="normal" fill="#262626">0</text>
<line x1="1100.9" y1="400.2" x2="1105.9" y2="400.2" stroke="#262626" stroke-width="1.9"/>
<text transform="translate(1093.30,409.23) scale(0.86,1)" font-size="34" text-anchor="end" font-weight="normal" fill="#262626">-0.5</text>
<line x1="1149.6" y1="431.8" x2="1149.6" y2="426.8" stroke="#262626" stroke-width="1.9"/>
<text transform="translate(1149.60,461.30) scale(0.98,1)" font-size="34" text-anchor="middle" font-weight="normal" fill="#262626">R</text>
<line x1="1248.5" y1="431.8" x2="1248.5" y2="426.8" stroke="#262626" stroke-width="1.9"/>
<text transform="translate(1248.50,461.30) scale(0.98,1)" font-size="34" text-anchor="middle" font-weight="normal" fill="#262626">Qr</text>
<line x1="1347.4" y1="431.8" x2="1347.4" y2="426.8" stroke="#262626" stroke-width="1.9"/>
<text transform="translate(1347.40,461.30) scale(0.98,1)" font-size="34" text-anchor="middle" font-weight="normal" fill="#262626">P</text>
<line x1="1446.3" y1="431.8" x2="1446.3" y2="426.8" stroke="#262626" stroke-width="1.9"/>
<text transform="translate(1446.30,461.30) scale(0.98,1)" font-size="34" text-anchor="middle" font-weight="normal" fill="#262626">Qp</text>
<text transform="translate(1035.50,243.35) rotate(-90) scale(0.94,1)" font-size="34" text-anchor="middle" fill="#262626">Regression estimate</text>
<rect x="1110.0" y="659.0" width="79.2" height="9.8" fill="#35A0C5" stroke="#000" stroke-width="1.8"/>
<rect x="1208.9" y="668.8" width="79.2" height="12.0" fill="#35A0C5" stroke="#000" stroke-width="1.8"/>
<rect x="1307.8" y="627.1" width="79.2" height="41.7" fill="#FF7645" stroke="#000" stroke-width="1.8"/>
<rect x="1406.7" y="668.8" width="79.2" height="15.8" fill="#FF7645" stroke="#000" stroke-width="1.8"/>
<g fill="#B3B3B3">
<ellipse cx="1150.5" cy="504.2" rx="2.5" ry="3.2"/>
<ellipse cx="1151.5" cy="586.8" rx="2.5" ry="3.2"/>
<ellipse cx="1165.7" cy="589.6" rx="2.5" ry="3.2"/>
<ellipse cx="1165.3" cy="593.4" rx="2.5" ry="3.2"/>
<ellipse cx="1164.8" cy="601.0" rx="2.5" ry="3.2"/>
<ellipse cx="1172.0" cy="599.7" rx="2.5" ry="3.2"/>
<ellipse cx="1134.4" cy="612.4" rx="2.5" ry="3.2"/>
<ellipse cx="1133.5" cy="615.2" rx="2.5" ry="3.2"/>
<ellipse cx="1155.3" cy="610.5" rx="2.5" ry="3.2"/>
<ellipse cx="1158.7" cy="613.3" rx="2.5" ry="3.2"/>
<ellipse cx="1133.5" cy="626.2" rx="2.5" ry="3.2"/>
<ellipse cx="1152.1" cy="623.8" rx="2.5" ry="3.2"/>
<ellipse cx="1167.2" cy="625.7" rx="2.5" ry="3.2"/>
<ellipse cx="1140.1" cy="633.3" rx="2.5" ry="3.2"/>
<ellipse cx="1137.3" cy="639.0" rx="2.5" ry="3.2"/>
<ellipse cx="1150.0" cy="632.7" rx="2.5" ry="3.2"/>
<ellipse cx="1159.5" cy="634.6" rx="2.5" ry="3.2"/>
<ellipse cx="1166.7" cy="637.6" rx="2.5" ry="3.2"/>
<ellipse cx="1172.7" cy="640.3" rx="2.5" ry="3.2"/>
<ellipse cx="1149.2" cy="642.8" rx="2.5" ry="3.2"/>
<ellipse cx="1145.8" cy="649.4" rx="2.5" ry="3.2"/>
<ellipse cx="1126.8" cy="650.9" rx="2.5" ry="3.2"/>
<ellipse cx="1125.9" cy="657.0" rx="2.5" ry="3.2"/>
<ellipse cx="1139.2" cy="654.1" rx="2.5" ry="3.2"/>
<ellipse cx="1160.0" cy="653.6" rx="2.5" ry="3.2"/>
<ellipse cx="1170.5" cy="657.0" rx="2.5" ry="3.2"/>
<ellipse cx="1173.3" cy="653.2" rx="2.5" ry="3.2"/>
<ellipse cx="1127.8" cy="665.5" rx="2.5" ry="3.2"/>
<ellipse cx="1132.5" cy="665.0" rx="2.5" ry="3.2"/>
<ellipse cx="1142.0" cy="664.2" rx="2.5" ry="3.2"/>
<ellipse cx="1150.5" cy="663.6" rx="2.5" ry="3.2"/>
<ellipse cx="1167.6" cy="661.7" rx="2.5" ry="3.2"/>
<ellipse cx="1131.6" cy="671.2" rx="2.5" ry="3.2"/>
<ellipse cx="1138.2" cy="671.2" rx="2.5" ry="3.2"/>
<ellipse cx="1143.9" cy="675.0" rx="2.5" ry="3.2"/>
<ellipse cx="1154.3" cy="670.3" rx="2.5" ry="3.2"/>
<ellipse cx="1127.4" cy="678.8" rx="2.5" ry="3.2"/>
<ellipse cx="1143.9" cy="677.9" rx="2.5" ry="3.2"/>
<ellipse cx="1143.0" cy="681.7" rx="2.5" ry="3.2"/>
<ellipse cx="1145.8" cy="680.7" rx="2.5" ry="3.2"/>
<ellipse cx="1160.0" cy="676.9" rx="2.5" ry="3.2"/>
<ellipse cx="1161.9" cy="679.8" rx="2.5" ry="3.2"/>
<ellipse cx="1169.5" cy="678.8" rx="2.5" ry="3.2"/>
<ellipse cx="1170.5" cy="679.8" rx="2.5" ry="3.2"/>
<ellipse cx="1152.4" cy="686.4" rx="2.5" ry="3.2"/>
<ellipse cx="1148.3" cy="692.1" rx="2.5" ry="3.2"/>
<ellipse cx="1156.2" cy="690.8" rx="2.5" ry="3.2"/>
<ellipse cx="1158.1" cy="693.0" rx="2.5" ry="3.2"/>
<ellipse cx="1163.8" cy="689.2" rx="2.5" ry="3.2"/>
<ellipse cx="1170.5" cy="692.1" rx="2.5" ry="3.2"/>
<ellipse cx="1173.7" cy="691.1" rx="2.5" ry="3.2"/>
<ellipse cx="1136.3" cy="698.7" rx="2.5" ry="3.2"/>
<ellipse cx="1140.7" cy="701.0" rx="2.5" ry="3.2"/>
<ellipse cx="1163.4" cy="698.7" rx="2.5" ry="3.2"/>
<ellipse cx="1128.1" cy="709.2" rx="2.5" ry="3.2"/>
<ellipse cx="1148.6" cy="710.5" rx="2.5" ry="3.2"/>
<ellipse cx="1153.4" cy="713.9" rx="2.5" ry="3.2"/>
<ellipse cx="1161.4" cy="721.9" rx="2.5" ry="3.2"/>
<ellipse cx="1155.9" cy="734.2" rx="2.5" ry="3.2"/>
<ellipse cx="1224.5" cy="636.1" rx="2.5" ry="3.2"/>
<ellipse cx="1256.8" cy="634.2" rx="2.5" ry="3.2"/>
<ellipse cx="1236.9" cy="650.3" rx="2.5" ry="3.2"/>
<ellipse cx="1239.7" cy="654.1" rx="2.5" ry="3.2"/>
<ellipse cx="1244.5" cy="652.2" rx="2.5" ry="3.2"/>
<ellipse cx="1249.2" cy="648.4" rx="2.5" ry="3.2"/>
<ellipse cx="1254.9" cy="652.2" rx="2.5" ry="3.2"/>
<ellipse cx="1256.8" cy="657.9" rx="2.5" ry="3.2"/>
<ellipse cx="1249.2" cy="657.0" rx="2.5" ry="3.2"/>
<ellipse cx="1261.5" cy="657.9" rx="2.5" ry="3.2"/>
<ellipse cx="1265.3" cy="660.8" rx="2.5" ry="3.2"/>
<ellipse cx="1272.0" cy="663.6" rx="2.5" ry="3.2"/>
<ellipse cx="1230.2" cy="658.9" rx="2.5" ry="3.2"/>
<ellipse cx="1227.4" cy="662.7" rx="2.5" ry="3.2"/>
<ellipse cx="1235.9" cy="662.7" rx="2.5" ry="3.2"/>
<ellipse cx="1262.5" cy="667.4" rx="2.5" ry="3.2"/>
<ellipse cx="1235.0" cy="673.1" rx="2.5" ry="3.2"/>
<ellipse cx="1240.7" cy="675.0" rx="2.5" ry="3.2"/>
<ellipse cx="1226.4" cy="677.9" rx="2.5" ry="3.2"/>
<ellipse cx="1230.2" cy="678.8" rx="2.5" ry="3.2"/>
<ellipse cx="1262.5" cy="673.1" rx="2.5" ry="3.2"/>
<ellipse cx="1268.2" cy="675.0" rx="2.5" ry="3.2"/>
<ellipse cx="1266.3" cy="677.9" rx="2.5" ry="3.2"/>
<ellipse cx="1272.0" cy="680.7" rx="2.5" ry="3.2"/>
<ellipse cx="1226.4" cy="686.4" rx="2.5" ry="3.2"/>
<ellipse cx="1230.2" cy="689.2" rx="2.5" ry="3.2"/>
<ellipse cx="1237.8" cy="688.3" rx="2.5" ry="3.2"/>
<ellipse cx="1240.7" cy="693.0" rx="2.5" ry="3.2"/>
<ellipse cx="1247.3" cy="686.4" rx="2.5" ry="3.2"/>
<ellipse cx="1252.1" cy="693.0" rx="2.5" ry="3.2"/>
<ellipse cx="1256.8" cy="694.9" rx="2.5" ry="3.2"/>
<ellipse cx="1267.2" cy="693.0" rx="2.5" ry="3.2"/>
<ellipse cx="1270.1" cy="694.9" rx="2.5" ry="3.2"/>
<ellipse cx="1243.5" cy="699.7" rx="2.5" ry="3.2"/>
<ellipse cx="1247.3" cy="702.5" rx="2.5" ry="3.2"/>
<ellipse cx="1251.1" cy="705.4" rx="2.5" ry="3.2"/>
<ellipse cx="1253.0" cy="700.6" rx="2.5" ry="3.2"/>
<ellipse cx="1259.6" cy="700.6" rx="2.5" ry="3.2"/>
<ellipse cx="1264.4" cy="699.7" rx="2.5" ry="3.2"/>
<ellipse cx="1270.1" cy="699.7" rx="2.5" ry="3.2"/>
<ellipse cx="1228.3" cy="707.3" rx="2.5" ry="3.2"/>
<ellipse cx="1233.7" cy="704.0" rx="2.5" ry="3.2"/>
<ellipse cx="1250.2" cy="707.3" rx="2.5" ry="3.2"/>
<ellipse cx="1258.7" cy="714.9" rx="2.5" ry="3.2"/>
<ellipse cx="1260.2" cy="716.8" rx="2.5" ry="3.2"/>
<ellipse cx="1271.0" cy="719.6" rx="2.5" ry="3.2"/>
<ellipse cx="1252.2" cy="725.3" rx="2.5" ry="3.2"/>
<ellipse cx="1329.5" cy="496.1" rx="2.5" ry="3.2"/>
<ellipse cx="1334.3" cy="502.9" rx="2.5" ry="3.2"/>
<ellipse cx="1328.9" cy="531.7" rx="2.5" ry="3.2"/>
<ellipse cx="1333.3" cy="529.5" rx="2.5" ry="3.2"/>
<ellipse cx="1348.1" cy="533.6" rx="2.5" ry="3.2"/>
<ellipse cx="1341.5" cy="559.3" rx="2.5" ry="3.2"/>
<ellipse cx="1332.9" cy="563.6" rx="2.5" ry="3.2"/>
<ellipse cx="1348.9" cy="570.3" rx="2.5" ry="3.2"/>
<ellipse cx="1371.6" cy="567.4" rx="2.5" ry="3.2"/>
<ellipse cx="1325.3" cy="571.6" rx="2.5" ry="3.2"/>
<ellipse cx="1335.6" cy="574.4" rx="2.5" ry="3.2"/>
<ellipse cx="1324.8" cy="592.1" rx="2.5" ry="3.2"/>
<ellipse cx="1336.7" cy="594.4" rx="2.5" ry="3.2"/>
<ellipse cx="1349.4" cy="589.6" rx="2.5" ry="3.2"/>
<ellipse cx="1357.4" cy="584.9" rx="2.5" ry="3.2"/>
<ellipse cx="1358.4" cy="592.1" rx="2.5" ry="3.2"/>
<ellipse cx="1366.5" cy="587.7" rx="2.5" ry="3.2"/>
<ellipse cx="1371.3" cy="590.2" rx="2.5" ry="3.2"/>
<ellipse cx="1344.1" cy="597.2" rx="2.5" ry="3.2"/>
<ellipse cx="1336.2" cy="600.4" rx="2.5" ry="3.2"/>
<ellipse cx="1356.5" cy="600.6" rx="2.5" ry="3.2"/>
<ellipse cx="1367.1" cy="602.9" rx="2.5" ry="3.2"/>
<ellipse cx="1332.4" cy="615.8" rx="2.5" ry="3.2"/>
<ellipse cx="1340.9" cy="620.0" rx="2.5" ry="3.2"/>
<ellipse cx="1345.3" cy="616.2" rx="2.5" ry="3.2"/>
<ellipse cx="1357.0" cy="613.3" rx="2.5" ry="3.2"/>
<ellipse cx="1353.2" cy="621.9" rx="2.5" ry="3.2"/>
<ellipse cx="1330.5" cy="628.5" rx="2.5" ry="3.2"/>
<ellipse cx="1323.8" cy="632.3" rx="2.5" ry="3.2"/>
<ellipse cx="1339.0" cy="634.2" rx="2.5" ry="3.2"/>
<ellipse cx="1338.1" cy="639.9" rx="2.5" ry="3.2"/>
<ellipse cx="1355.7" cy="629.5" rx="2.5" ry="3.2"/>
<ellipse cx="1361.2" cy="631.4" rx="2.5" ry="3.2"/>
<ellipse cx="1368.4" cy="628.1" rx="2.5" ry="3.2"/>
<ellipse cx="1326.3" cy="642.8" rx="2.5" ry="3.2"/>
<ellipse cx="1343.4" cy="647.5" rx="2.5" ry="3.2"/>
<ellipse cx="1331.4" cy="650.3" rx="2.5" ry="3.2"/>
<ellipse cx="1352.3" cy="652.2" rx="2.5" ry="3.2"/>
<ellipse cx="1361.8" cy="642.8" rx="2.5" ry="3.2"/>
<ellipse cx="1365.6" cy="640.9" rx="2.5" ry="3.2"/>
<ellipse cx="1369.4" cy="639.9" rx="2.5" ry="3.2"/>
<ellipse cx="1322.9" cy="660.4" rx="2.5" ry="3.2"/>
<ellipse cx="1337.1" cy="656.0" rx="2.5" ry="3.2"/>
<ellipse cx="1340.9" cy="655.1" rx="2.5" ry="3.2"/>
<ellipse cx="1362.7" cy="658.9" rx="2.5" ry="3.2"/>
<ellipse cx="1367.5" cy="655.1" rx="2.5" ry="3.2"/>
<ellipse cx="1369.9" cy="657.0" rx="2.5" ry="3.2"/>
<ellipse cx="1326.7" cy="667.4" rx="2.5" ry="3.2"/>
<ellipse cx="1342.8" cy="669.3" rx="2.5" ry="3.2"/>
<ellipse cx="1347.0" cy="665.5" rx="2.5" ry="3.2"/>
<ellipse cx="1327.6" cy="677.9" rx="2.5" ry="3.2"/>
<ellipse cx="1330.5" cy="675.0" rx="2.5" ry="3.2"/>
<ellipse cx="1338.1" cy="681.7" rx="2.5" ry="3.2"/>
<ellipse cx="1341.8" cy="685.4" rx="2.5" ry="3.2"/>
<ellipse cx="1351.0" cy="684.5" rx="2.5" ry="3.2"/>
<ellipse cx="1352.3" cy="679.8" rx="2.5" ry="3.2"/>
<ellipse cx="1354.2" cy="676.0" rx="2.5" ry="3.2"/>
<ellipse cx="1362.7" cy="676.0" rx="2.5" ry="3.2"/>
<ellipse cx="1358.9" cy="686.4" rx="2.5" ry="3.2"/>
<ellipse cx="1360.8" cy="694.0" rx="2.5" ry="3.2"/>
<ellipse cx="1363.7" cy="691.1" rx="2.5" ry="3.2"/>
<ellipse cx="1359.5" cy="700.2" rx="2.5" ry="3.2"/>
<ellipse cx="1328.2" cy="724.9" rx="2.5" ry="3.2"/>
<ellipse cx="1428.2" cy="622.8" rx="2.5" ry="3.2"/>
<ellipse cx="1429.1" cy="628.5" rx="2.5" ry="3.2"/>
<ellipse cx="1428.8" cy="634.2" rx="2.5" ry="3.2"/>
<ellipse cx="1462.3" cy="635.2" rx="2.5" ry="3.2"/>
<ellipse cx="1461.4" cy="639.0" rx="2.5" ry="3.2"/>
<ellipse cx="1442.4" cy="646.0" rx="2.5" ry="3.2"/>
<ellipse cx="1448.1" cy="647.9" rx="2.5" ry="3.2"/>
<ellipse cx="1427.2" cy="651.3" rx="2.5" ry="3.2"/>
<ellipse cx="1431.0" cy="653.2" rx="2.5" ry="3.2"/>
<ellipse cx="1441.1" cy="652.2" rx="2.5" ry="3.2"/>
<ellipse cx="1451.9" cy="655.1" rx="2.5" ry="3.2"/>
<ellipse cx="1455.7" cy="655.1" rx="2.5" ry="3.2"/>
<ellipse cx="1427.2" cy="664.2" rx="2.5" ry="3.2"/>
<ellipse cx="1432.9" cy="661.7" rx="2.5" ry="3.2"/>
<ellipse cx="1435.8" cy="660.8" rx="2.5" ry="3.2"/>
<ellipse cx="1441.5" cy="661.3" rx="2.5" ry="3.2"/>
<ellipse cx="1448.1" cy="659.4" rx="2.5" ry="3.2"/>
<ellipse cx="1459.5" cy="667.4" rx="2.5" ry="3.2"/>
<ellipse cx="1453.8" cy="673.1" rx="2.5" ry="3.2"/>
<ellipse cx="1437.7" cy="677.9" rx="2.5" ry="3.2"/>
<ellipse cx="1434.8" cy="680.7" rx="2.5" ry="3.2"/>
<ellipse cx="1455.7" cy="678.8" rx="2.5" ry="3.2"/>
<ellipse cx="1460.4" cy="678.8" rx="2.5" ry="3.2"/>
<ellipse cx="1468.0" cy="676.9" rx="2.5" ry="3.2"/>
<ellipse cx="1469.0" cy="680.7" rx="2.5" ry="3.2"/>
<ellipse cx="1466.1" cy="685.4" rx="2.5" ry="3.2"/>
<ellipse cx="1434.8" cy="692.1" rx="2.5" ry="3.2"/>
<ellipse cx="1445.3" cy="693.0" rx="2.5" ry="3.2"/>
<ellipse cx="1450.0" cy="695.9" rx="2.5" ry="3.2"/>
<ellipse cx="1448.1" cy="691.1" rx="2.5" ry="3.2"/>
<ellipse cx="1464.2" cy="693.0" rx="2.5" ry="3.2"/>
<ellipse cx="1432.9" cy="698.7" rx="2.5" ry="3.2"/>
<ellipse cx="1438.6" cy="699.7" rx="2.5" ry="3.2"/>
<ellipse cx="1456.6" cy="697.8" rx="2.5" ry="3.2"/>
<ellipse cx="1459.5" cy="701.6" rx="2.5" ry="3.2"/>
<ellipse cx="1466.1" cy="699.7" rx="2.5" ry="3.2"/>
<ellipse cx="1422.5" cy="708.2" rx="2.5" ry="3.2"/>
<ellipse cx="1424.4" cy="711.1" rx="2.5" ry="3.2"/>
<ellipse cx="1433.9" cy="715.8" rx="2.5" ry="3.2"/>
<ellipse cx="1440.0" cy="720.6" rx="2.5" ry="3.2"/>
<ellipse cx="1421.5" cy="720.6" rx="2.5" ry="3.2"/>
<ellipse cx="1426.3" cy="721.5" rx="2.5" ry="3.2"/>
<ellipse cx="1463.3" cy="714.9" rx="2.5" ry="3.2"/>
<ellipse cx="1467.1" cy="717.7" rx="2.5" ry="3.2"/>
<ellipse cx="1469.9" cy="716.8" rx="2.5" ry="3.2"/>
<ellipse cx="1438.2" cy="731.0" rx="2.5" ry="3.2"/>
<ellipse cx="1440.1" cy="730.0" rx="2.5" ry="3.2"/>
<ellipse cx="1452.5" cy="732.3" rx="2.5" ry="3.2"/>
<ellipse cx="1424.0" cy="734.4" rx="2.5" ry="3.2"/>
<ellipse cx="1432.6" cy="744.6" rx="2.5" ry="3.2"/>
<ellipse cx="1439.2" cy="753.2" rx="2.5" ry="3.2"/>
<ellipse cx="1424.4" cy="758.9" rx="2.5" ry="3.2"/>
</g>
<line x1="1149.6" y1="659.0" x2="1149.6" y2="655.2" stroke="#000" stroke-width="1.8"/>
<line x1="1138.8" y1="655.2" x2="1160.4" y2="655.2" stroke="#000" stroke-width="1.9"/>
<line x1="1248.5" y1="680.8" x2="1248.5" y2="682.7" stroke="#000" stroke-width="1.8"/>
<line x1="1237.7" y1="682.7" x2="1259.3" y2="682.7" stroke="#000" stroke-width="1.9"/>
<line x1="1347.4" y1="627.1" x2="1347.4" y2="621.1" stroke="#000" stroke-width="1.8"/>
<line x1="1336.6" y1="621.1" x2="1358.2" y2="621.1" stroke="#000" stroke-width="1.9"/>
<line x1="1446.3" y1="684.6" x2="1446.3" y2="687.4" stroke="#000" stroke-width="1.8"/>
<line x1="1435.5" y1="687.4" x2="1457.1" y2="687.4" stroke="#000" stroke-width="1.9"/>
<path d="M1149.6,658.1 L1149.6,671.1 M1144.4,661.6 L1154.8,667.6 M1144.4,667.6 L1154.8,661.6" stroke="#fff" stroke-width="2.7" fill="none"/>
<path d="M1248.5,668.5 L1248.5,681.5 M1243.3,672.0 L1253.7,678.0 M1243.3,678.0 L1253.7,672.0" stroke="#fff" stroke-width="2.7" fill="none"/>
<path d="M1347.4,634.4 L1347.4,647.4 M1342.2,637.9 L1352.6,643.9 M1342.2,643.9 L1352.6,637.9" stroke="#fff" stroke-width="2.7" fill="none"/>
<path d="M1446.3,670.4 L1446.3,683.4 M1441.1,673.9 L1451.5,679.9 M1441.1,679.9 L1451.5,673.9" stroke="#fff" stroke-width="2.7" fill="none"/>
<line x1="1100.9" y1="668.8" x2="1496.0" y2="668.8" stroke="#262626" stroke-width="1.9"/>
<path d="M1100.9,479.4 L1100.9,858.2 L1496.0,858.2" fill="none" stroke="#262626" stroke-width="1.9" stroke-linecap="square"/>
<line x1="1100.9" y1="511.0" x2="1105.9" y2="511.0" stroke="#262626" stroke-width="1.9"/>
<text transform="translate(1093.30,519.97) scale(0.86,1)" font-size="34" text-anchor="end" font-weight="normal" fill="#262626">0.5</text>
<line x1="1100.9" y1="668.8" x2="1105.9" y2="668.8" stroke="#262626" stroke-width="1.9"/>
<text transform="translate(1093.30,677.80) scale(0.86,1)" font-size="34" text-anchor="end" font-weight="normal" fill="#262626">0</text>
<line x1="1100.9" y1="826.6" x2="1105.9" y2="826.6" stroke="#262626" stroke-width="1.9"/>
<text transform="translate(1093.30,835.63) scale(0.86,1)" font-size="34" text-anchor="end" font-weight="normal" fill="#262626">-0.5</text>
<line x1="1149.6" y1="858.2" x2="1149.6" y2="853.2" stroke="#262626" stroke-width="1.9"/>
<text transform="translate(1149.60,887.70) scale(0.98,1)" font-size="34" text-anchor="middle" font-weight="normal" fill="#262626">R</text>
<line x1="1248.5" y1="858.2" x2="1248.5" y2="853.2" stroke="#262626" stroke-width="1.9"/>
<text transform="translate(1248.50,887.70) scale(0.98,1)" font-size="34" text-anchor="middle" font-weight="normal" fill="#262626">Qr</text>
<line x1="1347.4" y1="858.2" x2="1347.4" y2="853.2" stroke="#262626" stroke-width="1.9"/>
<text transform="translate(1347.40,887.70) scale(0.98,1)" font-size="34" text-anchor="middle" font-weight="normal" fill="#262626">P</text>
<line x1="1446.3" y1="858.2" x2="1446.3" y2="853.2" stroke="#262626" stroke-width="1.9"/>
<text transform="translate(1446.30,887.70) scale(0.98,1)" font-size="34" text-anchor="middle" font-weight="normal" fill="#262626">Qp</text>
<text transform="translate(1035.50,669.80) rotate(-90) scale(0.94,1)" font-size="34" text-anchor="middle" fill="#262626">Regression estimate</text>
<rect x="1110.0" y="1078.3" width="79.2" height="23.3" fill="#35A0C5" stroke="#000" stroke-width="1.8"/>
<rect x="1208.9" y="1101.6" width="79.2" height="13.6" fill="#35A0C5" stroke="#000" stroke-width="1.8"/>
<rect x="1307.8" y="1094.3" width="79.2" height="7.3" fill="#FF7645" stroke="#000" stroke-width="1.8"/>
<rect x="1406.7" y="1100.0" width="79.2" height="1.6" fill="#FF7645" stroke="#000" stroke-width="1.8"/>
<g fill="#B3B3B3">
<ellipse cx="1173.7" cy="991.1" rx="2.5" ry="3.2"/>
<ellipse cx="1172.9" cy="1000.6" rx="2.5" ry="3.2"/>
<ellipse cx="1131.6" cy="1015.0" rx="2.5" ry="3.2"/>
<ellipse cx="1133.8" cy="1014.4" rx="2.5" ry="3.2"/>
<ellipse cx="1161.0" cy="1026.4" rx="2.5" ry="3.2"/>
<ellipse cx="1161.9" cy="1024.5" rx="2.5" ry="3.2"/>
<ellipse cx="1126.3" cy="1037.2" rx="2.5" ry="3.2"/>
<ellipse cx="1131.0" cy="1042.9" rx="2.5" ry="3.2"/>
<ellipse cx="1162.9" cy="1038.2" rx="2.5" ry="3.2"/>
<ellipse cx="1166.7" cy="1038.5" rx="2.5" ry="3.2"/>
<ellipse cx="1165.3" cy="1045.4" rx="2.5" ry="3.2"/>
<ellipse cx="1136.3" cy="1050.5" rx="2.5" ry="3.2"/>
<ellipse cx="1127.2" cy="1056.2" rx="2.5" ry="3.2"/>
<ellipse cx="1135.4" cy="1058.1" rx="2.5" ry="3.2"/>
<ellipse cx="1169.5" cy="1055.2" rx="2.5" ry="3.2"/>
<ellipse cx="1172.4" cy="1055.2" rx="2.5" ry="3.2"/>
<ellipse cx="1164.8" cy="1065.7" rx="2.5" ry="3.2"/>
<ellipse cx="1168.0" cy="1063.8" rx="2.5" ry="3.2"/>
<ellipse cx="1137.3" cy="1070.8" rx="2.5" ry="3.2"/>
<ellipse cx="1134.4" cy="1076.1" rx="2.5" ry="3.2"/>
<ellipse cx="1156.2" cy="1070.8" rx="2.5" ry="3.2"/>
<ellipse cx="1145.8" cy="1080.9" rx="2.5" ry="3.2"/>
<ellipse cx="1150.5" cy="1081.8" rx="2.5" ry="3.2"/>
<ellipse cx="1124.9" cy="1092.2" rx="2.5" ry="3.2"/>
<ellipse cx="1132.5" cy="1087.5" rx="2.5" ry="3.2"/>
<ellipse cx="1138.2" cy="1089.4" rx="2.5" ry="3.2"/>
<ellipse cx="1143.0" cy="1092.2" rx="2.5" ry="3.2"/>
<ellipse cx="1156.2" cy="1086.5" rx="2.5" ry="3.2"/>
<ellipse cx="1167.6" cy="1088.4" rx="2.5" ry="3.2"/>
<ellipse cx="1171.0" cy="1091.7" rx="2.5" ry="3.2"/>
<ellipse cx="1128.7" cy="1099.8" rx="2.5" ry="3.2"/>
<ellipse cx="1140.1" cy="1098.9" rx="2.5" ry="3.2"/>
<ellipse cx="1144.8" cy="1096.0" rx="2.5" ry="3.2"/>
<ellipse cx="1154.3" cy="1099.8" rx="2.5" ry="3.2"/>
<ellipse cx="1160.0" cy="1097.9" rx="2.5" ry="3.2"/>
<ellipse cx="1170.5" cy="1101.7" rx="2.5" ry="3.2"/>
<ellipse cx="1139.2" cy="1104.2" rx="2.5" ry="3.2"/>
<ellipse cx="1148.6" cy="1104.2" rx="2.5" ry="3.2"/>
<ellipse cx="1151.5" cy="1109.3" rx="2.5" ry="3.2"/>
<ellipse cx="1142.0" cy="1112.2" rx="2.5" ry="3.2"/>
<ellipse cx="1159.1" cy="1116.3" rx="2.5" ry="3.2"/>
<ellipse cx="1158.5" cy="1125.8" rx="2.5" ry="3.2"/>
<ellipse cx="1129.7" cy="1134.9" rx="2.5" ry="3.2"/>
<ellipse cx="1129.1" cy="1141.6" rx="2.5" ry="3.2"/>
<ellipse cx="1140.7" cy="1172.9" rx="2.5" ry="3.2"/>
<ellipse cx="1241.2" cy="1062.8" rx="2.5" ry="3.2"/>
<ellipse cx="1240.7" cy="1068.1" rx="2.5" ry="3.2"/>
<ellipse cx="1252.6" cy="1074.2" rx="2.5" ry="3.2"/>
<ellipse cx="1272.6" cy="1075.7" rx="2.5" ry="3.2"/>
<ellipse cx="1231.8" cy="1087.9" rx="2.5" ry="3.2"/>
<ellipse cx="1238.8" cy="1092.2" rx="2.5" ry="3.2"/>
<ellipse cx="1248.3" cy="1093.6" rx="2.5" ry="3.2"/>
<ellipse cx="1253.0" cy="1094.7" rx="2.5" ry="3.2"/>
<ellipse cx="1254.9" cy="1099.8" rx="2.5" ry="3.2"/>
<ellipse cx="1270.5" cy="1085.6" rx="2.5" ry="3.2"/>
<ellipse cx="1271.6" cy="1089.8" rx="2.5" ry="3.2"/>
<ellipse cx="1269.7" cy="1099.3" rx="2.5" ry="3.2"/>
<ellipse cx="1226.4" cy="1106.5" rx="2.5" ry="3.2"/>
<ellipse cx="1235.0" cy="1109.3" rx="2.5" ry="3.2"/>
<ellipse cx="1245.4" cy="1101.7" rx="2.5" ry="3.2"/>
<ellipse cx="1254.9" cy="1111.2" rx="2.5" ry="3.2"/>
<ellipse cx="1266.3" cy="1106.5" rx="2.5" ry="3.2"/>
<ellipse cx="1268.2" cy="1111.2" rx="2.5" ry="3.2"/>
<ellipse cx="1226.4" cy="1113.1" rx="2.5" ry="3.2"/>
<ellipse cx="1230.2" cy="1117.9" rx="2.5" ry="3.2"/>
<ellipse cx="1235.9" cy="1122.6" rx="2.5" ry="3.2"/>
<ellipse cx="1259.6" cy="1121.7" rx="2.5" ry="3.2"/>
<ellipse cx="1262.5" cy="1117.9" rx="2.5" ry="3.2"/>
<ellipse cx="1224.9" cy="1126.4" rx="2.5" ry="3.2"/>
<ellipse cx="1228.3" cy="1133.0" rx="2.5" ry="3.2"/>
<ellipse cx="1233.7" cy="1134.0" rx="2.5" ry="3.2"/>
<ellipse cx="1239.7" cy="1132.1" rx="2.5" ry="3.2"/>
<ellipse cx="1245.4" cy="1126.4" rx="2.5" ry="3.2"/>
<ellipse cx="1251.7" cy="1126.4" rx="2.5" ry="3.2"/>
<ellipse cx="1256.8" cy="1130.2" rx="2.5" ry="3.2"/>
<ellipse cx="1265.3" cy="1126.8" rx="2.5" ry="3.2"/>
<ellipse cx="1224.2" cy="1139.7" rx="2.5" ry="3.2"/>
<ellipse cx="1237.8" cy="1139.7" rx="2.5" ry="3.2"/>
<ellipse cx="1229.7" cy="1146.3" rx="2.5" ry="3.2"/>
<ellipse cx="1262.5" cy="1141.0" rx="2.5" ry="3.2"/>
<ellipse cx="1263.4" cy="1151.1" rx="2.5" ry="3.2"/>
<ellipse cx="1260.6" cy="1169.1" rx="2.5" ry="3.2"/>
<ellipse cx="1260.0" cy="1197.0" rx="2.5" ry="3.2"/>
<ellipse cx="1371.4" cy="991.1" rx="2.5" ry="3.2"/>
<ellipse cx="1370.7" cy="1003.6" rx="2.5" ry="3.2"/>
<ellipse cx="1323.8" cy="1005.0" rx="2.5" ry="3.2"/>
<ellipse cx="1324.8" cy="1014.4" rx="2.5" ry="3.2"/>
<ellipse cx="1331.0" cy="1052.4" rx="2.5" ry="3.2"/>
<ellipse cx="1333.9" cy="1065.1" rx="2.5" ry="3.2"/>
<ellipse cx="1328.6" cy="1069.8" rx="2.5" ry="3.2"/>
<ellipse cx="1329.5" cy="1079.0" rx="2.5" ry="3.2"/>
<ellipse cx="1332.0" cy="1077.6" rx="2.5" ry="3.2"/>
<ellipse cx="1354.2" cy="1070.4" rx="2.5" ry="3.2"/>
<ellipse cx="1366.9" cy="1069.5" rx="2.5" ry="3.2"/>
<ellipse cx="1349.4" cy="1080.3" rx="2.5" ry="3.2"/>
<ellipse cx="1358.0" cy="1080.9" rx="2.5" ry="3.2"/>
<ellipse cx="1358.9" cy="1082.8" rx="2.5" ry="3.2"/>
<ellipse cx="1364.2" cy="1079.9" rx="2.5" ry="3.2"/>
<ellipse cx="1369.4" cy="1087.1" rx="2.5" ry="3.2"/>
<ellipse cx="1341.8" cy="1085.6" rx="2.5" ry="3.2"/>
<ellipse cx="1344.7" cy="1084.1" rx="2.5" ry="3.2"/>
<ellipse cx="1330.5" cy="1095.1" rx="2.5" ry="3.2"/>
<ellipse cx="1340.0" cy="1095.1" rx="2.5" ry="3.2"/>
<ellipse cx="1350.4" cy="1097.0" rx="2.5" ry="3.2"/>
<ellipse cx="1361.8" cy="1097.0" rx="2.5" ry="3.2"/>
<ellipse cx="1322.9" cy="1103.6" rx="2.5" ry="3.2"/>
<ellipse cx="1333.3" cy="1103.6" rx="2.5" ry="3.2"/>
<ellipse cx="1336.2" cy="1101.7" rx="2.5" ry="3.2"/>
<ellipse cx="1340.9" cy="1101.7" rx="2.5" ry="3.2"/>
<ellipse cx="1343.7" cy="1108.4" rx="2.5" ry="3.2"/>
<ellipse cx="1346.6" cy="1111.2" rx="2.5" ry="3.2"/>
<ellipse cx="1349.4" cy="1108.4" rx="2.5" ry="3.2"/>
<ellipse cx="1352.3" cy="1109.3" rx="2.5" ry="3.2"/>
<ellipse cx="1357.0" cy="1105.5" rx="2.5" ry="3.2"/>
<ellipse cx="1362.7" cy="1103.6" rx="2.5" ry="3.2"/>
<ellipse cx="1367.5" cy="1101.7" rx="2.5" ry="3.2"/>
<ellipse cx="1359.9" cy="1111.2" rx="2.5" ry="3.2"/>
<ellipse cx="1362.7" cy="1110.3" rx="2.5" ry="3.2"/>
<ellipse cx="1326.7" cy="1116.0" rx="2.5" ry="3.2"/>
<ellipse cx="1325.7" cy="1119.8" rx="2.5" ry="3.2"/>
<ellipse cx="1352.3" cy="1116.0" rx="2.5" ry="3.2"/>
<ellipse cx="1356.1" cy="1116.9" rx="2.5" ry="3.2"/>
<ellipse cx="1338.6" cy="1121.7" rx="2.5" ry="3.2"/>
<ellipse cx="1347.5" cy="1129.6" rx="2.5" ry="3.2"/>
<ellipse cx="1353.2" cy="1131.5" rx="2.5" ry="3.2"/>
<ellipse cx="1360.8" cy="1132.5" rx="2.5" ry="3.2"/>
<ellipse cx="1366.5" cy="1130.2" rx="2.5" ry="3.2"/>
<ellipse cx="1368.4" cy="1129.2" rx="2.5" ry="3.2"/>
<ellipse cx="1336.5" cy="1134.6" rx="2.5" ry="3.2"/>
<ellipse cx="1334.6" cy="1139.7" rx="2.5" ry="3.2"/>
<ellipse cx="1327.2" cy="1144.0" rx="2.5" ry="3.2"/>
<ellipse cx="1337.5" cy="1159.6" rx="2.5" ry="3.2"/>
<ellipse cx="1434.3" cy="1038.5" rx="2.5" ry="3.2"/>
<ellipse cx="1427.2" cy="1050.7" rx="2.5" ry="3.2"/>
<ellipse cx="1428.2" cy="1065.1" rx="2.5" ry="3.2"/>
<ellipse cx="1469.4" cy="1054.3" rx="2.5" ry="3.2"/>
<ellipse cx="1438.2" cy="1070.8" rx="2.5" ry="3.2"/>
<ellipse cx="1448.1" cy="1067.6" rx="2.5" ry="3.2"/>
<ellipse cx="1439.6" cy="1078.0" rx="2.5" ry="3.2"/>
<ellipse cx="1442.8" cy="1077.6" rx="2.5" ry="3.2"/>
<ellipse cx="1449.6" cy="1080.9" rx="2.5" ry="3.2"/>
<ellipse cx="1450.0" cy="1083.3" rx="2.5" ry="3.2"/>
<ellipse cx="1430.1" cy="1083.7" rx="2.5" ry="3.2"/>
<ellipse cx="1432.0" cy="1089.0" rx="2.5" ry="3.2"/>
<ellipse cx="1436.3" cy="1082.8" rx="2.5" ry="3.2"/>
<ellipse cx="1453.8" cy="1087.1" rx="2.5" ry="3.2"/>
<ellipse cx="1461.4" cy="1084.6" rx="2.5" ry="3.2"/>
<ellipse cx="1462.9" cy="1081.8" rx="2.5" ry="3.2"/>
<ellipse cx="1465.6" cy="1089.8" rx="2.5" ry="3.2"/>
<ellipse cx="1459.1" cy="1097.0" rx="2.5" ry="3.2"/>
<ellipse cx="1466.1" cy="1097.9" rx="2.5" ry="3.2"/>
<ellipse cx="1452.9" cy="1096.0" rx="2.5" ry="3.2"/>
<ellipse cx="1421.5" cy="1102.7" rx="2.5" ry="3.2"/>
<ellipse cx="1425.3" cy="1105.5" rx="2.5" ry="3.2"/>
<ellipse cx="1435.8" cy="1100.8" rx="2.5" ry="3.2"/>
<ellipse cx="1442.4" cy="1102.7" rx="2.5" ry="3.2"/>
<ellipse cx="1446.2" cy="1099.8" rx="2.5" ry="3.2"/>
<ellipse cx="1455.7" cy="1103.6" rx="2.5" ry="3.2"/>
<ellipse cx="1451.9" cy="1106.5" rx="2.5" ry="3.2"/>
<ellipse cx="1467.5" cy="1106.1" rx="2.5" ry="3.2"/>
<ellipse cx="1440.5" cy="1107.4" rx="2.5" ry="3.2"/>
<ellipse cx="1445.3" cy="1109.9" rx="2.5" ry="3.2"/>
<ellipse cx="1423.4" cy="1116.0" rx="2.5" ry="3.2"/>
<ellipse cx="1422.5" cy="1125.4" rx="2.5" ry="3.2"/>
<ellipse cx="1436.7" cy="1119.8" rx="2.5" ry="3.2"/>
<ellipse cx="1441.5" cy="1115.0" rx="2.5" ry="3.2"/>
<ellipse cx="1451.0" cy="1113.1" rx="2.5" ry="3.2"/>
<ellipse cx="1460.4" cy="1114.1" rx="2.5" ry="3.2"/>
<ellipse cx="1470.3" cy="1113.1" rx="2.5" ry="3.2"/>
<ellipse cx="1429.1" cy="1122.6" rx="2.5" ry="3.2"/>
<ellipse cx="1432.9" cy="1122.6" rx="2.5" ry="3.2"/>
<ellipse cx="1447.2" cy="1123.5" rx="2.5" ry="3.2"/>
<ellipse cx="1458.5" cy="1121.7" rx="2.5" ry="3.2"/>
<ellipse cx="1446.2" cy="1132.1" rx="2.5" ry="3.2"/>
<ellipse cx="1457.6" cy="1132.1" rx="2.5" ry="3.2"/>
<ellipse cx="1462.0" cy="1134.6" rx="2.5" ry="3.2"/>
<ellipse cx="1463.9" cy="1128.3" rx="2.5" ry="3.2"/>
<ellipse cx="1426.3" cy="1135.9" rx="2.5" ry="3.2"/>
<ellipse cx="1431.0" cy="1141.6" rx="2.5" ry="3.2"/>
<ellipse cx="1468.4" cy="1141.0" rx="2.5" ry="3.2"/>
</g>
<line x1="1149.6" y1="1078.3" x2="1149.6" y2="1073.2" stroke="#000" stroke-width="1.8"/>
<line x1="1138.8" y1="1073.2" x2="1160.4" y2="1073.2" stroke="#000" stroke-width="1.9"/>
<line x1="1248.5" y1="1115.2" x2="1248.5" y2="1118.0" stroke="#000" stroke-width="1.8"/>
<line x1="1237.7" y1="1118.0" x2="1259.3" y2="1118.0" stroke="#000" stroke-width="1.9"/>
<line x1="1347.4" y1="1094.3" x2="1347.4" y2="1090.9" stroke="#000" stroke-width="1.8"/>
<line x1="1336.6" y1="1090.9" x2="1358.2" y2="1090.9" stroke="#000" stroke-width="1.9"/>
<line x1="1446.3" y1="1100.0" x2="1446.3" y2="1096.6" stroke="#000" stroke-width="1.8"/>
<line x1="1435.5" y1="1096.6" x2="1457.1" y2="1096.6" stroke="#000" stroke-width="1.9"/>
<path d="M1149.6,1082.9 L1149.6,1095.9 M1144.4,1086.4 L1154.8,1092.4 M1144.4,1092.4 L1154.8,1086.4" stroke="#fff" stroke-width="2.7" fill="none"/>
<path d="M1248.5,1101.9 L1248.5,1114.9 M1243.3,1105.4 L1253.7,1111.4 M1243.3,1111.4 L1253.7,1105.4" stroke="#fff" stroke-width="2.7" fill="none"/>
<line x1="1100.9" y1="1101.6" x2="1496.0" y2="1101.6" stroke="#262626" stroke-width="1.9"/>
<path d="M1100.9,912.4 L1100.9,1290.8 L1496.0,1290.8" fill="none" stroke="#262626" stroke-width="1.9" stroke-linecap="square"/>
<line x1="1100.9" y1="943.9" x2="1105.9" y2="943.9" stroke="#262626" stroke-width="1.9"/>
<text transform="translate(1093.30,952.93) scale(0.86,1)" font-size="34" text-anchor="end" font-weight="normal" fill="#262626">0.5</text>
<line x1="1100.9" y1="1101.6" x2="1105.9" y2="1101.6" stroke="#262626" stroke-width="1.9"/>
<text transform="translate(1093.30,1110.60) scale(0.86,1)" font-size="34" text-anchor="end" font-weight="normal" fill="#262626">0</text>
<line x1="1100.9" y1="1259.3" x2="1105.9" y2="1259.3" stroke="#262626" stroke-width="1.9"/>
<text transform="translate(1093.30,1268.27) scale(0.86,1)" font-size="34" text-anchor="end" font-weight="normal" fill="#262626">-0.5</text>
<line x1="1149.6" y1="1290.8" x2="1149.6" y2="1285.8" stroke="#262626" stroke-width="1.9"/>
<text transform="translate(1149.60,1320.30) scale(0.98,1)" font-size="34" text-anchor="middle" font-weight="normal" fill="#262626">R</text>
<line x1="1248.5" y1="1290.8" x2="1248.5" y2="1285.8" stroke="#262626" stroke-width="1.9"/>
<text transform="translate(1248.50,1320.30) scale(0.98,1)" font-size="34" text-anchor="middle" font-weight="normal" fill="#262626">Qr</text>
<line x1="1347.4" y1="1290.8" x2="1347.4" y2="1285.8" stroke="#262626" stroke-width="1.9"/>
<text transform="translate(1347.40,1320.30) scale(0.98,1)" font-size="34" text-anchor="middle" font-weight="normal" fill="#262626">P</text>
<line x1="1446.3" y1="1290.8" x2="1446.3" y2="1285.8" stroke="#262626" stroke-width="1.9"/>
<text transform="translate(1446.30,1320.30) scale(0.98,1)" font-size="34" text-anchor="middle" font-weight="normal" fill="#262626">Qp</text>
<text transform="translate(1035.50,1102.60) rotate(-90) scale(0.94,1)" font-size="34" text-anchor="middle" fill="#262626">Regression estimate</text>
<rect x="1110.0" y="1517.3" width="79.2" height="13.6" fill="#35A0C5" stroke="#000" stroke-width="1.8"/>
<rect x="1208.9" y="1530.9" width="79.2" height="12.6" fill="#35A0C5" stroke="#000" stroke-width="1.8"/>
<rect x="1307.8" y="1522.1" width="79.2" height="8.8" fill="#FF7645" stroke="#000" stroke-width="1.8"/>
<rect x="1406.7" y="1530.9" width="79.2" height="2.5" fill="#FF7645" stroke="#000" stroke-width="1.8"/>
<g fill="#B3B3B3">
<ellipse cx="1143.0" cy="1448.2" rx="2.5" ry="3.2"/>
<ellipse cx="1170.5" cy="1454.9" rx="2.5" ry="3.2"/>
<ellipse cx="1133.8" cy="1457.7" rx="2.5" ry="3.2"/>
<ellipse cx="1140.1" cy="1466.3" rx="2.5" ry="3.2"/>
<ellipse cx="1128.1" cy="1470.4" rx="2.5" ry="3.2"/>
<ellipse cx="1143.9" cy="1476.1" rx="2.5" ry="3.2"/>
<ellipse cx="1135.7" cy="1479.5" rx="2.5" ry="3.2"/>
<ellipse cx="1146.4" cy="1484.3" rx="2.5" ry="3.2"/>
<ellipse cx="1128.7" cy="1489.4" rx="2.5" ry="3.2"/>
<ellipse cx="1127.4" cy="1495.1" rx="2.5" ry="3.2"/>
<ellipse cx="1137.6" cy="1492.8" rx="2.5" ry="3.2"/>
<ellipse cx="1142.0" cy="1490.9" rx="2.5" ry="3.2"/>
<ellipse cx="1138.8" cy="1498.5" rx="2.5" ry="3.2"/>
<ellipse cx="1157.8" cy="1495.7" rx="2.5" ry="3.2"/>
<ellipse cx="1165.7" cy="1492.8" rx="2.5" ry="3.2"/>
<ellipse cx="1163.8" cy="1500.4" rx="2.5" ry="3.2"/>
<ellipse cx="1172.4" cy="1493.8" rx="2.5" ry="3.2"/>
<ellipse cx="1174.3" cy="1503.6" rx="2.5" ry="3.2"/>
<ellipse cx="1147.1" cy="1503.8" rx="2.5" ry="3.2"/>
<ellipse cx="1157.2" cy="1502.3" rx="2.5" ry="3.2"/>
<ellipse cx="1137.3" cy="1507.1" rx="2.5" ry="3.2"/>
<ellipse cx="1135.4" cy="1511.8" rx="2.5" ry="3.2"/>
<ellipse cx="1140.1" cy="1506.1" rx="2.5" ry="3.2"/>
<ellipse cx="1153.4" cy="1511.8" rx="2.5" ry="3.2"/>
<ellipse cx="1156.2" cy="1509.9" rx="2.5" ry="3.2"/>
<ellipse cx="1161.9" cy="1510.9" rx="2.5" ry="3.2"/>
<ellipse cx="1118.3" cy="1514.6" rx="2.5" ry="3.2"/>
<ellipse cx="1123.0" cy="1513.7" rx="2.5" ry="3.2"/>
<ellipse cx="1128.7" cy="1514.6" rx="2.5" ry="3.2"/>
<ellipse cx="1134.4" cy="1519.4" rx="2.5" ry="3.2"/>
<ellipse cx="1126.3" cy="1522.8" rx="2.5" ry="3.2"/>
<ellipse cx="1139.2" cy="1524.7" rx="2.5" ry="3.2"/>
<ellipse cx="1150.5" cy="1520.3" rx="2.5" ry="3.2"/>
<ellipse cx="1155.3" cy="1517.5" rx="2.5" ry="3.2"/>
<ellipse cx="1164.8" cy="1524.1" rx="2.5" ry="3.2"/>
<ellipse cx="1171.4" cy="1521.7" rx="2.5" ry="3.2"/>
<ellipse cx="1177.5" cy="1527.0" rx="2.5" ry="3.2"/>
<ellipse cx="1180.5" cy="1520.9" rx="2.5" ry="3.2"/>
<ellipse cx="1130.6" cy="1531.7" rx="2.5" ry="3.2"/>
<ellipse cx="1149.6" cy="1533.6" rx="2.5" ry="3.2"/>
<ellipse cx="1159.1" cy="1533.6" rx="2.5" ry="3.2"/>
<ellipse cx="1132.5" cy="1538.4" rx="2.5" ry="3.2"/>
<ellipse cx="1145.8" cy="1538.4" rx="2.5" ry="3.2"/>
<ellipse cx="1153.4" cy="1539.3" rx="2.5" ry="3.2"/>
<ellipse cx="1167.2" cy="1539.3" rx="2.5" ry="3.2"/>
<ellipse cx="1132.5" cy="1542.2" rx="2.5" ry="3.2"/>
<ellipse cx="1126.8" cy="1546.9" rx="2.5" ry="3.2"/>
<ellipse cx="1124.9" cy="1549.8" rx="2.5" ry="3.2"/>
<ellipse cx="1131.6" cy="1553.5" rx="2.5" ry="3.2"/>
<ellipse cx="1144.8" cy="1555.4" rx="2.5" ry="3.2"/>
<ellipse cx="1155.3" cy="1553.5" rx="2.5" ry="3.2"/>
<ellipse cx="1160.0" cy="1555.4" rx="2.5" ry="3.2"/>
<ellipse cx="1131.2" cy="1562.1" rx="2.5" ry="3.2"/>
<ellipse cx="1169.1" cy="1558.9" rx="2.5" ry="3.2"/>
<ellipse cx="1167.6" cy="1575.4" rx="2.5" ry="3.2"/>
<ellipse cx="1168.6" cy="1582.4" rx="2.5" ry="3.2"/>
<ellipse cx="1144.5" cy="1589.2" rx="2.5" ry="3.2"/>
<ellipse cx="1169.9" cy="1600.6" rx="2.5" ry="3.2"/>
<ellipse cx="1272.4" cy="1481.4" rx="2.5" ry="3.2"/>
<ellipse cx="1271.0" cy="1485.2" rx="2.5" ry="3.2"/>
<ellipse cx="1235.4" cy="1501.4" rx="2.5" ry="3.2"/>
<ellipse cx="1242.6" cy="1500.0" rx="2.5" ry="3.2"/>
<ellipse cx="1251.1" cy="1499.5" rx="2.5" ry="3.2"/>
<ellipse cx="1254.9" cy="1495.7" rx="2.5" ry="3.2"/>
<ellipse cx="1253.0" cy="1505.7" rx="2.5" ry="3.2"/>
<ellipse cx="1271.4" cy="1498.0" rx="2.5" ry="3.2"/>
<ellipse cx="1234.4" cy="1508.0" rx="2.5" ry="3.2"/>
<ellipse cx="1235.0" cy="1513.3" rx="2.5" ry="3.2"/>
<ellipse cx="1268.6" cy="1511.8" rx="2.5" ry="3.2"/>
<ellipse cx="1254.0" cy="1516.5" rx="2.5" ry="3.2"/>
<ellipse cx="1253.0" cy="1521.3" rx="2.5" ry="3.2"/>
<ellipse cx="1256.8" cy="1522.8" rx="2.5" ry="3.2"/>
<ellipse cx="1264.4" cy="1526.0" rx="2.5" ry="3.2"/>
<ellipse cx="1268.2" cy="1526.6" rx="2.5" ry="3.2"/>
<ellipse cx="1235.9" cy="1528.5" rx="2.5" ry="3.2"/>
<ellipse cx="1224.5" cy="1538.4" rx="2.5" ry="3.2"/>
<ellipse cx="1230.2" cy="1537.4" rx="2.5" ry="3.2"/>
<ellipse cx="1234.0" cy="1535.5" rx="2.5" ry="3.2"/>
<ellipse cx="1258.7" cy="1536.5" rx="2.5" ry="3.2"/>
<ellipse cx="1268.2" cy="1539.3" rx="2.5" ry="3.2"/>
<ellipse cx="1270.1" cy="1539.3" rx="2.5" ry="3.2"/>
<ellipse cx="1260.6" cy="1539.3" rx="2.5" ry="3.2"/>
<ellipse cx="1225.5" cy="1546.9" rx="2.5" ry="3.2"/>
<ellipse cx="1236.9" cy="1552.6" rx="2.5" ry="3.2"/>
<ellipse cx="1241.6" cy="1554.5" rx="2.5" ry="3.2"/>
<ellipse cx="1224.5" cy="1555.4" rx="2.5" ry="3.2"/>
<ellipse cx="1228.3" cy="1558.3" rx="2.5" ry="3.2"/>
<ellipse cx="1231.2" cy="1554.5" rx="2.5" ry="3.2"/>
<ellipse cx="1249.2" cy="1554.5" rx="2.5" ry="3.2"/>
<ellipse cx="1256.8" cy="1557.3" rx="2.5" ry="3.2"/>
<ellipse cx="1265.9" cy="1549.8" rx="2.5" ry="3.2"/>
<ellipse cx="1268.6" cy="1549.8" rx="2.5" ry="3.2"/>
<ellipse cx="1235.9" cy="1560.2" rx="2.5" ry="3.2"/>
<ellipse cx="1231.2" cy="1565.9" rx="2.5" ry="3.2"/>
<ellipse cx="1265.3" cy="1563.0" rx="2.5" ry="3.2"/>
<ellipse cx="1251.7" cy="1566.8" rx="2.5" ry="3.2"/>
<ellipse cx="1226.4" cy="1569.7" rx="2.5" ry="3.2"/>
<ellipse cx="1232.1" cy="1572.5" rx="2.5" ry="3.2"/>
<ellipse cx="1224.5" cy="1574.4" rx="2.5" ry="3.2"/>
<ellipse cx="1238.8" cy="1576.3" rx="2.5" ry="3.2"/>
<ellipse cx="1241.6" cy="1570.6" rx="2.5" ry="3.2"/>
<ellipse cx="1244.5" cy="1576.3" rx="2.5" ry="3.2"/>
<ellipse cx="1229.3" cy="1583.0" rx="2.5" ry="3.2"/>
<ellipse cx="1245.4" cy="1584.9" rx="2.5" ry="3.2"/>
<ellipse cx="1263.1" cy="1574.0" rx="2.5" ry="3.2"/>
<ellipse cx="1260.6" cy="1583.5" rx="2.5" ry="3.2"/>
<ellipse cx="1239.7" cy="1602.5" rx="2.5" ry="3.2"/>
<ellipse cx="1262.1" cy="1610.1" rx="2.5" ry="3.2"/>
<ellipse cx="1341.8" cy="1447.7" rx="2.5" ry="3.2"/>
<ellipse cx="1361.2" cy="1450.7" rx="2.5" ry="3.2"/>
<ellipse cx="1371.6" cy="1453.0" rx="2.5" ry="3.2"/>
<ellipse cx="1370.9" cy="1458.7" rx="2.5" ry="3.2"/>
<ellipse cx="1359.5" cy="1456.8" rx="2.5" ry="3.2"/>
<ellipse cx="1338.4" cy="1460.6" rx="2.5" ry="3.2"/>
<ellipse cx="1347.5" cy="1465.3" rx="2.5" ry="3.2"/>
<ellipse cx="1365.2" cy="1467.2" rx="2.5" ry="3.2"/>
<ellipse cx="1326.3" cy="1471.6" rx="2.5" ry="3.2"/>
<ellipse cx="1361.8" cy="1477.3" rx="2.5" ry="3.2"/>
<ellipse cx="1340.0" cy="1489.0" rx="2.5" ry="3.2"/>
<ellipse cx="1339.4" cy="1493.8" rx="2.5" ry="3.2"/>
<ellipse cx="1356.5" cy="1493.8" rx="2.5" ry="3.2"/>
<ellipse cx="1355.1" cy="1499.5" rx="2.5" ry="3.2"/>
<ellipse cx="1364.6" cy="1497.0" rx="2.5" ry="3.2"/>
<ellipse cx="1366.5" cy="1503.3" rx="2.5" ry="3.2"/>
<ellipse cx="1328.0" cy="1502.7" rx="2.5" ry="3.2"/>
<ellipse cx="1366.1" cy="1507.6" rx="2.5" ry="3.2"/>
<ellipse cx="1340.9" cy="1507.1" rx="2.5" ry="3.2"/>
<ellipse cx="1338.1" cy="1510.9" rx="2.5" ry="3.2"/>
<ellipse cx="1350.4" cy="1507.1" rx="2.5" ry="3.2"/>
<ellipse cx="1325.7" cy="1512.8" rx="2.5" ry="3.2"/>
<ellipse cx="1329.5" cy="1512.8" rx="2.5" ry="3.2"/>
<ellipse cx="1346.2" cy="1513.3" rx="2.5" ry="3.2"/>
<ellipse cx="1358.9" cy="1513.3" rx="2.5" ry="3.2"/>
<ellipse cx="1368.4" cy="1514.6" rx="2.5" ry="3.2"/>
<ellipse cx="1331.4" cy="1520.3" rx="2.5" ry="3.2"/>
<ellipse cx="1353.2" cy="1523.2" rx="2.5" ry="3.2"/>
<ellipse cx="1358.0" cy="1524.1" rx="2.5" ry="3.2"/>
<ellipse cx="1364.6" cy="1521.3" rx="2.5" ry="3.2"/>
<ellipse cx="1330.5" cy="1526.6" rx="2.5" ry="3.2"/>
<ellipse cx="1341.5" cy="1527.9" rx="2.5" ry="3.2"/>
<ellipse cx="1369.4" cy="1526.0" rx="2.5" ry="3.2"/>
<ellipse cx="1348.5" cy="1533.6" rx="2.5" ry="3.2"/>
<ellipse cx="1362.7" cy="1530.8" rx="2.5" ry="3.2"/>
<ellipse cx="1367.5" cy="1533.6" rx="2.5" ry="3.2"/>
<ellipse cx="1324.2" cy="1539.9" rx="2.5" ry="3.2"/>
<ellipse cx="1369.4" cy="1540.3" rx="2.5" ry="3.2"/>
<ellipse cx="1363.1" cy="1544.1" rx="2.5" ry="3.2"/>
<ellipse cx="1345.6" cy="1543.1" rx="2.5" ry="3.2"/>
<ellipse cx="1351.3" cy="1546.9" rx="2.5" ry="3.2"/>
<ellipse cx="1349.4" cy="1549.8" rx="2.5" ry="3.2"/>
<ellipse cx="1322.9" cy="1549.8" rx="2.5" ry="3.2"/>
<ellipse cx="1325.7" cy="1549.8" rx="2.5" ry="3.2"/>
<ellipse cx="1332.0" cy="1546.9" rx="2.5" ry="3.2"/>
<ellipse cx="1329.5" cy="1551.7" rx="2.5" ry="3.2"/>
<ellipse cx="1335.8" cy="1551.7" rx="2.5" ry="3.2"/>
<ellipse cx="1337.1" cy="1557.7" rx="2.5" ry="3.2"/>
<ellipse cx="1342.4" cy="1562.1" rx="2.5" ry="3.2"/>
<ellipse cx="1343.2" cy="1564.0" rx="2.5" ry="3.2"/>
<ellipse cx="1334.3" cy="1566.3" rx="2.5" ry="3.2"/>
<ellipse cx="1323.8" cy="1572.5" rx="2.5" ry="3.2"/>
<ellipse cx="1335.8" cy="1580.1" rx="2.5" ry="3.2"/>
<ellipse cx="1333.9" cy="1586.8" rx="2.5" ry="3.2"/>
<ellipse cx="1332.9" cy="1598.1" rx="2.5" ry="3.2"/>
<ellipse cx="1336.5" cy="1609.1" rx="2.5" ry="3.2"/>
<ellipse cx="1344.1" cy="1626.6" rx="2.5" ry="3.2"/>
<ellipse cx="1344.7" cy="1659.2" rx="2.5" ry="3.2"/>
<ellipse cx="1440.1" cy="1442.0" rx="2.5" ry="3.2"/>
<ellipse cx="1434.4" cy="1483.7" rx="2.5" ry="3.2"/>
<ellipse cx="1428.2" cy="1494.3" rx="2.5" ry="3.2"/>
<ellipse cx="1431.0" cy="1500.4" rx="2.5" ry="3.2"/>
<ellipse cx="1438.6" cy="1497.6" rx="2.5" ry="3.2"/>
<ellipse cx="1443.4" cy="1502.3" rx="2.5" ry="3.2"/>
<ellipse cx="1451.9" cy="1498.5" rx="2.5" ry="3.2"/>
<ellipse cx="1457.2" cy="1500.8" rx="2.5" ry="3.2"/>
<ellipse cx="1432.9" cy="1504.2" rx="2.5" ry="3.2"/>
<ellipse cx="1436.7" cy="1509.9" rx="2.5" ry="3.2"/>
<ellipse cx="1441.5" cy="1509.9" rx="2.5" ry="3.2"/>
<ellipse cx="1446.2" cy="1507.1" rx="2.5" ry="3.2"/>
<ellipse cx="1450.0" cy="1511.8" rx="2.5" ry="3.2"/>
<ellipse cx="1434.8" cy="1517.5" rx="2.5" ry="3.2"/>
<ellipse cx="1442.8" cy="1521.7" rx="2.5" ry="3.2"/>
<ellipse cx="1447.7" cy="1521.3" rx="2.5" ry="3.2"/>
<ellipse cx="1423.4" cy="1514.6" rx="2.5" ry="3.2"/>
<ellipse cx="1422.5" cy="1520.3" rx="2.5" ry="3.2"/>
<ellipse cx="1431.0" cy="1516.5" rx="2.5" ry="3.2"/>
<ellipse cx="1458.5" cy="1512.8" rx="2.5" ry="3.2"/>
<ellipse cx="1463.3" cy="1517.5" rx="2.5" ry="3.2"/>
<ellipse cx="1469.9" cy="1524.7" rx="2.5" ry="3.2"/>
<ellipse cx="1468.0" cy="1529.3" rx="2.5" ry="3.2"/>
<ellipse cx="1429.1" cy="1524.7" rx="2.5" ry="3.2"/>
<ellipse cx="1453.8" cy="1529.8" rx="2.5" ry="3.2"/>
<ellipse cx="1432.9" cy="1531.7" rx="2.5" ry="3.2"/>
<ellipse cx="1468.0" cy="1535.5" rx="2.5" ry="3.2"/>
<ellipse cx="1428.8" cy="1538.4" rx="2.5" ry="3.2"/>
<ellipse cx="1435.8" cy="1543.1" rx="2.5" ry="3.2"/>
<ellipse cx="1444.3" cy="1541.2" rx="2.5" ry="3.2"/>
<ellipse cx="1459.1" cy="1542.2" rx="2.5" ry="3.2"/>
<ellipse cx="1425.3" cy="1545.0" rx="2.5" ry="3.2"/>
<ellipse cx="1467.1" cy="1546.3" rx="2.5" ry="3.2"/>
<ellipse cx="1450.0" cy="1547.5" rx="2.5" ry="3.2"/>
<ellipse cx="1453.4" cy="1546.9" rx="2.5" ry="3.2"/>
<ellipse cx="1426.3" cy="1550.7" rx="2.5" ry="3.2"/>
<ellipse cx="1427.2" cy="1553.9" rx="2.5" ry="3.2"/>
<ellipse cx="1442.4" cy="1553.5" rx="2.5" ry="3.2"/>
<ellipse cx="1455.7" cy="1552.0" rx="2.5" ry="3.2"/>
<ellipse cx="1465.2" cy="1553.9" rx="2.5" ry="3.2"/>
<ellipse cx="1425.3" cy="1558.3" rx="2.5" ry="3.2"/>
<ellipse cx="1455.7" cy="1558.3" rx="2.5" ry="3.2"/>
<ellipse cx="1461.4" cy="1560.2" rx="2.5" ry="3.2"/>
<ellipse cx="1466.1" cy="1564.0" rx="2.5" ry="3.2"/>
<ellipse cx="1423.1" cy="1564.6" rx="2.5" ry="3.2"/>
<ellipse cx="1464.2" cy="1569.7" rx="2.5" ry="3.2"/>
<ellipse cx="1469.0" cy="1572.1" rx="2.5" ry="3.2"/>
<ellipse cx="1421.5" cy="1575.9" rx="2.5" ry="3.2"/>
<ellipse cx="1462.0" cy="1577.3" rx="2.5" ry="3.2"/>
<ellipse cx="1454.9" cy="1594.3" rx="2.5" ry="3.2"/>
<ellipse cx="1462.7" cy="1594.7" rx="2.5" ry="3.2"/>
<ellipse cx="1459.9" cy="1603.5" rx="2.5" ry="3.2"/>
<ellipse cx="1457.6" cy="1614.8" rx="2.5" ry="3.2"/>
</g>
<line x1="1149.6" y1="1517.3" x2="1149.6" y2="1513.9" stroke="#000" stroke-width="1.8"/>
<line x1="1138.8" y1="1513.9" x2="1160.4" y2="1513.9" stroke="#000" stroke-width="1.9"/>
<line x1="1248.5" y1="1543.5" x2="1248.5" y2="1547.0" stroke="#000" stroke-width="1.8"/>
<line x1="1237.7" y1="1547.0" x2="1259.3" y2="1547.0" stroke="#000" stroke-width="1.9"/>
<line x1="1347.4" y1="1522.1" x2="1347.4" y2="1518.0" stroke="#000" stroke-width="1.8"/>
<line x1="1336.6" y1="1518.0" x2="1358.2" y2="1518.0" stroke="#000" stroke-width="1.9"/>
<line x1="1446.3" y1="1533.4" x2="1446.3" y2="1536.9" stroke="#000" stroke-width="1.8"/>
<line x1="1435.5" y1="1536.9" x2="1457.1" y2="1536.9" stroke="#000" stroke-width="1.9"/>
<path d="M1149.6,1518.2 L1149.6,1531.2 M1144.4,1521.7 L1154.8,1527.7 M1144.4,1527.7 L1154.8,1521.7" stroke="#fff" stroke-width="2.7" fill="none"/>
<path d="M1248.5,1531.9 L1248.5,1544.9 M1243.3,1535.4 L1253.7,1541.4 M1243.3,1541.4 L1253.7,1535.4" stroke="#fff" stroke-width="2.7" fill="none"/>
<line x1="1100.9" y1="1530.9" x2="1496.0" y2="1530.9" stroke="#262626" stroke-width="1.9"/>
<path d="M1100.9,1341.7 L1100.9,1720.1 L1496.0,1720.1" fill="none" stroke="#262626" stroke-width="1.9" stroke-linecap="square"/>
<line x1="1100.9" y1="1373.2" x2="1105.9" y2="1373.2" stroke="#262626" stroke-width="1.9"/>
<text transform="translate(1093.30,1382.23) scale(0.86,1)" font-size="34" text-anchor="end" font-weight="normal" fill="#262626">0.5</text>
<line x1="1100.9" y1="1530.9" x2="1105.9" y2="1530.9" stroke="#262626" stroke-width="1.9"/>
<text transform="translate(1093.30,1539.90) scale(0.86,1)" font-size="34" text-anchor="end" font-weight="normal" fill="#262626">0</text>
<line x1="1100.9" y1="1688.6" x2="1105.9" y2="1688.6" stroke="#262626" stroke-width="1.9"/>
<text transform="translate(1093.30,1697.57) scale(0.86,1)" font-size="34" text-anchor="end" font-weight="normal" fill="#262626">-0.5</text>
<line x1="1149.6" y1="1720.1" x2="1149.6" y2="1715.1" stroke="#262626" stroke-width="1.9"/>
<text transform="translate(1149.60,1749.60) scale(0.98,1)" font-size="34" text-anchor="middle" font-weight="normal" fill="#262626">R</text>
<line x1="1248.5" y1="1720.1" x2="1248.5" y2="1715.1" stroke="#262626" stroke-width="1.9"/>
<text transform="translate(1248.50,1749.60) scale(0.98,1)" font-size="34" text-anchor="middle" font-weight="normal" fill="#262626">Qr</text>
<line x1="1347.4" y1="1720.1" x2="1347.4" y2="1715.1" stroke="#262626" stroke-width="1.9"/>
<text transform="translate(1347.40,1749.60) scale(0.98,1)" font-size="34" text-anchor="middle" font-weight="normal" fill="#262626">P</text>
<line x1="1446.3" y1="1720.1" x2="1446.3" y2="1715.1" stroke="#262626" stroke-width="1.9"/>
<text transform="translate(1446.30,1749.60) scale(0.98,1)" font-size="34" text-anchor="middle" font-weight="normal" fill="#262626">Qp</text>
<text transform="translate(1035.50,1531.90) rotate(-90) scale(0.94,1)" font-size="34" text-anchor="middle" fill="#262626">Regression estimate</text>
<text transform="translate(1298.50,1782.60) scale(0.93,1)" font-size="34" text-anchor="middle" font-weight="normal" fill="#262626">PE components</text>
<text transform="translate(44.00,35.60)" font-size="47" text-anchor="start" font-weight="bold" fill="#231F20">a</text>
<text transform="translate(528.00,35.00)" font-size="47" text-anchor="start" font-weight="bold" fill="#231F20">b</text>
<text transform="translate(1014.00,35.00)" font-size="47" text-anchor="start" font-weight="bold" fill="#231F20">c</text>
</svg></body></html>
